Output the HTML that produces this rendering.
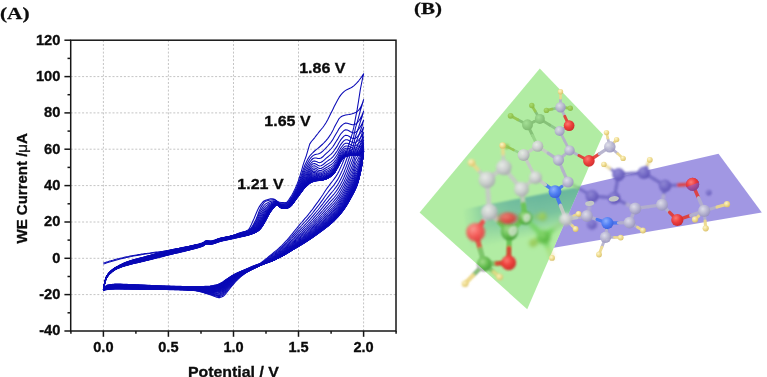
<!DOCTYPE html>
<html><head><meta charset="utf-8"><title>Figure</title>
<style>
html,body{margin:0;padding:0;background:#fff;}
body{width:767px;height:377px;overflow:hidden;}
svg{display:block;}
text{white-space:pre;}
</style></head>
<body>
<svg width="767" height="377" viewBox="0 0 767 377">
<rect width="767" height="377" fill="#ffffff"/>
<defs><clipPath id="pclip"><polygon points="603,134.4 767,100 767,377 498,377 527.2,309.2"/></clipPath></defs>
<g id="mol">
<defs>
<radialGradient id="gC" cx="0.38" cy="0.34" r="0.75"><stop offset="0" stop-color="#eceeec"/><stop offset="0.5" stop-color="#cdcfd0"/><stop offset="1" stop-color="#9c9ea4"/></radialGradient>
<radialGradient id="gCd" cx="0.38" cy="0.34" r="0.75"><stop offset="0" stop-color="#928ad6"/><stop offset="0.5" stop-color="#746ac6"/><stop offset="1" stop-color="#574cb0"/></radialGradient>
<radialGradient id="gCg" cx="0.38" cy="0.34" r="0.75"><stop offset="0" stop-color="#e2e2e2"/><stop offset="0.5" stop-color="#b2b2b2"/><stop offset="1" stop-color="#888888"/></radialGradient>
<radialGradient id="gHg" cx="0.38" cy="0.34" r="0.75"><stop offset="0" stop-color="#e6d890"/><stop offset="0.5" stop-color="#c8b050"/><stop offset="1" stop-color="#a08a30"/></radialGradient>
<radialGradient id="gCp" cx="0.38" cy="0.34" r="0.75"><stop offset="0" stop-color="#e2e2ec"/><stop offset="0.5" stop-color="#bab8d2"/><stop offset="1" stop-color="#8f8ab8"/></radialGradient>
<radialGradient id="gH" cx="0.38" cy="0.34" r="0.75"><stop offset="0" stop-color="#fdf6cf"/><stop offset="0.5" stop-color="#f0dc8c"/><stop offset="1" stop-color="#d2b860"/></radialGradient>
<radialGradient id="gO" cx="0.38" cy="0.34" r="0.75"><stop offset="0" stop-color="#ff7c74"/><stop offset="0.5" stop-color="#ee3836"/><stop offset="1" stop-color="#c62022"/></radialGradient>
<radialGradient id="gOl" cx="0.38" cy="0.34" r="0.75"><stop offset="0" stop-color="#ff9a94"/><stop offset="0.5" stop-color="#f65a58"/><stop offset="1" stop-color="#d83a3c"/></radialGradient>
<radialGradient id="gGg" cx="0.38" cy="0.34" r="0.75"><stop offset="0" stop-color="#98dc80"/><stop offset="0.5" stop-color="#60c048"/><stop offset="1" stop-color="#44a030"/></radialGradient>
<radialGradient id="gGs" cx="0.38" cy="0.34" r="0.75"><stop offset="0" stop-color="#a8e090"/><stop offset="0.5" stop-color="#62bc4c"/><stop offset="1" stop-color="#3c9030"/></radialGradient>
<radialGradient id="gOp" cx="0.38" cy="0.34" r="0.75"><stop offset="0" stop-color="#c878b0"/><stop offset="0.5" stop-color="#a8509c"/><stop offset="1" stop-color="#7c3c8c"/></radialGradient>
<radialGradient id="gN" cx="0.38" cy="0.34" r="0.75"><stop offset="0" stop-color="#8fb2ff"/><stop offset="0.5" stop-color="#4f7ef4"/><stop offset="1" stop-color="#3458d6"/></radialGradient>
<filter id="b04" filterUnits="userSpaceOnUse" x="400" y="40" width="367" height="300"><feGaussianBlur stdDeviation="0.35"/></filter>
<filter id="b05" filterUnits="userSpaceOnUse" x="400" y="40" width="367" height="300"><feGaussianBlur stdDeviation="0.5"/></filter>
<filter id="b06" filterUnits="userSpaceOnUse" x="400" y="40" width="367" height="300"><feGaussianBlur stdDeviation="0.6"/></filter>
<filter id="b07" filterUnits="userSpaceOnUse" x="400" y="40" width="367" height="300"><feGaussianBlur stdDeviation="0.7"/></filter>
<filter id="b08" filterUnits="userSpaceOnUse" x="400" y="40" width="367" height="300"><feGaussianBlur stdDeviation="0.8"/></filter>
<filter id="b09" filterUnits="userSpaceOnUse" x="400" y="40" width="367" height="300"><feGaussianBlur stdDeviation="0.9"/></filter>
<filter id="b10" filterUnits="userSpaceOnUse" x="400" y="40" width="367" height="300"><feGaussianBlur stdDeviation="1.0"/></filter>
<filter id="b11" filterUnits="userSpaceOnUse" x="400" y="40" width="367" height="300"><feGaussianBlur stdDeviation="1.1"/></filter>
<filter id="b12" filterUnits="userSpaceOnUse" x="400" y="40" width="367" height="300"><feGaussianBlur stdDeviation="1.2"/></filter>
<filter id="b13" filterUnits="userSpaceOnUse" x="400" y="40" width="367" height="300"><feGaussianBlur stdDeviation="1.3"/></filter>
<filter id="b14" filterUnits="userSpaceOnUse" x="400" y="40" width="367" height="300"><feGaussianBlur stdDeviation="1.4"/></filter>
<filter id="b15" filterUnits="userSpaceOnUse" x="400" y="40" width="367" height="300"><feGaussianBlur stdDeviation="1.5"/></filter>
<filter id="b20" filterUnits="userSpaceOnUse" x="400" y="40" width="367" height="300"><feGaussianBlur stdDeviation="2.0"/></filter>
<filter id="b22" filterUnits="userSpaceOnUse" x="400" y="40" width="367" height="300"><feGaussianBlur stdDeviation="2.2"/></filter>
<filter id="b30" filterUnits="userSpaceOnUse" x="400" y="40" width="367" height="300"><feGaussianBlur stdDeviation="3.0"/></filter>
<clipPath id="gclip"><polygon points="539.8,68.5 603.0,134.4 527.2,309.2 419.6,212.6"/></clipPath>
<clipPath id="o5clip"><polygon points="680,189.5 704,180.5 704,170 680,170"/></clipPath>
<clipPath id="gout"><polygon points="419.6,212.6 527.2,309.2 527,345 400,345 400,212"/></clipPath>
</defs>
<circle cx="692.6" cy="184.3" r="6.6" fill="url(#gO)" filter="url(#b07)" opacity="1.0"/>
<linearGradient id="tealg" gradientUnits="userSpaceOnUse" x1="530" y1="196" x2="538.4" y2="236"><stop offset="0" stop-color="#5c84f2" stop-opacity="1"/><stop offset="0.5" stop-color="#6088f2" stop-opacity="0.78"/><stop offset="1" stop-color="#6a90f0" stop-opacity="0.0"/></linearGradient>
<linearGradient id="tealm" gradientUnits="userSpaceOnUse" x1="462" y1="0" x2="540" y2="0"><stop offset="0" stop-color="#fff" stop-opacity="0"/><stop offset="0.12" stop-color="#fff" stop-opacity="0.2"/><stop offset="0.3" stop-color="#fff" stop-opacity="0.62"/><stop offset="0.6" stop-color="#fff" stop-opacity="0.86"/><stop offset="1" stop-color="#fff" stop-opacity="1"/></linearGradient>
<mask id="tmask" maskUnits="userSpaceOnUse" x="400" y="100" width="250" height="250"><rect x="400" y="100" width="250" height="250" fill="url(#tealm)"/></mask>
<g clip-path="url(#gclip)"><g mask="url(#tmask)"><polygon points="462,209.6 590,184.8 600,260 470,250" fill="url(#tealg)" filter="url(#b08)"/></g></g>
<polygon points="540,195 718.5,153.8 761.8,212.4 540,250" fill="#8a7edc" opacity="0.8" filter="url(#b04)" clip-path="url(#pclip)"/>
<g filter="url(#b09)" stroke-width="2.70" stroke-linecap="round" opacity="0.9"><path d="M618.6,174.5 L609.7,168.4" stroke="#736ac4"/><path d="M609.7,168.4 L603.9,164.4" stroke="#ecd98c"/></g>
<g filter="url(#b10)" stroke-width="3.14" stroke-linecap="round" opacity="0.9"><path d="M568.0,182.0 L579.7,188.9" stroke="#b4b0cc"/><path d="M579.7,188.9 L592.0,196.2" stroke="#736ac4"/></g>
<g filter="url(#b09)" stroke-width="3.47" stroke-linecap="round" opacity="0.9"><path d="M618.6,174.5 L631.3,173.6" stroke="#736ac4"/><path d="M631.3,173.6 L643.8,172.8" stroke="#736ac4"/></g>
<g filter="url(#b09)" stroke-width="3.47" stroke-linecap="round" opacity="0.9"><path d="M618.6,174.5 L616.4,186.3" stroke="#736ac4"/><path d="M616.4,186.3 L614.2,198.0" stroke="#736ac4"/></g>
<g filter="url(#b09)" stroke-width="3.47" stroke-linecap="round" opacity="0.9"><path d="M643.8,172.8 L654.4,179.3" stroke="#736ac4"/><path d="M654.4,179.3 L665.0,185.8" stroke="#736ac4"/></g>
<g filter="url(#b09)" stroke-width="2.90" stroke-linecap="round" opacity="0.9"><path d="M643.8,172.8 L647.5,164.8" stroke="#736ac4"/><path d="M647.5,164.8 L649.8,159.8" stroke="#ecd98c"/></g>
<g filter="url(#b09)" stroke-width="3.36" stroke-linecap="round" opacity="0.9"><path d="M665.0,185.8 L663.5,195.4" stroke="#736ac4"/><path d="M663.5,195.4 L662.0,204.8" stroke="#b4b0cc"/></g>
<g filter="url(#b09)" stroke-width="3.47" stroke-linecap="round" opacity="0.9"><path d="M665.0,185.8 L678.6,185.1" stroke="#736ac4"/><path d="M678.6,185.1 L692.6,184.3" stroke="#e23a36"/></g>
<g filter="url(#b06)" stroke-width="3.42" stroke-linecap="round" opacity="0.9"><path d="M692.6,184.3 L698.5,197.8" stroke="#e23a36"/><path d="M698.5,197.8 L704.2,210.9" stroke="#b4b0cc"/></g>
<g filter="url(#b08)" stroke-width="3.36" stroke-linecap="round" opacity="0.9"><path d="M635.3,208.5 L624.8,203.3" stroke="#b4b0cc"/><path d="M624.8,203.3 L614.2,198.0" stroke="#736ac4"/></g>
<g filter="url(#b10)" stroke-width="3.47" stroke-linecap="round" opacity="0.9"><path d="M614.2,198.0 L603.2,197.1" stroke="#736ac4"/><path d="M603.2,197.1 L592.0,196.2" stroke="#736ac4"/></g>
<g filter="url(#b10)" stroke-width="3.30" stroke-linecap="round" opacity="0.9"><path d="M592.0,196.2 L589.4,206.3" stroke="#736ac4"/><path d="M589.4,206.3 L587.0,216.0" stroke="#b4b0cc"/></g>
<circle cx="618.6" cy="174.5" r="6.4" fill="url(#gCd)" filter="url(#b11)" opacity="0.95"/>
<circle cx="643.8" cy="172.8" r="6.2" fill="url(#gCd)" filter="url(#b11)" opacity="0.95"/>
<circle cx="665.0" cy="185.8" r="6.2" fill="url(#gCd)" filter="url(#b11)" opacity="0.95"/>
<circle cx="614.2" cy="198.0" r="6.2" fill="url(#gCd)" filter="url(#b10)" opacity="0.95"/>
<circle cx="592.0" cy="196.2" r="6.4" fill="url(#gCd)" filter="url(#b12)" opacity="0.95"/>
<circle cx="708.7" cy="192.6" r="2.8" fill="url(#gCd)" filter="url(#b12)" opacity="0.95"/>
<circle cx="592.0" cy="224.5" r="5.0" fill="url(#gCd)" filter="url(#b15)" opacity="0.95"/>
<g filter="url(#b05)" stroke-width="2.70" stroke-linecap="round" opacity="1.0"><path d="M560.5,107.2 L552.2,109.1" stroke="#b4b0cc"/><path d="M552.2,109.1 L546.4,110.4" stroke="#c4ae50"/></g>
<g filter="url(#b05)" stroke-width="2.70" stroke-linecap="round" opacity="1.0"><path d="M560.5,107.2 L566.6,107.9" stroke="#b4b0cc"/><path d="M566.6,107.9 L570.3,108.3" stroke="#c4ae50"/></g>
<g filter="url(#b05)" stroke-width="2.80" stroke-linecap="round" opacity="1.0"><path d="M559.6,131.0 L549.7,125.0" stroke="#b4b0cc"/><path d="M549.7,125.0 L539.8,118.9" stroke="#a0a0a0"/></g>
<g filter="url(#b05)" stroke-width="2.80" stroke-linecap="round" opacity="1.0"><path d="M539.8,118.9 L533.9,121.7" stroke="#a0a0a0"/><path d="M533.9,121.7 L527.5,124.8" stroke="#a0a0a0"/></g>
<g filter="url(#b05)" stroke-width="2.70" stroke-linecap="round" opacity="1.0"><path d="M539.8,118.9 L535.2,111.2" stroke="#a0a0a0"/><path d="M535.2,111.2 L531.8,105.5" stroke="#c4ae50"/></g>
<g filter="url(#b05)" stroke-width="2.90" stroke-linecap="round" opacity="1.0"><path d="M527.5,124.8 L517.9,119.7" stroke="#a0a0a0"/><path d="M517.9,119.7 L510.6,115.8" stroke="#c4ae50"/></g>
<g filter="url(#b05)" stroke-width="3.08" stroke-linecap="round" opacity="1.0"><path d="M527.5,124.8 L532.6,135.5" stroke="#a0a0a0"/><path d="M532.6,135.5 L537.7,146.2" stroke="#c6cac6"/></g>
<g filter="url(#b06)" stroke-width="2.60" stroke-linecap="round" opacity="1.0"><path d="M523.6,154.9 L513.5,149.9" stroke="#c6cac6"/><path d="M513.5,149.9 L506.5,146.4" stroke="#c4ae50"/></g>
<g filter="url(#b09)" stroke-width="3.92" stroke-linecap="round" opacity="1.0"><path d="M521.5,189.3 L523.3,203.8" stroke="#c6cac6"/><path d="M523.3,203.8 L525.0,217.8" stroke="#6cc058"/></g>
<g filter="url(#b10)" stroke-width="4.70" stroke-linecap="round" opacity="1.0"><path d="M489.4,212.1 L499.3,221.9" stroke="#c6cac6"/><path d="M499.3,221.9 L509.4,231.8" stroke="#6cc058"/></g>
<g filter="url(#b11)" stroke-width="4.03" stroke-linecap="round" opacity="1.0"><path d="M475.6,232.2 L480.2,249.1" stroke="#ee4a48"/><path d="M480.2,249.1 L484.3,264.0" stroke="#a0a0a0"/></g>
<g filter="url(#b10)" stroke-width="4.14" stroke-linecap="round" opacity="1.0"><path d="M509.4,231.8 L509.0,247.9" stroke="#6cc058"/><path d="M509.0,247.9 L508.7,262.8" stroke="#e23a36"/></g>
<g filter="url(#b08)" stroke-width="4.03" stroke-linecap="round" opacity="1.0"><path d="M484.3,264.0 L496.4,263.4" stroke="#a0a0a0"/><path d="M496.4,263.4 L508.7,262.8" stroke="#e23a36"/></g>
<g filter="url(#b08)" stroke-width="3.30" stroke-linecap="round" opacity="1.0"><path d="M484.3,264.0 L473.3,275.2" stroke="#a0a0a0"/><path d="M473.3,275.2 L465.0,283.7" stroke="#ecd98c"/></g>
<g filter="url(#b08)" stroke-width="3.30" stroke-linecap="round" opacity="1.0"><path d="M484.3,264.0 L493.4,271.8" stroke="#a0a0a0"/><path d="M493.4,271.8 L499.6,277.0" stroke="#ecd98c"/></g>
<g filter="url(#b10)" stroke-width="3.92" stroke-linecap="round" opacity="1.0"><path d="M525.0,217.8 L517.8,224.3" stroke="#6cc058"/><path d="M517.8,224.3 L509.4,231.8" stroke="#6cc058"/></g>
<g filter="url(#b20)" stroke-width="3.70" stroke-linecap="round" opacity="1.0"><path d="M525.0,217.8 L534.5,227.5" stroke="#6cc058"/><path d="M534.5,227.5 L543.8,237.0" stroke="#5cc044"/></g>
<g filter="url(#b20)" stroke-width="3.70" stroke-linecap="round" opacity="1.0"><path d="M543.8,237.0 L554.8,228.2" stroke="#5cc044"/><path d="M554.8,228.2 L565.9,219.4" stroke="#c6cac6"/></g>
<g filter="url(#b20)" stroke-width="2.90" stroke-linecap="round" opacity="1.0"><path d="M543.8,237.0 L548.6,249.2" stroke="#5cc044"/><path d="M548.6,249.2 L552.0,257.9" stroke="#ecd98c"/></g>
<g filter="url(#b20)" stroke-width="3.50" stroke-linecap="round" opacity="1.0"><path d="M543.8,237.0 L537.0,240.7" stroke="#5cc044"/><path d="M537.0,240.7 L532.9,243.0" stroke="#c4ae50"/></g>
<g filter="url(#b20)" stroke-width="2.24" stroke-linecap="round" opacity="1.0"><path d="M525.0,217.8 L535.2,217.0" stroke="#6cc058"/><path d="M535.2,217.0 L542.4,216.5" stroke="#c4ae50"/></g>
<circle cx="546.4" cy="110.4" r="2.7" fill="url(#gHg)" filter="url(#b06)" opacity="1.0"/>
<circle cx="570.3" cy="108.3" r="2.7" fill="url(#gHg)" filter="url(#b06)" opacity="1.0"/>
<circle cx="539.8" cy="118.9" r="5.0" fill="url(#gCg)" filter="url(#b06)" opacity="1.0"/>
<circle cx="527.5" cy="124.8" r="5.5" fill="url(#gCg)" filter="url(#b06)" opacity="1.0"/>
<circle cx="531.8" cy="105.5" r="2.7" fill="url(#gHg)" filter="url(#b06)" opacity="1.0"/>
<circle cx="510.6" cy="115.8" r="2.9" fill="url(#gHg)" filter="url(#b06)" opacity="1.0"/>
<circle cx="506.5" cy="146.4" r="2.6" fill="url(#gHg)" filter="url(#b08)" opacity="1.0"/>
<circle cx="484.3" cy="264.0" r="7.2" fill="url(#gCg)" filter="url(#b10)" opacity="1.0"/>
<circle cx="542.4" cy="216.5" r="4.0" fill="url(#gHg)" filter="url(#b22)" opacity="1.0"/>
<circle cx="532.9" cy="243.0" r="3.5" fill="url(#gHg)" filter="url(#b22)" opacity="1.0"/>
<polygon points="539.8,68.5 603.0,134.4 527.2,309.2 419.6,212.6" fill="#72de58" opacity="0.55" filter="url(#b04)"/>
<g filter="url(#b11)" stroke-width="4.03" stroke-linecap="round" opacity="0.85"><path d="M475.6,232.2 L480.2,249.1" stroke="#ee4a48"/><path d="M480.2,249.1 L484.3,264.0" stroke="#7cc868"/></g>
<g filter="url(#b08)" stroke-width="4.03" stroke-linecap="round" opacity="0.85"><path d="M484.3,264.0 L496.4,263.4" stroke="#7cc868"/><path d="M496.4,263.4 L508.7,262.8" stroke="#e23a36"/></g>
<g filter="url(#b10)" stroke-width="4.14" stroke-linecap="round" opacity="0.85"><path d="M509.4,231.8 L509.0,247.9" stroke="#6cc058"/><path d="M509.0,247.9 L508.7,262.8" stroke="#e23a36"/></g>
<g filter="url(#b08)" stroke-width="3.30" stroke-linecap="round" opacity="0.85"><path d="M484.3,264.0 L473.3,275.2" stroke="#7cc868"/><path d="M473.3,275.2 L465.0,283.7" stroke="#ecd98c"/></g>
<g filter="url(#b08)" stroke-width="3.30" stroke-linecap="round" opacity="0.85"><path d="M484.3,264.0 L493.4,271.8" stroke="#7cc868"/><path d="M493.4,271.8 L499.6,277.0" stroke="#ecd98c"/></g>
<g filter="url(#b10)" stroke-width="4.70" stroke-linecap="round" opacity="0.85"><path d="M489.4,212.1 L499.3,221.9" stroke="#c6cac6"/><path d="M499.3,221.9 L509.4,231.8" stroke="#6cc058"/></g>
<g filter="url(#b10)" stroke-width="3.92" stroke-linecap="round" opacity="0.85"><path d="M525.0,217.8 L517.8,224.3" stroke="#6cc058"/><path d="M517.8,224.3 L509.4,231.8" stroke="#6cc058"/></g>
<g filter="url(#b09)" stroke-width="3.92" stroke-linecap="round" opacity="0.85"><path d="M521.5,189.3 L523.3,203.8" stroke="#c6cac6"/><path d="M523.3,203.8 L525.0,217.8" stroke="#6cc058"/></g>
<g filter="url(#b05)" stroke-width="2.70" stroke-linecap="round" opacity="0.92"><path d="M560.5,107.2 L560.5,98.2" stroke="#b4b0cc"/><path d="M560.5,98.2 L560.5,91.8" stroke="#ecd98c"/></g>
<g filter="url(#b05)" stroke-width="2.91" stroke-linecap="round" opacity="0.92"><path d="M560.5,107.2 L564.8,116.3" stroke="#b4b0cc"/><path d="M564.8,116.3 L569.1,125.6" stroke="#e23a36"/></g>
<g filter="url(#b05)" stroke-width="2.80" stroke-linecap="round" opacity="0.92"><path d="M569.1,125.6 L564.2,128.4" stroke="#e23a36"/><path d="M564.2,128.4 L559.6,131.0" stroke="#b4b0cc"/></g>
<g filter="url(#b05)" stroke-width="2.80" stroke-linecap="round" opacity="0.92"><path d="M559.6,131.0 L564.5,140.6" stroke="#b4b0cc"/><path d="M564.5,140.6 L569.5,150.4" stroke="#b4b0cc"/></g>
<g filter="url(#b06)" stroke-width="3.14" stroke-linecap="round" opacity="0.92"><path d="M537.7,146.2 L530.8,150.4" stroke="#c6cac6"/><path d="M530.8,150.4 L523.6,154.9" stroke="#c6cac6"/></g>
<g filter="url(#b05)" stroke-width="3.14" stroke-linecap="round" opacity="0.92"><path d="M537.7,146.2 L548.1,153.1" stroke="#c6cac6"/><path d="M548.1,153.1 L558.5,160.1" stroke="#b4b0cc"/></g>
<g filter="url(#b05)" stroke-width="2.91" stroke-linecap="round" opacity="0.92"><path d="M569.5,150.4 L564.2,155.1" stroke="#b4b0cc"/><path d="M564.2,155.1 L558.5,160.1" stroke="#b4b0cc"/></g>
<g filter="url(#b05)" stroke-width="2.91" stroke-linecap="round" opacity="0.92"><path d="M569.5,150.4 L578.9,155.5" stroke="#b4b0cc"/><path d="M578.9,155.5 L588.9,160.9" stroke="#e23a36"/></g>
<g filter="url(#b06)" stroke-width="3.36" stroke-linecap="round" opacity="0.92"><path d="M523.6,154.9 L529.5,166.0" stroke="#c6cac6"/><path d="M529.5,166.0 L535.6,177.5" stroke="#c6cac6"/></g>
<g filter="url(#b05)" stroke-width="3.14" stroke-linecap="round" opacity="0.92"><path d="M558.5,160.1 L563.2,171.1" stroke="#b4b0cc"/><path d="M563.2,171.1 L568.0,182.0" stroke="#b4b0cc"/></g>
<g filter="url(#b06)" stroke-width="3.14" stroke-linecap="round" opacity="0.92"><path d="M568.0,182.0 L561.8,186.6" stroke="#b4b0cc"/><path d="M561.8,186.6 L555.0,191.6" stroke="#4474f0"/></g>
<g filter="url(#b06)" stroke-width="3.58" stroke-linecap="round" opacity="0.92"><path d="M555.0,191.6 L545.3,184.6" stroke="#4474f0"/><path d="M545.3,184.6 L535.6,177.5" stroke="#c6cac6"/></g>
<g filter="url(#b06)" stroke-width="3.58" stroke-linecap="round" opacity="0.92"><path d="M555.0,191.6 L560.4,205.4" stroke="#4474f0"/><path d="M560.4,205.4 L565.9,219.4" stroke="#c6cac6"/></g>
<g filter="url(#b08)" stroke-width="3.58" stroke-linecap="round" opacity="0.92"><path d="M535.6,177.5 L529.0,183.0" stroke="#c6cac6"/><path d="M529.0,183.0 L521.5,189.3" stroke="#c6cac6"/></g>
<g filter="url(#b08)" stroke-width="3.28" stroke-linecap="round" opacity="0.92"><path d="M503.8,167.5 L503.1,154.2" stroke="#c6cac6"/><path d="M503.1,154.2 L502.6,145.4" stroke="#ecd98c"/></g>
<g filter="url(#b08)" stroke-width="4.20" stroke-linecap="round" opacity="0.92"><path d="M503.8,167.5 L512.7,178.5" stroke="#c6cac6"/><path d="M512.7,178.5 L521.5,189.3" stroke="#c6cac6"/></g>
<g filter="url(#b10)" stroke-width="4.37" stroke-linecap="round" opacity="0.92"><path d="M503.8,167.5 L495.6,173.5" stroke="#c6cac6"/><path d="M495.6,173.5 L487.0,179.8" stroke="#c6cac6"/></g>
<g filter="url(#b10)" stroke-width="3.70" stroke-linecap="round" opacity="0.92"><path d="M487.0,179.8 L477.7,169.5" stroke="#c6cac6"/><path d="M477.7,169.5 L471.5,162.6" stroke="#ecd98c"/></g>
<g filter="url(#b10)" stroke-width="4.70" stroke-linecap="round" opacity="0.92"><path d="M487.0,179.8 L488.2,195.9" stroke="#c6cac6"/><path d="M488.2,195.9 L489.4,212.1" stroke="#c6cac6"/></g>
<g filter="url(#b11)" stroke-width="4.70" stroke-linecap="round" opacity="0.92"><path d="M489.4,212.1 L482.8,221.8" stroke="#c6cac6"/><path d="M482.8,221.8 L475.6,232.2" stroke="#ee4a48"/></g>
<g filter="url(#b06)" stroke-width="2.90" stroke-linecap="round" opacity="0.92"><path d="M565.9,219.4 L573.9,215.9" stroke="#c6cac6"/><path d="M573.9,215.9 L578.6,213.8" stroke="#ecd98c"/></g>
<g filter="url(#b06)" stroke-width="2.90" stroke-linecap="round" opacity="0.92"><path d="M565.9,219.4 L572.1,225.5" stroke="#c6cac6"/><path d="M572.1,225.5 L575.6,229.0" stroke="#ecd98c"/></g>
<g filter="url(#b05)" stroke-width="3.25" stroke-linecap="round" opacity="0.92"><path d="M588.9,160.9 L599.3,153.9" stroke="#e23a36"/><path d="M599.3,153.9 L609.8,146.8" stroke="#b4b0cc"/></g>
<g filter="url(#b05)" stroke-width="2.70" stroke-linecap="round" opacity="0.92"><path d="M609.8,146.8 L607.8,138.2" stroke="#b4b0cc"/><path d="M607.8,138.2 L606.5,132.6" stroke="#ecd98c"/></g>
<g filter="url(#b05)" stroke-width="2.70" stroke-linecap="round" opacity="0.92"><path d="M609.8,146.8 L614.3,142.1" stroke="#b4b0cc"/><path d="M614.3,142.1 L616.6,139.6" stroke="#ecd98c"/></g>
<g filter="url(#b05)" stroke-width="2.70" stroke-linecap="round" opacity="0.92"><path d="M609.8,146.8 L617.6,153.6" stroke="#b4b0cc"/><path d="M617.6,153.6 L623.1,158.4" stroke="#ecd98c"/></g>
<g filter="url(#b06)" stroke-width="3.36" stroke-linecap="round" opacity="0.92"><path d="M662.0,204.8 L648.6,206.7" stroke="#b4b0cc"/><path d="M648.6,206.7 L635.3,208.5" stroke="#b4b0cc"/></g>
<g filter="url(#b06)" stroke-width="3.36" stroke-linecap="round" opacity="0.92"><path d="M662.0,204.8 L669.6,212.4" stroke="#b4b0cc"/><path d="M669.6,212.4 L677.3,220.0" stroke="#e23a36"/></g>
<g filter="url(#b06)" stroke-width="3.42" stroke-linecap="round" opacity="0.92"><path d="M677.3,220.0 L690.8,215.4" stroke="#e23a36"/><path d="M690.8,215.4 L704.2,210.9" stroke="#b4b0cc"/></g>
<g filter="url(#b06)" stroke-width="3.10" stroke-linecap="round" opacity="0.92"><path d="M704.2,210.9 L717.0,207.1" stroke="#b4b0cc"/><path d="M717.0,207.1 L727.0,204.2" stroke="#ecd98c"/></g>
<g filter="url(#b06)" stroke-width="3.10" stroke-linecap="round" opacity="0.92"><path d="M704.2,210.9 L698.5,216.2" stroke="#b4b0cc"/><path d="M698.5,216.2 L695.0,219.4" stroke="#ecd98c"/></g>
<g filter="url(#b06)" stroke-width="3.10" stroke-linecap="round" opacity="0.92"><path d="M704.2,210.9 L705.1,221.1" stroke="#b4b0cc"/><path d="M705.1,221.1 L705.7,228.3" stroke="#ecd98c"/></g>
<g filter="url(#b06)" stroke-width="3.30" stroke-linecap="round" opacity="0.92"><path d="M635.3,208.5 L632.4,215.6" stroke="#b4b0cc"/><path d="M632.4,215.6 L629.5,222.6" stroke="#b4b0cc"/></g>
<g filter="url(#b06)" stroke-width="3.30" stroke-linecap="round" opacity="0.92"><path d="M587.0,216.0 L597.1,219.5" stroke="#b4b0cc"/><path d="M597.1,219.5 L607.4,223.0" stroke="#4474f0"/></g>
<g filter="url(#b06)" stroke-width="3.30" stroke-linecap="round" opacity="0.92"><path d="M587.0,216.0 L576.8,217.6" stroke="#b4b0cc"/><path d="M576.8,217.6 L565.9,219.4" stroke="#c6cac6"/></g>
<g filter="url(#b06)" stroke-width="3.30" stroke-linecap="round" opacity="0.92"><path d="M607.4,223.0 L618.5,222.8" stroke="#4474f0"/><path d="M618.5,222.8 L629.5,222.6" stroke="#b4b0cc"/></g>
<g filter="url(#b06)" stroke-width="3.19" stroke-linecap="round" opacity="0.92"><path d="M607.4,223.0 L606.5,230.3" stroke="#4474f0"/><path d="M606.5,230.3 L605.6,237.2" stroke="#b4b0cc"/></g>
<g filter="url(#b06)" stroke-width="2.90" stroke-linecap="round" opacity="0.92"><path d="M605.6,237.2 L614.5,237.4" stroke="#b4b0cc"/><path d="M614.5,237.4 L620.7,237.6" stroke="#ecd98c"/></g>
<g filter="url(#b06)" stroke-width="2.90" stroke-linecap="round" opacity="0.92"><path d="M605.6,237.2 L601.8,247.2" stroke="#b4b0cc"/><path d="M601.8,247.2 L599.0,254.5" stroke="#ecd98c"/></g>
<g filter="url(#b06)" stroke-width="2.90" stroke-linecap="round" opacity="0.92"><path d="M629.5,222.6 L637.5,227.3" stroke="#b4b0cc"/><path d="M637.5,227.3 L642.9,230.5" stroke="#ecd98c"/></g>
<circle cx="560.5" cy="91.8" r="2.7" fill="url(#gH)" filter="url(#b05)" opacity="0.95"/>
<circle cx="560.5" cy="107.2" r="5.2" fill="url(#gCp)" filter="url(#b06)" opacity="0.9"/>
<circle cx="569.1" cy="125.6" r="5.4" fill="url(#gO)" filter="url(#b06)" opacity="0.95"/>
<circle cx="559.6" cy="131.0" r="5.0" fill="url(#gCp)" filter="url(#b06)" opacity="0.9"/>
<circle cx="537.7" cy="146.2" r="5.6" fill="url(#gC)" filter="url(#b06)" opacity="0.9"/>
<circle cx="569.5" cy="150.4" r="5.2" fill="url(#gCp)" filter="url(#b06)" opacity="0.9"/>
<circle cx="588.9" cy="160.9" r="5.8" fill="url(#gO)" filter="url(#b06)" opacity="0.95"/>
<circle cx="609.8" cy="146.8" r="5.8" fill="url(#gCp)" filter="url(#b06)" opacity="0.9"/>
<circle cx="606.5" cy="132.6" r="2.7" fill="url(#gH)" filter="url(#b05)" opacity="0.95"/>
<circle cx="616.6" cy="139.6" r="2.7" fill="url(#gH)" filter="url(#b05)" opacity="0.95"/>
<circle cx="623.1" cy="158.4" r="2.7" fill="url(#gH)" filter="url(#b05)" opacity="0.95"/>
<circle cx="603.9" cy="164.4" r="2.7" fill="url(#gH)" filter="url(#b05)" opacity="0.95"/>
<circle cx="523.6" cy="154.9" r="6.0" fill="url(#gC)" filter="url(#b07)" opacity="0.9"/>
<circle cx="558.5" cy="160.1" r="5.6" fill="url(#gCp)" filter="url(#b06)" opacity="0.9"/>
<circle cx="502.6" cy="145.4" r="3.2" fill="url(#gH)" filter="url(#b07)" opacity="0.95"/>
<circle cx="503.8" cy="167.5" r="7.8" fill="url(#gC)" filter="url(#b10)" opacity="0.9"/>
<circle cx="535.6" cy="177.5" r="6.4" fill="url(#gC)" filter="url(#b08)" opacity="0.9"/>
<circle cx="568.0" cy="182.0" r="5.6" fill="url(#gCp)" filter="url(#b06)" opacity="0.9"/>
<circle cx="555.0" cy="191.6" r="6.4" fill="url(#gN)" filter="url(#b07)" opacity="0.95"/>
<circle cx="521.5" cy="189.3" r="7.5" fill="url(#gC)" filter="url(#b10)" opacity="0.9"/>
<circle cx="487.0" cy="179.8" r="8.4" fill="url(#gC)" filter="url(#b13)" opacity="0.9"/>
<circle cx="471.5" cy="162.6" r="3.7" fill="url(#gH)" filter="url(#b10)" opacity="0.95"/>
<circle cx="489.4" cy="212.1" r="8.4" fill="url(#gC)" filter="url(#b13)" opacity="0.9"/>
<circle cx="525.0" cy="217.8" r="7.0" fill="url(#gGs)" filter="url(#b11)" opacity="0.9"/>
<circle cx="565.9" cy="219.4" r="6.6" fill="url(#gC)" filter="url(#b08)" opacity="0.9"/>
<circle cx="578.6" cy="213.8" r="2.9" fill="url(#gH)" filter="url(#b06)" opacity="0.95"/>
<circle cx="575.6" cy="229.0" r="2.9" fill="url(#gH)" filter="url(#b06)" opacity="0.95"/>
<circle cx="475.6" cy="232.2" r="9.3" fill="url(#gOl)" filter="url(#b14)" opacity="0.95"/>
<circle cx="509.4" cy="231.8" r="8.6" fill="url(#gGs)" filter="url(#b12)" opacity="0.9"/>
<g transform="translate(507.9,218.3) scale(1.3,0.85) translate(-507.9,-218.3)"><circle cx="507.9" cy="218.3" r="7.0" fill="url(#gO)" filter="url(#b20)" opacity="0.85"/></g>
<circle cx="508.7" cy="262.8" r="7.4" fill="url(#gO)" filter="url(#b10)" opacity="0.95"/>
<circle cx="465.0" cy="283.7" r="3.3" fill="url(#gH)" filter="url(#b09)" opacity="0.95"/>
<circle cx="499.6" cy="277.0" r="3.3" fill="url(#gH)" filter="url(#b09)" opacity="0.95"/>
<circle cx="543.8" cy="237.0" r="6.6" fill="url(#gGg)" filter="url(#b22)" opacity="0.9"/>
<circle cx="552.0" cy="257.9" r="2.9" fill="url(#gH)" filter="url(#b07)" opacity="0.95"/>
<circle cx="649.8" cy="159.8" r="2.9" fill="url(#gH)" filter="url(#b05)" opacity="0.95"/>
<circle cx="692.6" cy="184.3" r="6.6" fill="url(#gOp)" filter="url(#b07)" opacity="0.95"/>
<g clip-path="url(#o5clip)"><circle cx="692.6" cy="184.3" r="6.6" fill="url(#gO)" filter="url(#b07)" opacity="0.95"/></g>
<circle cx="662.0" cy="204.8" r="6.0" fill="url(#gCp)" filter="url(#b07)" opacity="0.9"/>
<circle cx="635.3" cy="208.5" r="6.0" fill="url(#gCp)" filter="url(#b07)" opacity="0.9"/>
<circle cx="587.0" cy="216.0" r="5.9" fill="url(#gCp)" filter="url(#b07)" opacity="0.9"/>
<circle cx="607.4" cy="223.0" r="6.1" fill="url(#gN)" filter="url(#b07)" opacity="0.95"/>
<circle cx="629.5" cy="222.6" r="5.9" fill="url(#gCp)" filter="url(#b07)" opacity="0.9"/>
<circle cx="605.6" cy="237.2" r="5.7" fill="url(#gCp)" filter="url(#b07)" opacity="0.9"/>
<circle cx="620.7" cy="237.6" r="2.9" fill="url(#gH)" filter="url(#b05)" opacity="0.95"/>
<circle cx="599.0" cy="254.5" r="2.9" fill="url(#gH)" filter="url(#b05)" opacity="0.95"/>
<circle cx="642.9" cy="230.5" r="2.9" fill="url(#gH)" filter="url(#b05)" opacity="0.95"/>
<circle cx="677.3" cy="220.0" r="6.1" fill="url(#gO)" filter="url(#b07)" opacity="0.95"/>
<circle cx="704.2" cy="210.9" r="6.1" fill="url(#gCp)" filter="url(#b07)" opacity="0.9"/>
<circle cx="727.0" cy="204.2" r="3.1" fill="url(#gH)" filter="url(#b06)" opacity="0.95"/>
<circle cx="695.0" cy="219.4" r="3.1" fill="url(#gH)" filter="url(#b06)" opacity="0.95"/>
<circle cx="705.7" cy="228.3" r="3.1" fill="url(#gH)" filter="url(#b06)" opacity="0.95"/>
<g clip-path="url(#gclip)"><circle cx="484.3" cy="264.0" r="7.2" fill="url(#gGs)" filter="url(#b10)" opacity="0.9"/></g>
<g clip-path="url(#gout)"><circle cx="484.3" cy="264.0" r="7.2" fill="url(#gC)" filter="url(#b10)" opacity="0.95"/></g>
<g filter="url(#b13)" fill="#e8ece6" opacity="0.66"><ellipse cx="513.0" cy="230.8" rx="4.4" ry="5.6" transform="rotate(25 513.0 230.8)"/><ellipse cx="527.0" cy="217.8" rx="3.8" ry="4.8" transform="rotate(25 527.0 217.8)"/></g>
<g filter="url(#b06)" fill="#c9cec4" opacity="0.92"><ellipse cx="589.7" cy="203.4" rx="4.6" ry="2.5" transform="rotate(-8 589.7 203.4)"/><ellipse cx="613.8" cy="198.8" rx="5.2" ry="2.7" transform="rotate(-8 613.8 198.8)"/></g>
</g>
<g id="chart">
<g stroke="#c4c4c4" stroke-width="1" stroke-dasharray="2,1.8" fill="none">
<path d="M103.4,40.2 V331.0"/>
<path d="M168.4,40.2 V331.0"/>
<path d="M233.5,40.2 V331.0"/>
<path d="M298.5,40.2 V331.0"/>
<path d="M363.6,40.2 V331.0"/>
<path d="M70.7,294.6 H396.0"/>
<path d="M70.7,258.3 H396.0"/>
<path d="M70.7,222.0 H396.0"/>
<path d="M70.7,185.6 H396.0"/>
<path d="M70.7,149.2 H396.0"/>
<path d="M70.7,112.9 H396.0"/>
<path d="M70.7,76.6 H396.0"/>
</g>
<g stroke="#0a0ab6" stroke-width="1.05" fill="none" stroke-linejoin="round">
<path d="M103.4,263.0 104.4,262.7 105.5,262.4 106.5,262.0 107.6,261.7 108.6,261.4 109.6,261.1 110.7,260.8 111.7,260.5 112.8,260.2 113.8,259.9 114.8,259.6 115.9,259.3 116.9,259.1 118.0,258.8 119.0,258.6 120.3,258.3 121.9,257.9 123.6,257.5 125.2,257.1 126.8,256.8 128.5,256.5 130.1,256.1 131.7,255.8 133.4,255.5 135.0,255.2 136.6,254.9 138.3,254.6 139.9,254.4 141.5,254.1 143.2,253.9 144.8,253.6 146.4,253.4 148.1,253.2 149.7,253.0 151.3,252.7 153.0,252.5 154.6,252.3 156.2,252.1 157.9,251.9 159.5,251.7 161.1,251.4 162.8,251.2 164.4,250.9 166.0,250.7 167.7,250.4 169.3,250.2 170.9,249.9 172.6,249.6 174.2,249.3 175.8,249.0 177.5,248.7 179.1,248.4 180.7,248.1 182.4,247.7 184.0,247.4 185.6,247.1 187.3,246.8 188.9,246.4 190.5,246.1 192.2,245.7 193.8,245.4 195.4,245.0 197.1,244.7 198.7,244.4 200.3,244.0 202.0,243.6 203.6,243.0 205.2,241.8 206.9,241.4 208.5,241.6 210.1,241.8 211.7,241.6 213.4,241.1 215.0,240.5 216.6,239.8 218.3,239.1 219.9,238.5 221.5,238.0 223.2,237.7 224.8,237.3 226.4,237.0 228.1,236.6 229.7,236.3 231.3,235.9 233.0,235.5 234.6,235.1 236.2,234.6 237.9,234.0 239.5,233.4 241.1,232.8 242.8,232.3 244.4,231.7 246.0,231.0 247.7,230.1 249.3,228.7 250.9,225.6 252.6,221.8 254.2,218.2 255.8,214.2 257.5,210.3 259.1,207.1 260.7,204.6 262.4,202.5 264.0,201.0 265.6,200.3 267.3,199.7 268.9,199.2 270.5,198.8 272.2,198.7 273.8,199.0 275.4,200.0 277.1,201.1 278.7,201.9 280.3,202.2 282.0,202.4 283.6,202.6 285.2,202.7 286.9,202.2 288.5,200.4 290.1,197.9 291.8,195.2 293.4,192.3 295.0,188.9 296.7,185.1 298.3,180.9 299.9,176.0 301.6,170.3 303.2,164.7 304.8,159.9 306.5,155.2 308.1,149.6 309.7,144.1 311.4,141.5 313.0,139.7 314.6,137.8 316.2,135.6 317.9,133.5 319.5,131.4 321.1,129.5 322.8,127.5 324.4,125.3 326.0,122.7 327.7,119.7 329.3,116.5 330.9,113.3 332.6,109.9 334.2,106.6 335.8,103.4 337.5,100.3 339.1,97.4 340.7,95.1 342.4,93.2 344.0,91.6 345.6,90.4 347.3,89.5 348.9,88.8 350.5,88.1 352.2,87.0 353.8,85.8 355.4,84.3 357.1,82.7 358.7,80.8 360.3,78.7 362.0,76.4 363.6,73.8 363.6,73.8 362.0,81.1 360.3,89.7 358.7,100.2 357.1,109.9 355.4,118.6 353.8,127.2 352.2,133.9 350.5,139.2 348.9,144.5 347.3,149.8 345.6,154.9 344.0,159.5 342.4,163.6 340.7,167.4 339.1,170.9 337.5,174.0 335.8,176.6 334.2,178.9 332.6,181.0 330.9,183.1 329.3,185.2 327.7,187.4 326.0,189.8 324.4,192.3 322.8,194.8 321.1,197.2 319.5,199.6 317.9,201.9 316.2,204.1 314.6,206.4 313.0,208.6 311.4,210.7 309.7,212.8 308.1,214.9 306.5,216.8 304.8,218.7 303.2,220.6 301.6,222.5 299.9,224.4 298.3,226.3 296.7,228.3 295.0,230.3 293.4,232.4 291.8,234.4 290.1,236.4 288.5,238.3 286.9,240.1 285.2,241.9 283.6,243.7 282.0,245.4 280.3,247.0 278.7,248.5 277.1,249.8 275.4,251.2 273.8,252.5 272.2,253.8 270.5,255.2 268.9,256.5 267.3,257.8 265.6,259.1 264.0,260.4 262.4,261.6 260.7,262.9 259.1,264.1 257.5,265.2 255.8,266.4 254.2,267.4 252.6,268.4 250.9,269.5 249.3,270.5 247.7,271.6 246.0,272.7 244.4,273.8 242.8,275.0 241.1,276.4 239.5,277.8 237.9,279.4 236.2,281.0 234.6,282.8 233.0,284.7 231.3,286.7 229.7,288.7 228.1,290.8 226.4,293.0 224.8,294.9 223.2,296.3 221.5,297.1 219.9,297.6 218.3,297.6 216.6,297.2 215.0,296.6 213.4,295.9 211.7,295.3 210.1,294.7 208.5,294.2 206.9,293.7 205.2,293.2 203.6,292.6 202.0,292.1 200.3,291.7 198.7,291.3 197.1,291.0 195.4,290.7 193.8,290.6 192.2,290.5 190.5,290.4 188.9,290.3 187.3,290.2 185.6,290.1 184.0,290.0 182.4,289.9 180.7,289.9 179.1,289.8 177.5,289.8 175.8,289.7 174.2,289.7 172.6,289.6 170.9,289.6 169.3,289.6 167.7,289.6 166.0,289.5 164.4,289.5 162.8,289.5 161.1,289.5 159.5,289.5 157.9,289.5 156.2,289.5 154.6,289.5 153.0,289.4 151.3,289.4 149.7,289.4 148.1,289.4 146.4,289.4 144.8,289.4 143.2,289.4 141.5,289.4 139.9,289.4 138.3,289.3 136.6,289.3 135.0,289.3 133.4,289.2 131.7,289.2 130.1,289.2 128.5,289.1 126.8,289.1 125.2,289.1 123.6,289.1 121.9,289.0 120.3,289.0 119.0,289.0 118.0,289.0 116.9,289.0 115.9,289.0 114.8,289.0 113.8,289.1 112.8,289.1 111.7,289.2 110.7,289.3 109.6,289.3 108.6,289.4 107.6,289.5 106.5,289.7 105.5,289.8 104.4,290.1 103.4,290.3"/>
<path d="M103.4,289.6 104.4,284.1 105.5,279.3 106.5,276.4 107.6,274.7 108.6,273.3 109.6,272.2 110.7,271.2 111.7,270.2 112.8,269.4 113.8,268.7 114.8,268.0 115.9,267.3 116.9,266.7 118.0,266.1 119.0,265.6 120.3,264.9 121.9,264.1 123.6,263.3 125.2,262.6 126.8,262.0 128.5,261.4 130.1,260.8 131.7,260.3 133.4,259.8 135.0,259.3 136.6,258.9 138.3,258.5 139.9,258.1 141.5,257.6 143.2,257.2 144.8,256.7 146.4,256.3 148.1,255.8 149.7,255.4 151.3,254.9 153.0,254.5 154.6,254.0 156.2,253.6 157.9,253.2 159.5,252.7 161.1,252.3 162.8,251.9 164.4,251.5 166.0,251.1 167.7,250.7 169.3,250.3 170.9,249.9 172.6,249.6 174.2,249.2 175.8,248.9 177.5,248.6 179.1,248.3 180.7,247.9 182.4,247.6 184.0,247.3 185.6,247.0 187.3,246.6 188.9,246.3 190.5,245.9 192.2,245.6 193.8,245.2 195.4,244.8 197.1,244.4 198.7,244.1 200.3,243.6 202.0,243.1 203.6,242.5 205.2,241.1 206.9,240.7 208.5,240.9 210.1,241.0 211.7,240.9 213.4,240.5 215.0,240.0 216.6,239.4 218.3,238.8 219.9,238.3 221.5,237.9 223.2,237.5 224.8,237.2 226.4,236.8 228.1,236.5 229.7,236.2 231.3,235.8 233.0,235.4 234.6,234.9 236.2,234.3 237.9,233.6 239.5,233.0 241.1,232.4 242.8,231.9 244.4,231.5 246.0,231.2 247.7,230.7 249.3,230.0 250.9,228.5 252.6,225.9 254.2,222.9 255.8,219.7 257.5,215.7 259.1,211.2 260.7,207.6 262.4,204.9 264.0,202.7 265.6,201.2 267.3,200.7 268.9,200.2 270.5,199.9 272.2,199.7 273.8,199.6 275.4,200.1 277.1,201.3 278.7,202.5 280.3,203.0 282.0,203.0 283.6,203.0 285.2,202.9 286.9,202.9 288.5,201.9 290.1,199.6 291.8,197.0 293.4,194.2 295.0,191.0 296.7,187.3 298.3,183.5 299.9,179.3 301.6,174.5 303.2,169.6 304.8,165.3 306.5,161.7 308.1,158.6 309.7,156.0 311.4,154.1 313.0,152.5 314.6,151.0 316.2,149.6 317.9,148.3 319.5,147.0 321.1,145.5 322.8,144.0 324.4,142.4 326.0,140.6 327.7,138.6 329.3,136.4 330.9,134.0 332.6,131.1 334.2,127.6 335.8,124.4 337.5,121.4 339.1,118.6 340.7,117.0 342.4,116.0 344.0,115.4 345.6,115.0 347.3,114.8 348.9,114.6 350.5,114.2 352.2,113.8 353.8,113.3 355.4,112.6 357.1,111.7 358.7,110.1 360.3,107.9 362.0,104.3 363.6,99.6 363.6,99.6 362.0,105.3 360.3,110.5 358.7,116.8 357.1,122.6 355.4,128.2 353.8,136.1 352.2,142.3 350.5,147.3 348.9,152.3 347.3,157.3 345.6,162.0 344.0,166.3 342.4,170.1 340.7,173.7 339.1,177.0 337.5,179.9 335.8,182.4 334.2,184.6 332.6,186.7 330.9,188.6 329.3,190.6 327.7,192.8 326.0,195.0 324.4,197.3 322.8,199.6 321.1,201.9 319.5,204.1 317.9,206.2 316.2,208.3 314.6,210.4 313.0,212.5 311.4,214.5 309.7,216.4 308.1,218.3 306.5,220.2 304.8,222.0 303.2,223.7 301.6,225.5 299.9,227.3 298.3,229.0 296.7,230.9 295.0,232.8 293.4,234.7 291.8,236.6 290.1,238.4 288.5,240.2 286.9,242.0 285.2,243.7 283.6,245.3 282.0,246.9 280.3,248.4 278.7,249.8 277.1,251.2 275.4,252.4 273.8,253.7 272.2,255.0 270.5,256.2 268.9,257.5 267.3,258.7 265.6,259.9 264.0,261.1 262.4,262.2 260.7,263.4 259.1,264.5 257.5,265.6 255.8,266.7 254.2,267.7 252.6,268.6 250.9,269.6 249.3,270.6 247.7,271.6 246.0,272.6 244.4,273.7 242.8,274.8 241.1,276.0 239.5,277.3 237.9,278.7 236.2,280.3 234.6,281.9 233.0,283.8 231.3,285.6 229.7,287.5 228.1,289.5 226.4,291.7 224.8,293.6 223.2,295.0 221.5,295.8 219.9,296.5 218.3,296.6 216.6,296.3 215.0,295.8 213.4,295.3 211.7,294.7 210.1,294.2 208.5,293.8 206.9,293.3 205.2,292.9 203.6,292.4 202.0,291.9 200.3,291.5 198.7,291.1 197.1,290.8 195.4,290.6 193.8,290.5 192.2,290.4 190.5,290.2 188.9,290.1 187.3,290.1 185.6,290.0 184.0,289.9 182.4,289.8 180.7,289.8 179.1,289.7 177.5,289.6 175.8,289.6 174.2,289.6 172.6,289.5 170.9,289.5 169.3,289.5 167.7,289.4 166.0,289.4 164.4,289.4 162.8,289.4 161.1,289.4 159.5,289.4 157.9,289.4 156.2,289.3 154.6,289.3 153.0,289.3 151.3,289.3 149.7,289.3 148.1,289.3 146.4,289.3 144.8,289.3 143.2,289.2 141.5,289.2 139.9,289.2 138.3,289.2 136.6,289.2 135.0,289.1 133.4,289.1 131.7,289.1 130.1,289.0 128.5,289.0 126.8,289.0 125.2,288.9 123.6,288.9 121.9,288.9 120.3,288.9 119.0,288.9 118.0,288.9 116.9,288.9 115.9,288.9 114.8,288.9 113.8,288.9 112.8,289.0 111.7,289.0 110.7,289.1 109.6,289.2 108.6,289.3 107.6,289.4 106.5,289.5 105.5,289.7 104.4,290.0 103.4,290.3"/>
<path d="M103.4,289.6 104.4,284.1 105.5,279.3 106.5,276.5 107.6,274.7 108.6,273.4 109.6,272.3 110.7,271.2 111.7,270.3 112.8,269.5 113.8,268.7 114.8,268.0 115.9,267.4 116.9,266.8 118.0,266.2 119.0,265.6 120.3,265.0 121.9,264.2 123.6,263.4 125.2,262.7 126.8,262.1 128.5,261.5 130.1,260.9 131.7,260.4 133.4,259.9 135.0,259.5 136.6,259.0 138.3,258.6 139.9,258.2 141.5,257.8 143.2,257.3 144.8,256.9 146.4,256.4 148.1,256.0 149.7,255.5 151.3,255.1 153.0,254.6 154.6,254.2 156.2,253.7 157.9,253.3 159.5,252.9 161.1,252.4 162.8,252.0 164.4,251.6 166.0,251.2 167.7,250.8 169.3,250.4 170.9,250.1 172.6,249.7 174.2,249.4 175.8,249.0 177.5,248.7 179.1,248.4 180.7,248.1 182.4,247.8 184.0,247.4 185.6,247.1 187.3,246.8 188.9,246.4 190.5,246.1 192.2,245.7 193.8,245.3 195.4,244.9 197.1,244.6 198.7,244.2 200.3,243.7 202.0,243.2 203.6,242.6 205.2,241.2 206.9,240.8 208.5,241.0 210.1,241.1 211.7,241.0 213.4,240.6 215.0,240.1 216.6,239.5 218.3,238.9 219.9,238.4 221.5,238.0 223.2,237.6 224.8,237.3 226.4,236.9 228.1,236.6 229.7,236.3 231.3,235.9 233.0,235.5 234.6,235.0 236.2,234.4 237.9,233.8 239.5,233.2 241.1,232.7 242.8,232.3 244.4,232.0 246.0,231.6 247.7,231.2 249.3,230.6 250.9,229.2 252.6,227.0 254.2,224.3 255.8,221.4 257.5,217.8 259.1,213.8 260.7,210.4 262.4,207.9 264.0,205.5 265.6,203.9 267.3,203.0 268.9,202.1 270.5,201.5 272.2,201.0 273.8,200.7 275.4,200.9 277.1,201.8 278.7,203.0 280.3,203.6 282.0,203.8 283.6,203.7 285.2,203.7 286.9,203.6 288.5,202.7 290.1,200.6 291.8,198.1 293.4,195.4 295.0,192.3 296.7,188.9 298.3,185.2 299.9,181.3 301.6,176.9 303.2,172.4 304.8,168.4 306.5,165.1 308.1,162.0 309.7,159.3 311.4,157.1 313.0,155.6 314.6,154.7 316.2,154.2 317.9,154.0 319.5,153.5 321.1,152.5 322.8,151.2 324.4,149.5 326.0,147.8 327.7,146.0 329.3,144.2 330.9,142.3 332.6,139.9 334.2,137.1 335.8,134.2 337.5,131.5 339.1,128.6 340.7,126.5 342.4,124.9 344.0,123.7 345.6,123.1 347.3,123.2 348.9,123.7 350.5,124.2 352.2,124.7 353.8,124.8 355.4,124.2 357.1,122.9 358.7,121.0 360.3,118.6 362.0,115.3 363.6,111.2 363.6,111.1 362.0,117.0 360.3,121.8 358.7,127.1 357.1,131.8 355.4,136.6 353.8,143.8 352.2,149.6 350.5,154.3 348.9,159.0 347.3,163.7 345.6,168.1 344.0,172.2 342.4,175.8 340.7,179.2 339.1,182.3 337.5,185.0 335.8,187.4 334.2,189.5 332.6,191.5 330.9,193.4 329.3,195.3 327.7,197.3 326.0,199.5 324.4,201.6 322.8,203.8 321.1,205.9 319.5,208.0 317.9,210.0 316.2,212.0 314.6,213.9 313.0,215.8 311.4,217.7 309.7,219.6 308.1,221.4 306.5,223.1 304.8,224.8 303.2,226.5 301.6,228.1 299.9,229.8 298.3,231.4 296.7,233.2 295.0,234.9 293.4,236.7 291.8,238.5 290.1,240.2 288.5,241.9 286.9,243.5 285.2,245.1 283.6,246.7 282.0,248.2 280.3,249.7 278.7,251.0 277.1,252.3 275.4,253.5 273.8,254.7 272.2,255.9 270.5,257.1 268.9,258.3 267.3,259.4 265.6,260.5 264.0,261.6 262.4,262.7 260.7,263.8 259.1,264.9 257.5,265.9 255.8,266.9 254.2,267.9 252.6,268.8 250.9,269.7 249.3,270.6 247.7,271.6 246.0,272.5 244.4,273.5 242.8,274.5 241.1,275.6 239.5,276.9 237.9,278.2 236.2,279.6 234.6,281.2 233.0,282.9 231.3,284.7 229.7,286.5 228.1,288.4 226.4,290.5 224.8,292.4 223.2,293.8 221.5,294.7 219.9,295.4 218.3,295.6 216.6,295.5 215.0,295.1 213.4,294.6 211.7,294.2 210.1,293.7 208.5,293.4 206.9,293.0 205.2,292.6 203.6,292.2 202.0,291.8 200.3,291.4 198.7,291.0 197.1,290.7 195.4,290.5 193.8,290.3 192.2,290.2 190.5,290.1 188.9,290.0 187.3,289.9 185.6,289.9 184.0,289.8 182.4,289.7 180.7,289.6 179.1,289.6 177.5,289.5 175.8,289.5 174.2,289.4 172.6,289.4 170.9,289.4 169.3,289.3 167.7,289.3 166.0,289.3 164.4,289.3 162.8,289.3 161.1,289.3 159.5,289.2 157.9,289.2 156.2,289.2 154.6,289.2 153.0,289.2 151.3,289.2 149.7,289.2 148.1,289.2 146.4,289.1 144.8,289.1 143.2,289.1 141.5,289.1 139.9,289.1 138.3,289.0 136.6,289.0 135.0,289.0 133.4,288.9 131.7,288.9 130.1,288.9 128.5,288.8 126.8,288.8 125.2,288.8 123.6,288.8 121.9,288.7 120.3,288.7 119.0,288.7 118.0,288.7 116.9,288.7 115.9,288.7 114.8,288.7 113.8,288.8 112.8,288.8 111.7,288.9 110.7,289.0 109.6,289.0 108.6,289.1 107.6,289.3 106.5,289.4 105.5,289.6 104.4,289.9 103.4,290.2"/>
<path d="M103.4,289.6 104.4,284.1 105.5,279.4 106.5,276.6 107.6,274.8 108.6,273.4 109.6,272.3 110.7,271.3 111.7,270.4 112.8,269.5 113.8,268.8 114.8,268.1 115.9,267.5 116.9,266.9 118.0,266.3 119.0,265.7 120.3,265.1 121.9,264.3 123.6,263.5 125.2,262.8 126.8,262.2 128.5,261.6 130.1,261.0 131.7,260.5 133.4,260.0 135.0,259.6 136.6,259.2 138.3,258.7 139.9,258.3 141.5,257.9 143.2,257.5 144.8,257.0 146.4,256.6 148.1,256.1 149.7,255.7 151.3,255.2 153.0,254.8 154.6,254.3 156.2,253.9 157.9,253.5 159.5,253.0 161.1,252.6 162.8,252.2 164.4,251.8 166.0,251.4 167.7,251.0 169.3,250.6 170.9,250.2 172.6,249.9 174.2,249.5 175.8,249.2 177.5,248.9 179.1,248.5 180.7,248.2 182.4,247.9 184.0,247.6 185.6,247.2 187.3,246.9 188.9,246.6 190.5,246.2 192.2,245.8 193.8,245.4 195.4,245.0 197.1,244.7 198.7,244.3 200.3,243.9 202.0,243.3 203.6,242.7 205.2,241.4 206.9,240.9 208.5,241.1 210.1,241.3 211.7,241.1 213.4,240.7 215.0,240.2 216.6,239.6 218.3,239.0 219.9,238.5 221.5,238.1 223.2,237.7 224.8,237.4 226.4,237.1 228.1,236.7 229.7,236.4 231.3,236.0 233.0,235.6 234.6,235.1 236.2,234.6 237.9,234.0 239.5,233.5 241.1,233.0 242.8,232.6 244.4,232.3 246.0,232.0 247.7,231.6 249.3,231.1 250.9,229.8 252.6,227.9 254.2,225.5 255.8,222.9 257.5,219.7 259.1,216.1 260.7,212.9 262.4,210.4 264.0,208.0 265.6,206.2 267.3,204.9 268.9,203.8 270.5,202.9 272.2,202.2 273.8,201.6 275.4,201.5 277.1,202.2 278.7,203.3 280.3,204.2 282.0,204.4 283.6,204.4 285.2,204.3 286.9,204.2 288.5,203.4 290.1,201.4 291.8,199.0 293.4,196.5 295.0,193.4 296.7,190.2 298.3,186.7 299.9,183.1 301.6,178.9 303.2,174.8 304.8,171.0 306.5,167.9 308.1,165.0 309.7,162.3 311.4,160.0 313.0,158.5 314.6,158.0 316.2,158.1 317.9,158.5 319.5,158.6 321.1,158.0 322.8,156.8 324.4,155.2 326.0,153.6 327.7,152.1 329.3,150.6 330.9,149.0 332.6,147.0 334.2,144.6 335.8,142.0 337.5,139.4 339.1,136.5 340.7,134.0 342.4,132.1 344.0,130.5 345.6,129.8 347.3,130.0 348.9,130.7 350.5,131.7 352.2,132.5 353.8,132.9 355.4,132.4 357.1,131.1 358.7,129.1 360.3,126.9 362.0,123.8 363.6,120.1 363.6,120.1 362.0,126.4 360.3,131.0 358.7,135.6 357.1,139.7 355.4,143.8 353.8,150.5 352.2,155.9 350.5,160.4 348.9,164.8 347.3,169.3 345.6,173.5 344.0,177.3 342.4,180.7 340.7,183.9 339.1,186.8 337.5,189.4 335.8,191.7 334.2,193.8 332.6,195.7 330.9,197.6 329.3,199.4 327.7,201.3 326.0,203.3 324.4,205.3 322.8,207.4 321.1,209.4 319.5,211.3 317.9,213.2 316.2,215.1 314.6,216.9 313.0,218.8 311.4,220.5 309.7,222.3 308.1,224.0 306.5,225.6 304.8,227.2 303.2,228.8 301.6,230.4 299.9,231.9 298.3,233.5 296.7,235.1 295.0,236.8 293.4,238.5 291.8,240.1 290.1,241.8 288.5,243.4 286.9,244.9 285.2,246.4 283.6,247.9 282.0,249.4 280.3,250.8 278.7,252.0 277.1,253.3 275.4,254.5 273.8,255.6 272.2,256.8 270.5,257.9 268.9,259.0 267.3,260.0 265.6,261.1 264.0,262.1 262.4,263.1 260.7,264.2 259.1,265.2 257.5,266.1 255.8,267.1 254.2,268.0 252.6,268.9 250.9,269.8 249.3,270.7 247.7,271.6 246.0,272.5 244.4,273.4 242.8,274.3 241.1,275.3 239.5,276.5 237.9,277.7 236.2,279.0 234.6,280.5 233.0,282.1 231.3,283.8 229.7,285.6 228.1,287.5 226.4,289.5 224.8,291.3 223.2,292.8 221.5,293.8 219.9,294.5 218.3,294.8 216.6,294.7 215.0,294.5 213.4,294.1 211.7,293.7 210.1,293.3 208.5,293.0 206.9,292.7 205.2,292.3 203.6,291.9 202.0,291.6 200.3,291.2 198.7,290.8 197.1,290.5 195.4,290.3 193.8,290.2 192.2,290.1 190.5,290.0 188.9,289.9 187.3,289.8 185.6,289.7 184.0,289.7 182.4,289.6 180.7,289.5 179.1,289.5 177.5,289.4 175.8,289.4 174.2,289.3 172.6,289.3 170.9,289.3 169.3,289.2 167.7,289.2 166.0,289.2 164.4,289.2 162.8,289.2 161.1,289.1 159.5,289.1 157.9,289.1 156.2,289.1 154.6,289.1 153.0,289.1 151.3,289.1 149.7,289.0 148.1,289.0 146.4,289.0 144.8,289.0 143.2,289.0 141.5,288.9 139.9,288.9 138.3,288.9 136.6,288.9 135.0,288.8 133.4,288.8 131.7,288.8 130.1,288.7 128.5,288.7 126.8,288.7 125.2,288.6 123.6,288.6 121.9,288.6 120.3,288.6 119.0,288.5 118.0,288.5 116.9,288.5 115.9,288.5 114.8,288.6 113.8,288.6 112.8,288.7 111.7,288.7 110.7,288.8 109.6,288.9 108.6,289.0 107.6,289.1 106.5,289.3 105.5,289.5 104.4,289.9 103.4,290.2"/>
<path d="M103.4,289.6 104.4,284.1 105.5,279.4 106.5,276.6 107.6,274.8 108.6,273.5 109.6,272.4 110.7,271.4 111.7,270.4 112.8,269.6 113.8,268.9 114.8,268.2 115.9,267.5 116.9,266.9 118.0,266.4 119.0,265.8 120.3,265.1 121.9,264.4 123.6,263.6 125.2,263.0 126.8,262.3 128.5,261.7 130.1,261.2 131.7,260.6 133.4,260.2 135.0,259.7 136.6,259.3 138.3,258.9 139.9,258.5 141.5,258.0 143.2,257.6 144.8,257.2 146.4,256.7 148.1,256.3 149.7,255.8 151.3,255.4 153.0,254.9 154.6,254.5 156.2,254.0 157.9,253.6 159.5,253.2 161.1,252.8 162.8,252.3 164.4,251.9 166.0,251.5 167.7,251.1 169.3,250.7 170.9,250.4 172.6,250.0 174.2,249.7 175.8,249.3 177.5,249.0 179.1,248.7 180.7,248.4 182.4,248.0 184.0,247.7 185.6,247.4 187.3,247.0 188.9,246.7 190.5,246.3 192.2,246.0 193.8,245.6 195.4,245.2 197.1,244.8 198.7,244.4 200.3,244.0 202.0,243.5 203.6,242.8 205.2,241.5 206.9,241.0 208.5,241.2 210.1,241.4 211.7,241.2 213.4,240.8 215.0,240.3 216.6,239.7 218.3,239.1 219.9,238.6 221.5,238.2 223.2,237.8 224.8,237.5 226.4,237.2 228.1,236.8 229.7,236.5 231.3,236.1 233.0,235.7 234.6,235.3 236.2,234.8 237.9,234.2 239.5,233.7 241.1,233.3 242.8,232.9 244.4,232.7 246.0,232.4 247.7,232.0 249.3,231.5 250.9,230.4 252.6,228.7 254.2,226.5 255.8,224.2 257.5,221.3 259.1,218.0 260.7,215.1 262.4,212.5 264.0,210.1 265.6,208.2 267.3,206.7 268.9,205.2 270.5,204.1 272.2,203.2 273.8,202.4 275.4,202.0 277.1,202.5 278.7,203.7 280.3,204.6 282.0,204.9 283.6,204.9 285.2,204.8 286.9,204.7 288.5,204.0 290.1,202.1 291.8,199.8 293.4,197.3 295.0,194.4 296.7,191.3 298.3,188.0 299.9,184.6 301.6,180.7 303.2,176.8 304.8,173.3 306.5,170.4 308.1,167.6 309.7,164.9 311.4,162.7 313.0,161.3 314.6,160.9 316.2,161.4 317.9,162.3 319.5,162.7 321.1,162.3 322.8,161.2 324.4,159.8 326.0,158.3 327.7,157.0 329.3,155.7 330.9,154.3 332.6,152.6 334.2,150.5 335.8,148.1 337.5,145.6 339.1,142.6 340.7,139.9 342.4,137.8 344.0,136.1 345.6,135.3 347.3,135.4 348.9,136.2 350.5,137.2 352.2,138.2 353.8,138.6 355.4,138.3 357.1,137.0 358.7,135.2 360.3,133.2 362.0,130.5 363.6,127.1 363.6,127.1 362.0,133.8 360.3,138.4 358.7,142.7 357.1,146.4 355.4,150.0 353.8,156.3 352.2,161.3 350.5,165.6 348.9,169.9 347.3,174.1 345.6,178.1 344.0,181.7 342.4,184.9 340.7,188.0 339.1,190.8 337.5,193.3 335.8,195.5 334.2,197.5 332.6,199.4 330.9,201.2 329.3,202.9 327.7,204.8 326.0,206.7 324.4,208.6 322.8,210.5 321.1,212.4 319.5,214.2 317.9,216.0 316.2,217.8 314.6,219.6 313.0,221.3 311.4,223.0 309.7,224.6 308.1,226.2 306.5,227.8 304.8,229.3 303.2,230.8 301.6,232.3 299.9,233.8 298.3,235.3 296.7,236.8 295.0,238.4 293.4,240.0 291.8,241.6 290.1,243.1 288.5,244.6 286.9,246.1 285.2,247.6 283.6,249.0 282.0,250.4 280.3,251.7 278.7,252.9 277.1,254.1 275.4,255.3 273.8,256.4 272.2,257.5 270.5,258.5 268.9,259.6 267.3,260.6 265.6,261.6 264.0,262.5 262.4,263.5 260.7,264.4 259.1,265.4 257.5,266.3 255.8,267.2 254.2,268.1 252.6,269.0 250.9,269.8 249.3,270.7 247.7,271.5 246.0,272.4 244.4,273.2 242.8,274.1 241.1,275.1 239.5,276.1 237.9,277.3 236.2,278.5 234.6,279.9 233.0,281.4 231.3,283.1 229.7,284.8 228.1,286.6 226.4,288.6 224.8,290.4 223.2,291.8 221.5,292.9 219.9,293.7 218.3,294.0 216.6,294.1 215.0,293.9 213.4,293.6 211.7,293.2 210.1,292.9 208.5,292.7 206.9,292.4 205.2,292.0 203.6,291.7 202.0,291.4 200.3,291.0 198.7,290.7 197.1,290.4 195.4,290.2 193.8,290.1 192.2,290.0 190.5,289.9 188.9,289.8 187.3,289.7 185.6,289.6 184.0,289.5 182.4,289.5 180.7,289.4 179.1,289.4 177.5,289.3 175.8,289.3 174.2,289.2 172.6,289.2 170.9,289.2 169.3,289.1 167.7,289.1 166.0,289.1 164.4,289.1 162.8,289.0 161.1,289.0 159.5,289.0 157.9,289.0 156.2,289.0 154.6,289.0 153.0,288.9 151.3,288.9 149.7,288.9 148.1,288.9 146.4,288.9 144.8,288.8 143.2,288.8 141.5,288.8 139.9,288.8 138.3,288.7 136.6,288.7 135.0,288.7 133.4,288.6 131.7,288.6 130.1,288.6 128.5,288.5 126.8,288.5 125.2,288.5 123.6,288.4 121.9,288.4 120.3,288.4 119.0,288.4 118.0,288.4 116.9,288.4 115.9,288.4 114.8,288.4 113.8,288.4 112.8,288.5 111.7,288.6 110.7,288.7 109.6,288.7 108.6,288.9 107.6,289.0 106.5,289.1 105.5,289.4 104.4,289.8 103.4,290.2"/>
<path d="M103.4,289.6 104.4,284.2 105.5,279.5 106.5,276.7 107.6,274.9 108.6,273.5 109.6,272.4 110.7,271.4 111.7,270.5 112.8,269.7 113.8,268.9 114.8,268.2 115.9,267.6 116.9,267.0 118.0,266.4 119.0,265.9 120.3,265.2 121.9,264.5 123.6,263.7 125.2,263.1 126.8,262.4 128.5,261.8 130.1,261.3 131.7,260.8 133.4,260.3 135.0,259.9 136.6,259.4 138.3,259.0 139.9,258.6 141.5,258.2 143.2,257.7 144.8,257.3 146.4,256.9 148.1,256.4 149.7,256.0 151.3,255.5 153.0,255.1 154.6,254.6 156.2,254.2 157.9,253.8 159.5,253.3 161.1,252.9 162.8,252.5 164.4,252.1 166.0,251.7 167.7,251.3 169.3,250.9 170.9,250.5 172.6,250.2 174.2,249.8 175.8,249.5 177.5,249.1 179.1,248.8 180.7,248.5 182.4,248.2 184.0,247.8 185.6,247.5 187.3,247.2 188.9,246.8 190.5,246.5 192.2,246.1 193.8,245.7 195.4,245.3 197.1,244.9 198.7,244.5 200.3,244.1 202.0,243.6 203.6,242.9 205.2,241.6 206.9,241.1 208.5,241.3 210.1,241.5 211.7,241.3 213.4,241.0 215.0,240.4 216.6,239.8 218.3,239.2 219.9,238.7 221.5,238.3 223.2,237.9 224.8,237.6 226.4,237.3 228.1,236.9 229.7,236.6 231.3,236.2 233.0,235.8 234.6,235.4 236.2,234.9 237.9,234.4 239.5,233.9 241.1,233.5 242.8,233.2 244.4,233.0 246.0,232.7 247.7,232.4 249.3,231.9 250.9,230.9 252.6,229.3 254.2,227.4 255.8,225.3 257.5,222.7 259.1,219.7 260.7,216.9 262.4,214.4 264.0,212.0 265.6,209.9 267.3,208.1 268.9,206.5 270.5,205.1 272.2,204.0 273.8,203.1 275.4,202.5 277.1,202.8 278.7,204.0 280.3,205.0 282.0,205.4 283.6,205.4 285.2,205.3 286.9,205.2 288.5,204.5 290.1,202.8 291.8,200.5 293.4,198.1 295.0,195.3 296.7,192.2 298.3,189.2 299.9,185.9 301.6,182.3 303.2,178.6 304.8,175.3 306.5,172.6 308.1,169.9 309.7,167.3 311.4,165.0 313.0,163.7 314.6,163.5 316.2,164.2 317.9,165.3 319.5,165.9 321.1,165.7 322.8,164.8 324.4,163.5 326.0,162.1 327.7,160.9 329.3,159.8 330.9,158.6 332.6,157.1 334.2,155.2 335.8,152.9 337.5,150.5 339.1,147.4 340.7,144.6 342.4,142.4 344.0,140.6 345.6,139.7 347.3,139.8 348.9,140.5 350.5,141.4 352.2,142.4 353.8,142.8 355.4,142.5 357.1,141.4 358.7,139.8 360.3,138.0 362.0,135.6 363.6,132.6 363.6,132.5 362.0,139.7 360.3,144.5 358.7,148.6 357.1,152.1 355.4,155.5 353.8,161.3 352.2,166.0 350.5,170.2 348.9,174.2 347.3,178.2 345.6,182.0 344.0,185.5 342.4,188.6 340.7,191.5 339.1,194.2 337.5,196.6 335.8,198.7 334.2,200.7 332.6,202.5 330.9,204.3 329.3,206.0 327.7,207.7 326.0,209.5 324.4,211.4 322.8,213.2 321.1,215.0 319.5,216.7 317.9,218.5 316.2,220.2 314.6,221.8 313.0,223.5 311.4,225.1 309.7,226.7 308.1,228.2 306.5,229.7 304.8,231.2 303.2,232.6 301.6,234.0 299.9,235.4 298.3,236.9 296.7,238.3 295.0,239.8 293.4,241.3 291.8,242.8 290.1,244.3 288.5,245.7 286.9,247.1 285.2,248.5 283.6,249.9 282.0,251.2 280.3,252.5 278.7,253.7 277.1,254.8 275.4,256.0 273.8,257.0 272.2,258.1 270.5,259.1 268.9,260.1 267.3,261.0 265.6,261.9 264.0,262.9 262.4,263.8 260.7,264.7 259.1,265.6 257.5,266.5 255.8,267.3 254.2,268.2 252.6,269.0 250.9,269.9 249.3,270.7 247.7,271.5 246.0,272.3 244.4,273.1 242.8,273.9 241.1,274.8 239.5,275.8 237.9,276.9 236.2,278.1 234.6,279.4 233.0,280.9 231.3,282.4 229.7,284.1 228.1,285.9 226.4,287.7 224.8,289.6 223.2,291.0 221.5,292.1 219.9,292.9 218.3,293.3 216.6,293.4 215.0,293.3 213.4,293.1 211.7,292.8 210.1,292.6 208.5,292.4 206.9,292.1 205.2,291.8 203.6,291.5 202.0,291.2 200.3,290.8 198.7,290.5 197.1,290.3 195.4,290.1 193.8,289.9 192.2,289.8 190.5,289.7 188.9,289.7 187.3,289.6 185.6,289.5 184.0,289.4 182.4,289.4 180.7,289.3 179.1,289.2 177.5,289.2 175.8,289.1 174.2,289.1 172.6,289.1 170.9,289.0 169.3,289.0 167.7,289.0 166.0,289.0 164.4,289.0 162.8,288.9 161.1,288.9 159.5,288.9 157.9,288.9 156.2,288.9 154.6,288.8 153.0,288.8 151.3,288.8 149.7,288.8 148.1,288.8 146.4,288.7 144.8,288.7 143.2,288.7 141.5,288.7 139.9,288.6 138.3,288.6 136.6,288.6 135.0,288.5 133.4,288.5 131.7,288.5 130.1,288.4 128.5,288.4 126.8,288.3 125.2,288.3 123.6,288.3 121.9,288.3 120.3,288.2 119.0,288.2 118.0,288.2 116.9,288.2 115.9,288.2 114.8,288.2 113.8,288.3 112.8,288.3 111.7,288.4 110.7,288.5 109.6,288.6 108.6,288.7 107.6,288.8 106.5,289.0 105.5,289.3 104.4,289.7 103.4,290.2"/>
<path d="M103.4,289.6 104.4,284.2 105.5,279.5 106.5,276.7 107.6,274.9 108.6,273.6 109.6,272.5 110.7,271.5 111.7,270.6 112.8,269.7 113.8,269.0 114.8,268.3 115.9,267.7 116.9,267.1 118.0,266.5 119.0,266.0 120.3,265.3 121.9,264.5 123.6,263.8 125.2,263.2 126.8,262.5 128.5,262.0 130.1,261.4 131.7,260.9 133.4,260.4 135.0,260.0 136.6,259.6 138.3,259.2 139.9,258.7 141.5,258.3 143.2,257.9 144.8,257.4 146.4,257.0 148.1,256.6 149.7,256.1 151.3,255.7 153.0,255.2 154.6,254.8 156.2,254.3 157.9,253.9 159.5,253.5 161.1,253.1 162.8,252.6 164.4,252.2 166.0,251.8 167.7,251.4 169.3,251.0 170.9,250.7 172.6,250.3 174.2,250.0 175.8,249.6 177.5,249.3 179.1,249.0 180.7,248.6 182.4,248.3 184.0,248.0 185.6,247.6 187.3,247.3 188.9,246.9 190.5,246.6 192.2,246.2 193.8,245.8 195.4,245.4 197.1,245.0 198.7,244.6 200.3,244.2 202.0,243.7 203.6,243.0 205.2,241.7 206.9,241.2 208.5,241.4 210.1,241.6 211.7,241.4 213.4,241.1 215.0,240.5 216.6,239.9 218.3,239.4 219.9,238.8 221.5,238.4 223.2,238.0 224.8,237.7 226.4,237.4 228.1,237.0 229.7,236.7 231.3,236.3 233.0,235.9 234.6,235.5 236.2,235.0 237.9,234.6 239.5,234.1 241.1,233.7 242.8,233.4 244.4,233.2 246.0,233.0 247.7,232.6 249.3,232.2 250.9,231.3 252.6,229.9 254.2,228.2 255.8,226.3 257.5,223.9 259.1,221.2 260.7,218.5 262.4,216.0 264.0,213.6 265.6,211.4 267.3,209.4 268.9,207.5 270.5,206.0 272.2,204.8 273.8,203.7 275.4,202.9 277.1,203.1 278.7,204.2 280.3,205.3 282.0,205.8 283.6,205.8 285.2,205.7 286.9,205.6 288.5,204.9 290.1,203.3 291.8,201.1 293.4,198.8 295.0,196.0 296.7,193.1 298.3,190.1 299.9,187.0 301.6,183.6 303.2,180.1 304.8,177.0 306.5,174.4 308.1,171.9 309.7,169.3 311.4,167.2 313.0,165.9 314.6,165.8 316.2,166.6 317.9,167.8 319.5,168.5 321.1,168.4 322.8,167.6 324.4,166.4 326.0,165.2 327.7,164.1 329.3,163.1 330.9,162.1 332.6,160.7 334.2,159.0 335.8,156.7 337.5,154.2 339.1,151.1 340.7,148.2 342.4,146.0 344.0,144.1 345.6,143.2 347.3,143.3 348.9,143.8 350.5,144.6 352.2,145.5 353.8,145.9 355.4,145.7 357.1,144.7 358.7,143.3 360.3,141.7 362.0,139.6 363.6,136.8 363.6,136.8 362.0,144.5 360.3,149.4 358.7,153.6 357.1,156.9 355.4,160.1 353.8,165.6 352.2,170.1 350.5,174.1 348.9,178.0 347.3,181.8 345.6,185.5 344.0,188.8 342.4,191.8 340.7,194.5 339.1,197.1 337.5,199.4 335.8,201.5 334.2,203.4 332.6,205.2 330.9,206.9 329.3,208.6 327.7,210.3 326.0,212.0 324.4,213.8 322.8,215.5 321.1,217.2 319.5,218.9 317.9,220.6 316.2,222.2 314.6,223.8 313.0,225.4 311.4,226.9 309.7,228.4 308.1,229.9 306.5,231.3 304.8,232.7 303.2,234.1 301.6,235.5 299.9,236.8 298.3,238.2 296.7,239.6 295.0,241.0 293.4,242.4 291.8,243.8 290.1,245.3 288.5,246.7 286.9,248.0 285.2,249.4 283.6,250.7 282.0,251.9 280.3,253.2 278.7,254.3 277.1,255.5 275.4,256.5 273.8,257.6 272.2,258.6 270.5,259.5 268.9,260.5 267.3,261.4 265.6,262.3 264.0,263.1 262.4,264.0 260.7,264.8 259.1,265.7 257.5,266.6 255.8,267.4 254.2,268.2 252.6,269.1 250.9,269.9 249.3,270.6 247.7,271.4 246.0,272.2 244.4,273.0 242.8,273.8 241.1,274.6 239.5,275.5 237.9,276.5 236.2,277.7 234.6,278.9 233.0,280.3 231.3,281.9 229.7,283.5 228.1,285.2 226.4,287.0 224.8,288.8 223.2,290.3 221.5,291.4 219.9,292.2 218.3,292.7 216.6,292.9 215.0,292.8 213.4,292.6 211.7,292.4 210.1,292.2 208.5,292.0 206.9,291.8 205.2,291.5 203.6,291.3 202.0,291.0 200.3,290.7 198.7,290.4 197.1,290.1 195.4,289.9 193.8,289.8 192.2,289.7 190.5,289.6 188.9,289.5 187.3,289.5 185.6,289.4 184.0,289.3 182.4,289.2 180.7,289.2 179.1,289.1 177.5,289.1 175.8,289.0 174.2,289.0 172.6,289.0 170.9,288.9 169.3,288.9 167.7,288.9 166.0,288.9 164.4,288.8 162.8,288.8 161.1,288.8 159.5,288.8 157.9,288.8 156.2,288.7 154.6,288.7 153.0,288.7 151.3,288.7 149.7,288.6 148.1,288.6 146.4,288.6 144.8,288.6 143.2,288.5 141.5,288.5 139.9,288.5 138.3,288.5 136.6,288.4 135.0,288.4 133.4,288.3 131.7,288.3 130.1,288.3 128.5,288.2 126.8,288.2 125.2,288.2 123.6,288.1 121.9,288.1 120.3,288.1 119.0,288.1 118.0,288.1 116.9,288.1 115.9,288.1 114.8,288.1 113.8,288.1 112.8,288.2 111.7,288.3 110.7,288.3 109.6,288.4 108.6,288.6 107.6,288.7 106.5,288.9 105.5,289.2 104.4,289.7 103.4,290.1"/>
<path d="M103.4,289.6 104.4,284.2 105.5,279.5 106.5,276.8 107.6,275.0 108.6,273.7 109.6,272.6 110.7,271.5 111.7,270.6 112.8,269.8 113.8,269.0 114.8,268.4 115.9,267.7 116.9,267.1 118.0,266.6 119.0,266.0 120.3,265.4 121.9,264.6 123.6,263.9 125.2,263.3 126.8,262.7 128.5,262.1 130.1,261.5 131.7,261.0 133.4,260.6 135.0,260.1 136.6,259.7 138.3,259.3 139.9,258.9 141.5,258.5 143.2,258.0 144.8,257.6 146.4,257.1 148.1,256.7 149.7,256.3 151.3,255.8 153.0,255.4 154.6,254.9 156.2,254.5 157.9,254.1 159.5,253.6 161.1,253.2 162.8,252.8 164.4,252.4 166.0,252.0 167.7,251.6 169.3,251.2 170.9,250.8 172.6,250.5 174.2,250.1 175.8,249.8 177.5,249.4 179.1,249.1 180.7,248.8 182.4,248.4 184.0,248.1 185.6,247.8 187.3,247.4 188.9,247.1 190.5,246.7 192.2,246.3 193.8,245.9 195.4,245.5 197.1,245.1 198.7,244.8 200.3,244.3 202.0,243.8 203.6,243.1 205.2,241.8 206.9,241.4 208.5,241.6 210.1,241.7 211.7,241.5 213.4,241.2 215.0,240.7 216.6,240.1 218.3,239.5 219.9,238.9 221.5,238.5 223.2,238.2 224.8,237.8 226.4,237.5 228.1,237.1 229.7,236.8 231.3,236.4 233.0,236.0 234.6,235.6 236.2,235.2 237.9,234.7 239.5,234.3 241.1,233.9 242.8,233.7 244.4,233.4 246.0,233.2 247.7,232.9 249.3,232.5 250.9,231.6 252.6,230.4 254.2,228.9 255.8,227.1 257.5,224.9 259.1,222.4 260.7,219.9 262.4,217.4 264.0,214.9 265.6,212.7 267.3,210.5 268.9,208.5 270.5,206.8 272.2,205.4 273.8,204.2 275.4,203.2 277.1,203.3 278.7,204.4 280.3,205.6 282.0,206.1 283.6,206.1 285.2,206.0 286.9,205.9 288.5,205.3 290.1,203.7 291.8,201.7 293.4,199.3 295.0,196.6 296.7,193.8 298.3,191.0 299.9,188.0 301.6,184.7 303.2,181.4 304.8,178.5 306.5,176.0 308.1,173.6 309.7,171.2 311.4,169.1 313.0,167.9 314.6,167.9 316.2,168.6 317.9,169.9 319.5,170.6 321.1,170.6 322.8,169.8 324.4,168.8 326.0,167.8 327.7,166.8 329.3,165.8 330.9,164.8 332.6,163.6 334.2,161.9 335.8,159.7 337.5,157.2 339.1,154.1 340.7,151.1 342.4,148.8 344.0,147.0 345.6,146.1 347.3,146.0 348.9,146.4 350.5,147.1 352.2,147.8 353.8,148.2 355.4,148.0 357.1,147.2 358.7,146.0 360.3,144.6 362.0,142.7 363.6,140.1 363.6,140.1 362.0,148.3 360.3,153.5 358.7,157.7 357.1,161.0 355.4,164.2 353.8,169.3 352.2,173.6 350.5,177.5 348.9,181.2 347.3,184.9 345.6,188.5 344.0,191.6 342.4,194.5 340.7,197.2 339.1,199.7 337.5,201.9 335.8,203.9 334.2,205.8 332.6,207.6 330.9,209.3 329.3,210.9 327.7,212.5 326.0,214.2 324.4,215.9 322.8,217.5 321.1,219.2 319.5,220.8 317.9,222.4 316.2,223.9 314.6,225.5 313.0,227.0 311.4,228.5 309.7,229.9 308.1,231.4 306.5,232.7 304.8,234.1 303.2,235.4 301.6,236.7 299.9,238.0 298.3,239.4 296.7,240.7 295.0,242.0 293.4,243.4 291.8,244.8 290.1,246.1 288.5,247.5 286.9,248.8 285.2,250.1 283.6,251.3 282.0,252.6 280.3,253.8 278.7,254.9 277.1,256.0 275.4,257.0 273.8,258.0 272.2,259.0 270.5,259.9 268.9,260.8 267.3,261.7 265.6,262.5 264.0,263.3 262.4,264.2 260.7,265.0 259.1,265.8 257.5,266.6 255.8,267.5 254.2,268.3 252.6,269.0 250.9,269.8 249.3,270.6 247.7,271.3 246.0,272.1 244.4,272.8 242.8,273.6 241.1,274.4 239.5,275.2 237.9,276.2 236.2,277.3 234.6,278.5 233.0,279.9 231.3,281.3 229.7,282.9 228.1,284.6 226.4,286.4 224.8,288.1 223.2,289.6 221.5,290.7 219.9,291.6 218.3,292.1 216.6,292.3 215.0,292.3 213.4,292.2 211.7,292.0 210.1,291.9 208.5,291.8 206.9,291.5 205.2,291.3 203.6,291.0 202.0,290.8 200.3,290.5 198.7,290.2 197.1,290.0 195.4,289.8 193.8,289.7 192.2,289.6 190.5,289.5 188.9,289.4 187.3,289.3 185.6,289.3 184.0,289.2 182.4,289.1 180.7,289.1 179.1,289.0 177.5,289.0 175.8,288.9 174.2,288.9 172.6,288.9 170.9,288.8 169.3,288.8 167.7,288.8 166.0,288.7 164.4,288.7 162.8,288.7 161.1,288.7 159.5,288.7 157.9,288.6 156.2,288.6 154.6,288.6 153.0,288.6 151.3,288.5 149.7,288.5 148.1,288.5 146.4,288.5 144.8,288.4 143.2,288.4 141.5,288.4 139.9,288.3 138.3,288.3 136.6,288.3 135.0,288.2 133.4,288.2 131.7,288.2 130.1,288.1 128.5,288.1 126.8,288.0 125.2,288.0 123.6,288.0 121.9,287.9 120.3,287.9 119.0,287.9 118.0,287.9 116.9,287.9 115.9,287.9 114.8,287.9 113.8,288.0 112.8,288.0 111.7,288.1 110.7,288.2 109.6,288.3 108.6,288.4 107.6,288.5 106.5,288.7 105.5,289.1 104.4,289.6 103.4,290.1"/>
<path d="M103.4,289.6 104.4,284.2 105.5,279.6 106.5,276.8 107.6,275.1 108.6,273.7 109.6,272.6 110.7,271.6 111.7,270.7 112.8,269.9 113.8,269.1 114.8,268.4 115.9,267.8 116.9,267.2 118.0,266.6 119.0,266.1 120.3,265.5 121.9,264.7 123.6,264.0 125.2,263.4 126.8,262.8 128.5,262.2 130.1,261.6 131.7,261.1 133.4,260.7 135.0,260.3 136.6,259.8 138.3,259.4 139.9,259.0 141.5,258.6 143.2,258.2 144.8,257.7 146.4,257.3 148.1,256.9 149.7,256.4 151.3,256.0 153.0,255.5 154.6,255.1 156.2,254.7 157.9,254.2 159.5,253.8 161.1,253.4 162.8,252.9 164.4,252.5 166.0,252.1 167.7,251.7 169.3,251.3 170.9,251.0 172.6,250.6 174.2,250.3 175.8,249.9 177.5,249.6 179.1,249.2 180.7,248.9 182.4,248.6 184.0,248.2 185.6,247.9 187.3,247.6 188.9,247.2 190.5,246.8 192.2,246.5 193.8,246.1 195.4,245.6 197.1,245.3 198.7,244.9 200.3,244.4 202.0,243.9 203.6,243.2 205.2,241.9 206.9,241.5 208.5,241.7 210.1,241.8 211.7,241.7 213.4,241.3 215.0,240.8 216.6,240.2 218.3,239.6 219.9,239.0 221.5,238.6 223.2,238.3 224.8,237.9 226.4,237.6 228.1,237.3 229.7,236.9 231.3,236.5 233.0,236.1 234.6,235.7 236.2,235.3 237.9,234.9 239.5,234.5 241.1,234.1 242.8,233.9 244.4,233.7 246.0,233.4 247.7,233.1 249.3,232.7 250.9,231.9 252.6,230.9 254.2,229.4 255.8,227.8 257.5,225.8 259.1,223.5 260.7,221.1 262.4,218.6 264.0,216.1 265.6,213.8 267.3,211.4 268.9,209.2 270.5,207.5 272.2,205.9 273.8,204.6 275.4,203.5 277.1,203.5 278.7,204.6 280.3,205.8 282.0,206.4 283.6,206.4 285.2,206.3 286.9,206.2 288.5,205.6 290.1,204.1 291.8,202.1 293.4,199.8 295.0,197.2 296.7,194.4 298.3,191.7 299.9,188.8 301.6,185.7 303.2,182.5 304.8,179.8 306.5,177.4 308.1,175.1 309.7,172.8 311.4,170.8 313.0,169.7 314.6,169.6 316.2,170.4 317.9,171.6 319.5,172.3 321.1,172.3 322.8,171.7 324.4,170.7 326.0,169.8 327.7,168.9 329.3,168.0 330.9,167.1 332.6,165.9 334.2,164.3 335.8,162.0 337.5,159.5 339.1,156.3 340.7,153.3 342.4,151.1 344.0,149.2 345.6,148.3 347.3,148.2 348.9,148.4 350.5,149.0 352.2,149.6 353.8,149.9 355.4,149.7 357.1,149.1 358.7,148.0 360.3,146.9 362.0,145.1 363.6,142.7 363.6,142.7 362.0,151.3 360.3,156.8 358.7,161.1 357.1,164.6 355.4,167.7 353.8,172.6 352.2,176.7 350.5,180.4 348.9,184.1 347.3,187.6 345.6,191.0 344.0,194.1 342.4,196.9 340.7,199.5 339.1,201.9 337.5,204.1 335.8,206.0 334.2,207.9 332.6,209.6 330.9,211.3 329.3,212.9 327.7,214.5 326.0,216.1 324.4,217.7 322.8,219.3 321.1,220.9 319.5,222.4 317.9,224.0 316.2,225.5 314.6,227.0 313.0,228.4 311.4,229.8 309.7,231.3 308.1,232.6 306.5,234.0 304.8,235.3 303.2,236.6 301.6,237.8 299.9,239.1 298.3,240.4 296.7,241.6 295.0,242.9 293.4,244.2 291.8,245.6 290.1,246.9 288.5,248.2 286.9,249.4 285.2,250.7 283.6,251.9 282.0,253.1 280.3,254.3 278.7,255.4 277.1,256.4 275.4,257.5 273.8,258.4 272.2,259.4 270.5,260.3 268.9,261.1 267.3,261.9 265.6,262.7 264.0,263.5 262.4,264.3 260.7,265.1 259.1,265.9 257.5,266.7 255.8,267.5 254.2,268.3 252.6,269.0 250.9,269.8 249.3,270.5 247.7,271.3 246.0,272.0 244.4,272.7 242.8,273.4 241.1,274.2 239.5,275.0 237.9,275.9 236.2,277.0 234.6,278.1 233.0,279.4 231.3,280.9 229.7,282.4 228.1,284.0 226.4,285.8 224.8,287.5 223.2,289.0 221.5,290.1 219.9,291.0 218.3,291.6 216.6,291.8 215.0,291.9 213.4,291.8 211.7,291.7 210.1,291.6 208.5,291.5 206.9,291.3 205.2,291.1 203.6,290.8 202.0,290.6 200.3,290.3 198.7,290.1 197.1,289.8 195.4,289.6 193.8,289.5 192.2,289.4 190.5,289.4 188.9,289.3 187.3,289.2 185.6,289.1 184.0,289.1 182.4,289.0 180.7,289.0 179.1,288.9 177.5,288.9 175.8,288.8 174.2,288.8 172.6,288.7 170.9,288.7 169.3,288.7 167.7,288.7 166.0,288.6 164.4,288.6 162.8,288.6 161.1,288.6 159.5,288.5 157.9,288.5 156.2,288.5 154.6,288.5 153.0,288.4 151.3,288.4 149.7,288.4 148.1,288.3 146.4,288.3 144.8,288.3 143.2,288.3 141.5,288.2 139.9,288.2 138.3,288.2 136.6,288.1 135.0,288.1 133.4,288.0 131.7,288.0 130.1,288.0 128.5,287.9 126.8,287.9 125.2,287.9 123.6,287.8 121.9,287.8 120.3,287.8 119.0,287.8 118.0,287.8 116.9,287.7 115.9,287.8 114.8,287.8 113.8,287.8 112.8,287.9 111.7,287.9 110.7,288.0 109.6,288.1 108.6,288.3 107.6,288.4 106.5,288.6 105.5,289.0 104.4,289.5 103.4,290.1"/>
<path d="M103.4,289.6 104.4,284.3 105.5,279.6 106.5,276.9 107.6,275.1 108.6,273.8 109.6,272.7 110.7,271.7 111.7,270.7 112.8,269.9 113.8,269.2 114.8,268.5 115.9,267.9 116.9,267.3 118.0,266.7 119.0,266.2 120.3,265.6 121.9,264.8 123.6,264.1 125.2,263.5 126.8,262.9 128.5,262.3 130.1,261.8 131.7,261.3 133.4,260.8 135.0,260.4 136.6,260.0 138.3,259.6 139.9,259.2 141.5,258.7 143.2,258.3 144.8,257.9 146.4,257.4 148.1,257.0 149.7,256.6 151.3,256.1 153.0,255.7 154.6,255.2 156.2,254.8 157.9,254.4 159.5,253.9 161.1,253.5 162.8,253.1 164.4,252.7 166.0,252.3 167.7,251.9 169.3,251.5 170.9,251.1 172.6,250.8 174.2,250.4 175.8,250.1 177.5,249.7 179.1,249.4 180.7,249.1 182.4,248.7 184.0,248.4 185.6,248.0 187.3,247.7 188.9,247.3 190.5,247.0 192.2,246.6 193.8,246.2 195.4,245.8 197.1,245.4 198.7,245.0 200.3,244.5 202.0,244.0 203.6,243.4 205.2,242.0 206.9,241.6 208.5,241.8 210.1,241.9 211.7,241.8 213.4,241.4 215.0,240.9 216.6,240.3 218.3,239.7 219.9,239.2 221.5,238.7 223.2,238.4 224.8,238.0 226.4,237.7 228.1,237.4 229.7,237.0 231.3,236.6 233.0,236.2 234.6,235.8 236.2,235.4 237.9,235.0 239.5,234.6 241.1,234.3 242.8,234.1 244.4,233.8 246.0,233.6 247.7,233.3 249.3,232.9 250.9,232.2 252.6,231.2 254.2,229.9 255.8,228.4 257.5,226.6 259.1,224.4 260.7,222.1 262.4,219.7 264.0,217.1 265.6,214.7 267.3,212.2 268.9,209.9 270.5,208.0 272.2,206.4 273.8,205.0 275.4,203.8 277.1,203.6 278.7,204.8 280.3,206.0 282.0,206.7 283.6,206.7 285.2,206.6 286.9,206.5 288.5,205.9 290.1,204.5 291.8,202.5 293.4,200.2 295.0,197.7 296.7,194.9 298.3,192.3 299.9,189.6 301.6,186.5 303.2,183.5 304.8,180.9 306.5,178.6 308.1,176.4 309.7,174.2 311.4,172.3 313.0,171.3 314.6,171.2 316.2,171.9 317.9,173.1 319.5,173.7 321.1,173.7 322.8,173.1 324.4,172.3 326.0,171.5 327.7,170.6 329.3,169.8 330.9,168.9 332.6,167.7 334.2,166.1 335.8,163.8 337.5,161.3 339.1,158.1 340.7,155.0 342.4,152.8 344.0,151.0 345.6,150.1 347.3,149.8 348.9,150.0 350.5,150.4 352.2,150.9 353.8,151.2 355.4,151.1 357.1,150.5 358.7,149.6 360.3,148.6 362.0,147.0 363.6,144.7 363.6,144.7 362.0,153.8 360.3,159.6 358.7,164.1 357.1,167.6 355.4,170.7 353.8,175.4 352.2,179.3 350.5,182.9 348.9,186.5 347.3,190.0 345.6,193.3 344.0,196.2 342.4,198.9 340.7,201.4 339.1,203.8 337.5,205.9 335.8,207.9 334.2,209.7 332.6,211.4 330.9,213.0 329.3,214.6 327.7,216.1 326.0,217.7 324.4,219.3 322.8,220.8 321.1,222.3 319.5,223.8 317.9,225.3 316.2,226.8 314.6,228.2 313.0,229.6 311.4,231.0 309.7,232.4 308.1,233.7 306.5,235.0 304.8,236.3 303.2,237.5 301.6,238.8 299.9,240.0 298.3,241.2 296.7,242.5 295.0,243.7 293.4,245.0 291.8,246.2 290.1,247.5 288.5,248.8 286.9,250.0 285.2,251.2 283.6,252.4 282.0,253.6 280.3,254.7 278.7,255.8 277.1,256.8 275.4,257.8 273.8,258.8 272.2,259.7 270.5,260.5 268.9,261.4 267.3,262.1 265.6,262.9 264.0,263.6 262.4,264.4 260.7,265.1 259.1,265.9 257.5,266.7 255.8,267.5 254.2,268.2 252.6,269.0 250.9,269.7 249.3,270.5 247.7,271.2 246.0,271.9 244.4,272.6 242.8,273.3 241.1,274.0 239.5,274.8 237.9,275.7 236.2,276.7 234.6,277.8 233.0,279.1 231.3,280.5 229.7,282.0 228.1,283.6 226.4,285.3 224.8,287.0 223.2,288.4 221.5,289.6 219.9,290.5 218.3,291.1 216.6,291.4 215.0,291.5 213.4,291.4 211.7,291.4 210.1,291.3 208.5,291.2 206.9,291.0 205.2,290.8 203.6,290.6 202.0,290.4 200.3,290.2 198.7,289.9 197.1,289.7 195.4,289.5 193.8,289.4 192.2,289.3 190.5,289.2 188.9,289.2 187.3,289.1 185.6,289.0 184.0,289.0 182.4,288.9 180.7,288.8 179.1,288.8 177.5,288.7 175.8,288.7 174.2,288.7 172.6,288.6 170.9,288.6 169.3,288.6 167.7,288.5 166.0,288.5 164.4,288.5 162.8,288.5 161.1,288.4 159.5,288.4 157.9,288.4 156.2,288.4 154.6,288.3 153.0,288.3 151.3,288.3 149.7,288.2 148.1,288.2 146.4,288.2 144.8,288.2 143.2,288.1 141.5,288.1 139.9,288.1 138.3,288.0 136.6,288.0 135.0,287.9 133.4,287.9 131.7,287.9 130.1,287.8 128.5,287.8 126.8,287.7 125.2,287.7 123.6,287.7 121.9,287.6 120.3,287.6 119.0,287.6 118.0,287.6 116.9,287.6 115.9,287.6 114.8,287.6 113.8,287.7 112.8,287.7 111.7,287.8 110.7,287.9 109.6,288.0 108.6,288.1 107.6,288.3 106.5,288.5 105.5,288.9 104.4,289.5 103.4,290.1"/>
<path d="M103.4,289.6 104.4,284.3 105.5,279.7 106.5,276.9 107.6,275.2 108.6,273.8 109.6,272.7 110.7,271.7 111.7,270.8 112.8,270.0 113.8,269.2 114.8,268.5 115.9,267.9 116.9,267.3 118.0,266.8 119.0,266.3 120.3,265.6 121.9,264.9 123.6,264.2 125.2,263.6 126.8,263.0 128.5,262.4 130.1,261.9 131.7,261.4 133.4,260.9 135.0,260.5 136.6,260.1 138.3,259.7 139.9,259.3 141.5,258.9 143.2,258.4 144.8,258.0 146.4,257.6 148.1,257.1 149.7,256.7 151.3,256.3 153.0,255.8 154.6,255.4 156.2,255.0 157.9,254.5 159.5,254.1 161.1,253.7 162.8,253.3 164.4,252.8 166.0,252.4 167.7,252.0 169.3,251.6 170.9,251.3 172.6,250.9 174.2,250.6 175.8,250.2 177.5,249.9 179.1,249.5 180.7,249.2 182.4,248.9 184.0,248.5 185.6,248.2 187.3,247.8 188.9,247.5 190.5,247.1 192.2,246.7 193.8,246.3 195.4,245.9 197.1,245.5 198.7,245.1 200.3,244.7 202.0,244.1 203.6,243.5 205.2,242.1 206.9,241.7 208.5,241.9 210.1,242.0 211.7,241.9 213.4,241.5 215.0,241.0 216.6,240.4 218.3,239.8 219.9,239.3 221.5,238.9 223.2,238.5 224.8,238.1 226.4,237.8 228.1,237.5 229.7,237.1 231.3,236.7 233.0,236.3 234.6,236.0 236.2,235.6 237.9,235.2 239.5,234.8 241.1,234.5 242.8,234.2 244.4,234.0 246.0,233.8 247.7,233.5 249.3,233.1 250.9,232.4 252.6,231.5 254.2,230.3 255.8,228.9 257.5,227.2 259.1,225.2 260.7,223.0 262.4,220.5 264.0,218.0 265.6,215.5 267.3,212.9 268.9,210.5 270.5,208.5 272.2,206.8 273.8,205.3 275.4,204.0 277.1,203.8 278.7,204.9 280.3,206.2 282.0,206.9 283.6,206.9 285.2,206.8 286.9,206.7 288.5,206.2 290.1,204.8 291.8,202.9 293.4,200.6 295.0,198.1 296.7,195.4 298.3,192.8 299.9,190.2 301.6,187.3 303.2,184.4 304.8,181.8 306.5,179.6 308.1,177.5 309.7,175.4 311.4,173.7 313.0,172.6 314.6,172.6 316.2,173.2 317.9,174.2 319.5,174.8 321.1,174.8 322.8,174.3 324.4,173.6 326.0,172.9 327.7,172.0 329.3,171.2 330.9,170.3 332.6,169.2 334.2,167.6 335.8,165.3 337.5,162.7 339.1,159.5 340.7,156.4 342.4,154.2 344.0,152.4 345.6,151.4 347.3,151.2 348.9,151.2 350.5,151.6 352.2,151.9 353.8,152.2 355.4,152.1 357.1,151.6 358.7,150.9 360.3,150.0 362.0,148.5 363.6,146.3 363.6,146.2 362.0,155.7 360.3,161.8 358.7,166.5 357.1,170.2 355.4,173.3 353.8,177.8 352.2,181.6 350.5,185.1 348.9,188.6 347.3,192.0 345.6,195.2 344.0,198.1 342.4,200.7 340.7,203.1 339.1,205.4 337.5,207.5 335.8,209.4 334.2,211.2 332.6,212.9 330.9,214.5 329.3,216.0 327.7,217.6 326.0,219.1 324.4,220.6 322.8,222.1 321.1,223.6 319.5,225.1 317.9,226.5 316.2,227.9 314.6,229.3 313.0,230.7 311.4,232.0 309.7,233.4 308.1,234.7 306.5,235.9 304.8,237.2 303.2,238.4 301.6,239.6 299.9,240.8 298.3,242.0 296.7,243.2 295.0,244.4 293.4,245.6 291.8,246.8 290.1,248.1 288.5,249.3 286.9,250.5 285.2,251.7 283.6,252.8 282.0,254.0 280.3,255.1 278.7,256.1 277.1,257.1 275.4,258.1 273.8,259.1 272.2,259.9 270.5,260.8 268.9,261.5 267.3,262.3 265.6,263.0 264.0,263.7 262.4,264.5 260.7,265.2 259.1,265.9 257.5,266.7 255.8,267.4 254.2,268.2 252.6,268.9 250.9,269.7 249.3,270.4 247.7,271.1 246.0,271.8 244.4,272.4 242.8,273.1 241.1,273.8 239.5,274.6 237.9,275.5 236.2,276.4 234.6,277.5 233.0,278.7 231.3,280.1 229.7,281.5 228.1,283.1 226.4,284.8 224.8,286.5 223.2,287.9 221.5,289.1 219.9,290.0 218.3,290.6 216.6,291.0 215.0,291.1 213.4,291.1 211.7,291.0 210.1,291.0 208.5,290.9 206.9,290.8 205.2,290.6 203.6,290.4 202.0,290.2 200.3,290.0 198.7,289.7 197.1,289.5 195.4,289.4 193.8,289.3 192.2,289.2 190.5,289.1 188.9,289.0 187.3,289.0 185.6,288.9 184.0,288.8 182.4,288.8 180.7,288.7 179.1,288.7 177.5,288.6 175.8,288.6 174.2,288.6 172.6,288.5 170.9,288.5 169.3,288.5 167.7,288.4 166.0,288.4 164.4,288.4 162.8,288.4 161.1,288.3 159.5,288.3 157.9,288.3 156.2,288.2 154.6,288.2 153.0,288.2 151.3,288.1 149.7,288.1 148.1,288.1 146.4,288.0 144.8,288.0 143.2,288.0 141.5,288.0 139.9,287.9 138.3,287.9 136.6,287.8 135.0,287.8 133.4,287.8 131.7,287.7 130.1,287.7 128.5,287.6 126.8,287.6 125.2,287.5 123.6,287.5 121.9,287.5 120.3,287.5 119.0,287.4 118.0,287.4 116.9,287.4 115.9,287.4 114.8,287.5 113.8,287.5 112.8,287.6 111.7,287.6 110.7,287.7 109.6,287.8 108.6,288.0 107.6,288.1 106.5,288.3 105.5,288.8 104.4,289.4 103.4,290.1"/>
<path d="M103.4,289.6 104.4,284.3 105.5,279.7 106.5,277.0 107.6,275.2 108.6,273.9 109.6,272.8 110.7,271.8 111.7,270.9 112.8,270.0 113.8,269.3 114.8,268.6 115.9,268.0 116.9,267.4 118.0,266.9 119.0,266.3 120.3,265.7 121.9,265.0 123.6,264.3 125.2,263.7 126.8,263.1 128.5,262.5 130.1,262.0 131.7,261.5 133.4,261.1 135.0,260.6 136.6,260.2 138.3,259.8 139.9,259.4 141.5,259.0 143.2,258.6 144.8,258.2 146.4,257.7 148.1,257.3 149.7,256.8 151.3,256.4 153.0,256.0 154.6,255.5 156.2,255.1 157.9,254.7 159.5,254.2 161.1,253.8 162.8,253.4 164.4,253.0 166.0,252.6 167.7,252.2 169.3,251.8 170.9,251.4 172.6,251.1 174.2,250.7 175.8,250.4 177.5,250.0 179.1,249.7 180.7,249.3 182.4,249.0 184.0,248.7 185.6,248.3 187.3,248.0 188.9,247.6 190.5,247.2 192.2,246.8 193.8,246.4 195.4,246.0 197.1,245.6 198.7,245.2 200.3,244.8 202.0,244.2 203.6,243.6 205.2,242.2 206.9,241.8 208.5,242.0 210.1,242.1 211.7,242.0 213.4,241.6 215.0,241.1 216.6,240.5 218.3,239.9 219.9,239.4 221.5,239.0 223.2,238.6 224.8,238.2 226.4,237.9 228.1,237.6 229.7,237.2 231.3,236.8 233.0,236.4 234.6,236.1 236.2,235.7 237.9,235.3 239.5,234.9 241.1,234.6 242.8,234.4 244.4,234.2 246.0,234.0 247.7,233.7 249.3,233.3 250.9,232.7 252.6,231.8 254.2,230.7 255.8,229.4 257.5,227.8 259.1,225.9 260.7,223.8 262.4,221.3 264.0,218.7 265.6,216.2 267.3,213.5 268.9,211.0 270.5,209.0 272.2,207.2 273.8,205.6 275.4,204.2 277.1,203.9 278.7,205.0 280.3,206.4 282.0,207.1 283.6,207.1 285.2,207.0 286.9,206.9 288.5,206.4 290.1,205.0 291.8,203.1 293.4,200.9 295.0,198.4 296.7,195.8 298.3,193.3 299.9,190.7 301.6,187.9 303.2,185.1 304.8,182.6 306.5,180.5 308.1,178.5 309.7,176.5 311.4,174.8 313.0,173.9 314.6,173.7 316.2,174.3 317.9,175.2 319.5,175.8 321.1,175.8 322.8,175.3 324.4,174.7 326.0,174.0 327.7,173.2 329.3,172.4 330.9,171.5 332.6,170.3 334.2,168.7 335.8,166.4 337.5,163.8 339.1,160.6 340.7,157.5 342.4,155.3 344.0,153.5 345.6,152.5 347.3,152.2 348.9,152.2 350.5,152.4 352.2,152.7 353.8,152.9 355.4,152.8 357.1,152.5 358.7,151.8 360.3,151.0 362.0,149.6 363.6,147.5 363.6,147.5 362.0,157.3 360.3,163.7 358.7,168.6 357.1,172.4 355.4,175.6 353.8,179.9 352.2,183.6 350.5,187.0 348.9,190.4 347.3,193.7 345.6,196.8 344.0,199.7 342.4,202.2 340.7,204.6 339.1,206.8 337.5,208.9 335.8,210.8 334.2,212.6 332.6,214.2 330.9,215.8 329.3,217.3 327.7,218.8 326.0,220.3 324.4,221.8 322.8,223.2 321.1,224.7 319.5,226.1 317.9,227.5 316.2,228.9 314.6,230.3 313.0,231.6 311.4,232.9 309.7,234.2 308.1,235.5 306.5,236.7 304.8,237.9 303.2,239.1 301.6,240.3 299.9,241.5 298.3,242.6 296.7,243.8 295.0,245.0 293.4,246.2 291.8,247.4 290.1,248.6 288.5,249.7 286.9,250.9 285.2,252.1 283.6,253.2 282.0,254.3 280.3,255.4 278.7,256.4 277.1,257.4 275.4,258.4 273.8,259.3 272.2,260.2 270.5,260.9 268.9,261.7 267.3,262.4 265.6,263.1 264.0,263.8 262.4,264.5 260.7,265.2 259.1,265.9 257.5,266.7 255.8,267.4 254.2,268.1 252.6,268.9 250.9,269.6 249.3,270.3 247.7,271.0 246.0,271.7 244.4,272.3 242.8,273.0 241.1,273.6 239.5,274.4 237.9,275.2 236.2,276.2 234.6,277.2 233.0,278.4 231.3,279.7 229.7,281.2 228.1,282.7 226.4,284.3 224.8,286.0 223.2,287.4 221.5,288.6 219.9,289.6 218.3,290.2 216.6,290.6 215.0,290.7 213.4,290.8 211.7,290.7 210.1,290.7 208.5,290.7 206.9,290.6 205.2,290.4 203.6,290.2 202.0,290.0 200.3,289.8 198.7,289.6 197.1,289.4 195.4,289.2 193.8,289.1 192.2,289.1 190.5,289.0 188.9,288.9 187.3,288.8 185.6,288.8 184.0,288.7 182.4,288.7 180.7,288.6 179.1,288.6 177.5,288.5 175.8,288.5 174.2,288.4 172.6,288.4 170.9,288.4 169.3,288.3 167.7,288.3 166.0,288.3 164.4,288.3 162.8,288.2 161.1,288.2 159.5,288.2 157.9,288.1 156.2,288.1 154.6,288.1 153.0,288.0 151.3,288.0 149.7,288.0 148.1,287.9 146.4,287.9 144.8,287.9 143.2,287.8 141.5,287.8 139.9,287.8 138.3,287.7 136.6,287.7 135.0,287.6 133.4,287.6 131.7,287.6 130.1,287.5 128.5,287.5 126.8,287.4 125.2,287.4 123.6,287.4 121.9,287.3 120.3,287.3 119.0,287.3 118.0,287.3 116.9,287.3 115.9,287.3 114.8,287.3 113.8,287.3 112.8,287.4 111.7,287.5 110.7,287.6 109.6,287.7 108.6,287.8 107.6,288.0 106.5,288.2 105.5,288.7 104.4,289.3 103.4,290.0"/>
<path d="M103.4,289.6 104.4,284.3 105.5,279.8 106.5,277.0 107.6,275.3 108.6,274.0 109.6,272.9 110.7,271.8 111.7,270.9 112.8,270.1 113.8,269.3 114.8,268.7 115.9,268.0 116.9,267.5 118.0,266.9 119.0,266.4 120.3,265.8 121.9,265.1 123.6,264.4 125.2,263.8 126.8,263.2 128.5,262.7 130.1,262.1 131.7,261.7 133.4,261.2 135.0,260.8 136.6,260.4 138.3,260.0 139.9,259.6 141.5,259.2 143.2,258.7 144.8,258.3 146.4,257.9 148.1,257.4 149.7,257.0 151.3,256.6 153.0,256.1 154.6,255.7 156.2,255.3 157.9,254.8 159.5,254.4 161.1,254.0 162.8,253.6 164.4,253.1 166.0,252.7 167.7,252.3 169.3,252.0 170.9,251.6 172.6,251.2 174.2,250.9 175.8,250.5 177.5,250.2 179.1,249.8 180.7,249.5 182.4,249.1 184.0,248.8 185.6,248.4 187.3,248.1 188.9,247.7 190.5,247.3 192.2,246.9 193.8,246.5 195.4,246.1 197.1,245.7 198.7,245.3 200.3,244.9 202.0,244.3 203.6,243.7 205.2,242.3 206.9,241.9 208.5,242.1 210.1,242.2 211.7,242.1 213.4,241.7 215.0,241.2 216.6,240.6 218.3,240.0 219.9,239.5 221.5,239.1 223.2,238.7 224.8,238.4 226.4,238.0 228.1,237.7 229.7,237.3 231.3,237.0 233.0,236.6 234.6,236.2 236.2,235.8 237.9,235.4 239.5,235.1 241.1,234.8 242.8,234.5 244.4,234.3 246.0,234.1 247.7,233.8 249.3,233.4 250.9,232.8 252.6,232.1 254.2,231.0 255.8,229.8 257.5,228.3 259.1,226.5 260.7,224.4 262.4,222.0 264.0,219.4 265.6,216.8 267.3,214.1 268.9,211.5 270.5,209.3 272.2,207.5 273.8,205.8 275.4,204.4 277.1,204.0 278.7,205.1 280.3,206.5 282.0,207.3 283.6,207.3 285.2,207.2 286.9,207.0 288.5,206.6 290.1,205.3 291.8,203.4 293.4,201.2 295.0,198.7 296.7,196.1 298.3,193.7 299.9,191.2 301.6,188.4 303.2,185.7 304.8,183.3 306.5,181.3 308.1,179.3 309.7,177.4 311.4,175.8 313.0,174.9 314.6,174.8 316.2,175.3 317.9,176.1 319.5,176.6 321.1,176.5 322.8,176.1 324.4,175.6 326.0,174.9 327.7,174.1 329.3,173.3 330.9,172.4 332.6,171.2 334.2,169.7 335.8,167.3 337.5,164.6 339.1,161.4 340.7,158.3 342.4,156.1 344.0,154.3 345.6,153.4 347.3,153.0 348.9,152.9 350.5,153.1 352.2,153.3 353.8,153.5 355.4,153.4 357.1,153.1 358.7,152.5 360.3,151.8 362.0,150.5 363.6,148.4 363.6,148.4 362.0,158.6 360.3,165.3 358.7,170.3 357.1,174.3 355.4,177.5 353.8,181.7 352.2,185.3 350.5,188.7 348.9,192.0 347.3,195.2 345.6,198.3 344.0,201.1 342.4,203.6 340.7,205.9 339.1,208.1 337.5,210.1 335.8,212.0 334.2,213.7 332.6,215.4 330.9,216.9 329.3,218.4 327.7,219.9 326.0,221.4 324.4,222.8 322.8,224.2 321.1,225.6 319.5,227.0 317.9,228.4 316.2,229.8 314.6,231.1 313.0,232.4 311.4,233.7 309.7,235.0 308.1,236.2 306.5,237.4 304.8,238.6 303.2,239.8 301.6,240.9 299.9,242.0 298.3,243.2 296.7,244.3 295.0,245.5 293.4,246.6 291.8,247.8 290.1,249.0 288.5,250.1 286.9,251.3 285.2,252.4 283.6,253.5 282.0,254.6 280.3,255.7 278.7,256.7 277.1,257.7 275.4,258.6 273.8,259.5 272.2,260.3 270.5,261.1 268.9,261.8 267.3,262.5 265.6,263.2 264.0,263.8 262.4,264.5 260.7,265.2 259.1,265.9 257.5,266.6 255.8,267.3 254.2,268.1 252.6,268.8 250.9,269.5 249.3,270.2 247.7,270.9 246.0,271.6 244.4,272.2 242.8,272.8 241.1,273.5 239.5,274.2 237.9,275.0 236.2,276.0 234.6,277.0 233.0,278.1 231.3,279.4 229.7,280.8 228.1,282.3 226.4,283.9 224.8,285.6 223.2,287.0 221.5,288.2 219.9,289.2 218.3,289.8 216.6,290.2 215.0,290.4 213.4,290.4 211.7,290.4 210.1,290.4 208.5,290.4 206.9,290.3 205.2,290.2 203.6,290.0 202.0,289.9 200.3,289.7 198.7,289.4 197.1,289.2 195.4,289.1 193.8,289.0 192.2,288.9 190.5,288.9 188.9,288.8 187.3,288.7 185.6,288.7 184.0,288.6 182.4,288.6 180.7,288.5 179.1,288.5 177.5,288.4 175.8,288.4 174.2,288.3 172.6,288.3 170.9,288.3 169.3,288.2 167.7,288.2 166.0,288.2 164.4,288.2 162.8,288.1 161.1,288.1 159.5,288.1 157.9,288.0 156.2,288.0 154.6,288.0 153.0,287.9 151.3,287.9 149.7,287.8 148.1,287.8 146.4,287.8 144.8,287.7 143.2,287.7 141.5,287.7 139.9,287.6 138.3,287.6 136.6,287.5 135.0,287.5 133.4,287.5 131.7,287.4 130.1,287.4 128.5,287.3 126.8,287.3 125.2,287.2 123.6,287.2 121.9,287.2 120.3,287.1 119.0,287.1 118.0,287.1 116.9,287.1 115.9,287.1 114.8,287.1 113.8,287.2 112.8,287.2 111.7,287.3 110.7,287.4 109.6,287.5 108.6,287.7 107.6,287.8 106.5,288.1 105.5,288.6 104.4,289.3 103.4,290.0"/>
<path d="M103.4,289.6 104.4,284.4 105.5,279.8 106.5,277.1 107.6,275.3 108.6,274.0 109.6,272.9 110.7,271.9 111.7,271.0 112.8,270.2 113.8,269.4 114.8,268.7 115.9,268.1 116.9,267.5 118.0,267.0 119.0,266.5 120.3,265.9 121.9,265.2 123.6,264.5 125.2,263.9 126.8,263.3 128.5,262.8 130.1,262.3 131.7,261.8 133.4,261.3 135.0,260.9 136.6,260.5 138.3,260.1 139.9,259.7 141.5,259.3 143.2,258.9 144.8,258.4 146.4,258.0 148.1,257.6 149.7,257.1 151.3,256.7 153.0,256.3 154.6,255.8 156.2,255.4 157.9,255.0 159.5,254.5 161.1,254.1 162.8,253.7 164.4,253.3 166.0,252.9 167.7,252.5 169.3,252.1 170.9,251.7 172.6,251.4 174.2,251.0 175.8,250.6 177.5,250.3 179.1,250.0 180.7,249.6 182.4,249.3 184.0,248.9 185.6,248.6 187.3,248.2 188.9,247.8 190.5,247.5 192.2,247.1 193.8,246.7 195.4,246.2 197.1,245.8 198.7,245.4 200.3,245.0 202.0,244.5 203.6,243.8 205.2,242.4 206.9,242.0 208.5,242.2 210.1,242.3 211.7,242.2 213.4,241.8 215.0,241.3 216.6,240.7 218.3,240.1 219.9,239.6 221.5,239.2 223.2,238.8 224.8,238.5 226.4,238.1 228.1,237.8 229.7,237.4 231.3,237.1 233.0,236.7 234.6,236.3 236.2,235.9 237.9,235.6 239.5,235.2 241.1,234.9 242.8,234.7 244.4,234.5 246.0,234.2 247.7,233.9 249.3,233.6 250.9,233.0 252.6,232.3 254.2,231.3 255.8,230.1 257.5,228.7 259.1,227.0 260.7,225.0 262.4,222.5 264.0,220.0 265.6,217.3 267.3,214.5 268.9,211.8 270.5,209.6 272.2,207.7 273.8,206.1 275.4,204.5 277.1,204.1 278.7,205.2 280.3,206.6 282.0,207.4 283.6,207.4 285.2,207.3 286.9,207.2 288.5,206.7 290.1,205.4 291.8,203.6 293.4,201.4 295.0,199.0 296.7,196.4 298.3,194.0 299.9,191.6 301.6,188.9 303.2,186.2 304.8,183.9 306.5,182.0 308.1,180.1 309.7,178.2 311.4,176.7 313.0,175.8 314.6,175.7 316.2,176.1 317.9,176.8 319.5,177.2 321.1,177.2 322.8,176.8 324.4,176.3 326.0,175.7 327.7,174.9 329.3,174.1 330.9,173.2 332.6,172.0 334.2,170.4 335.8,168.0 337.5,165.3 339.1,162.1 340.7,159.0 342.4,156.8 344.0,155.0 345.6,154.1 347.3,153.7 348.9,153.5 350.5,153.6 352.2,153.8 353.8,153.9 355.4,153.9 357.1,153.6 358.7,153.1 360.3,152.5 362.0,151.2 363.6,149.2 363.6,149.2 362.0,159.7 360.3,166.6 358.7,171.8 357.1,175.9 355.4,179.2 353.8,183.2 352.2,186.8 350.5,190.1 348.9,193.4 347.3,196.5 345.6,199.5 344.0,202.2 342.4,204.7 340.7,207.0 339.1,209.2 337.5,211.1 335.8,213.0 334.2,214.7 332.6,216.3 330.9,217.9 329.3,219.4 327.7,220.8 326.0,222.3 324.4,223.7 322.8,225.1 321.1,226.4 319.5,227.8 317.9,229.2 316.2,230.5 314.6,231.8 313.0,233.1 311.4,234.3 309.7,235.6 308.1,236.8 306.5,238.0 304.8,239.2 303.2,240.3 301.6,241.4 299.9,242.5 298.3,243.7 296.7,244.8 295.0,245.9 293.4,247.0 291.8,248.2 290.1,249.3 288.5,250.5 286.9,251.6 285.2,252.7 283.6,253.8 282.0,254.9 280.3,255.9 278.7,256.9 277.1,257.8 275.4,258.8 273.8,259.7 272.2,260.5 270.5,261.2 268.9,261.9 267.3,262.6 265.6,263.2 264.0,263.9 262.4,264.5 260.7,265.2 259.1,265.8 257.5,266.5 255.8,267.3 254.2,268.0 252.6,268.7 250.9,269.4 249.3,270.1 247.7,270.8 246.0,271.4 244.4,272.1 242.8,272.7 241.1,273.3 239.5,274.1 237.9,274.9 236.2,275.8 234.6,276.7 233.0,277.9 231.3,279.2 229.7,280.5 228.1,282.0 226.4,283.6 224.8,285.2 223.2,286.6 221.5,287.8 219.9,288.8 218.3,289.4 216.6,289.8 215.0,290.0 213.4,290.1 211.7,290.2 210.1,290.2 208.5,290.2 206.9,290.1 205.2,290.0 203.6,289.8 202.0,289.7 200.3,289.5 198.7,289.3 197.1,289.1 195.4,289.0 193.8,288.9 192.2,288.8 190.5,288.7 188.9,288.7 187.3,288.6 185.6,288.5 184.0,288.5 182.4,288.4 180.7,288.4 179.1,288.3 177.5,288.3 175.8,288.3 174.2,288.2 172.6,288.2 170.9,288.2 169.3,288.1 167.7,288.1 166.0,288.1 164.4,288.0 162.8,288.0 161.1,288.0 159.5,287.9 157.9,287.9 156.2,287.9 154.6,287.8 153.0,287.8 151.3,287.8 149.7,287.7 148.1,287.7 146.4,287.6 144.8,287.6 143.2,287.6 141.5,287.5 139.9,287.5 138.3,287.4 136.6,287.4 135.0,287.4 133.4,287.3 131.7,287.3 130.1,287.2 128.5,287.2 126.8,287.1 125.2,287.1 123.6,287.0 121.9,287.0 120.3,287.0 119.0,287.0 118.0,287.0 116.9,287.0 115.9,287.0 114.8,287.0 113.8,287.0 112.8,287.1 111.7,287.2 110.7,287.3 109.6,287.4 108.6,287.5 107.6,287.7 106.5,288.0 105.5,288.5 104.4,289.2 103.4,290.0"/>
<path d="M103.4,289.6 104.4,284.4 105.5,279.8 106.5,277.1 107.6,275.4 108.6,274.1 109.6,273.0 110.7,272.0 111.7,271.1 112.8,270.2 113.8,269.5 114.8,268.8 115.9,268.2 116.9,267.6 118.0,267.1 119.0,266.6 120.3,266.0 121.9,265.3 123.6,264.6 125.2,264.0 126.8,263.4 128.5,262.9 130.1,262.4 131.7,261.9 133.4,261.5 135.0,261.0 136.6,260.6 138.3,260.2 139.9,259.8 141.5,259.4 143.2,259.0 144.8,258.6 146.4,258.2 148.1,257.7 149.7,257.3 151.3,256.9 153.0,256.4 154.6,256.0 156.2,255.6 157.9,255.1 159.5,254.7 161.1,254.3 162.8,253.9 164.4,253.4 166.0,253.0 167.7,252.6 169.3,252.3 170.9,251.9 172.6,251.5 174.2,251.1 175.8,250.8 177.5,250.4 179.1,250.1 180.7,249.8 182.4,249.4 184.0,249.1 185.6,248.7 187.3,248.3 188.9,248.0 190.5,247.6 192.2,247.2 193.8,246.8 195.4,246.4 197.1,246.0 198.7,245.6 200.3,245.1 202.0,244.6 203.6,243.9 205.2,242.5 206.9,242.1 208.5,242.3 210.1,242.5 211.7,242.3 213.4,241.9 215.0,241.4 216.6,240.8 218.3,240.2 219.9,239.7 221.5,239.3 223.2,238.9 224.8,238.6 226.4,238.2 228.1,237.9 229.7,237.5 231.3,237.2 233.0,236.8 234.6,236.4 236.2,236.0 237.9,235.7 239.5,235.3 241.1,235.0 242.8,234.8 244.4,234.6 246.0,234.4 247.7,234.1 249.3,233.7 250.9,233.1 252.6,232.5 254.2,231.5 255.8,230.4 257.5,229.1 259.1,227.4 260.7,225.5 262.4,223.0 264.0,220.4 265.6,217.8 267.3,214.9 268.9,212.2 270.5,209.9 272.2,208.0 273.8,206.2 275.4,204.7 277.1,204.2 278.7,205.3 280.3,206.7 282.0,207.5 283.6,207.5 285.2,207.4 286.9,207.3 288.5,206.8 290.1,205.6 291.8,203.8 293.4,201.6 295.0,199.2 296.7,196.7 298.3,194.3 299.9,191.9 301.6,189.3 303.2,186.7 304.8,184.5 306.5,182.5 308.1,180.7 309.7,178.9 311.4,177.5 313.0,176.7 314.6,176.5 316.2,176.8 317.9,177.4 319.5,177.7 321.1,177.7 322.8,177.4 324.4,176.9 326.0,176.3 327.7,175.5 329.3,174.7 330.9,173.8 332.6,172.6 334.2,171.0 335.8,168.6 337.5,165.8 339.1,162.6 340.7,159.5 342.4,157.3 344.0,155.5 345.6,154.6 347.3,154.2 348.9,154.0 350.5,154.0 352.2,154.2 353.8,154.3 355.4,154.2 357.1,154.0 358.7,153.6 360.3,153.0 362.0,151.7 363.6,149.8 363.6,149.8 362.0,160.5 360.3,167.7 358.7,173.1 357.1,177.3 355.4,180.7 353.8,184.6 352.2,188.0 350.5,191.3 348.9,194.5 347.3,197.7 345.6,200.6 344.0,203.3 342.4,205.7 340.7,208.0 339.1,210.1 337.5,212.0 335.8,213.9 334.2,215.6 332.6,217.2 330.9,218.7 329.3,220.2 327.7,221.6 326.0,223.0 324.4,224.4 322.8,225.8 321.1,227.1 319.5,228.5 317.9,229.8 316.2,231.1 314.6,232.4 313.0,233.7 311.4,234.9 309.7,236.1 308.1,237.3 306.5,238.5 304.8,239.7 303.2,240.8 301.6,241.9 299.9,243.0 298.3,244.1 296.7,245.2 295.0,246.3 293.4,247.4 291.8,248.5 290.1,249.6 288.5,250.8 286.9,251.9 285.2,253.0 283.6,254.0 282.0,255.1 280.3,256.1 278.7,257.1 277.1,258.0 275.4,258.9 273.8,259.8 272.2,260.6 270.5,261.3 268.9,262.0 267.3,262.6 265.6,263.3 264.0,263.9 262.4,264.5 260.7,265.1 259.1,265.8 257.5,266.5 255.8,267.2 254.2,267.9 252.6,268.6 250.9,269.3 249.3,270.0 247.7,270.7 246.0,271.3 244.4,271.9 242.8,272.6 241.1,273.2 239.5,273.9 237.9,274.7 236.2,275.6 234.6,276.5 233.0,277.7 231.3,278.9 229.7,280.3 228.1,281.7 226.4,283.2 224.8,284.8 223.2,286.2 221.5,287.4 219.9,288.4 218.3,289.1 216.6,289.5 215.0,289.7 213.4,289.8 211.7,289.9 210.1,289.9 208.5,289.9 206.9,289.9 205.2,289.8 203.6,289.6 202.0,289.5 200.3,289.3 198.7,289.1 197.1,288.9 195.4,288.8 193.8,288.7 192.2,288.7 190.5,288.6 188.9,288.5 187.3,288.5 185.6,288.4 184.0,288.4 182.4,288.3 180.7,288.3 179.1,288.2 177.5,288.2 175.8,288.1 174.2,288.1 172.6,288.1 170.9,288.0 169.3,288.0 167.7,288.0 166.0,288.0 164.4,287.9 162.8,287.9 161.1,287.9 159.5,287.8 157.9,287.8 156.2,287.7 154.6,287.7 153.0,287.7 151.3,287.6 149.7,287.6 148.1,287.5 146.4,287.5 144.8,287.5 143.2,287.4 141.5,287.4 139.9,287.3 138.3,287.3 136.6,287.3 135.0,287.2 133.4,287.2 131.7,287.1 130.1,287.1 128.5,287.0 126.8,287.0 125.2,286.9 123.6,286.9 121.9,286.8 120.3,286.8 119.0,286.8 118.0,286.8 116.9,286.8 115.9,286.8 114.8,286.8 113.8,286.9 112.8,286.9 111.7,287.0 110.7,287.1 109.6,287.3 108.6,287.4 107.6,287.5 106.5,287.8 105.5,288.4 104.4,289.2 103.4,290.0"/>
<path d="M103.4,289.6 104.4,284.4 105.5,279.9 106.5,277.2 107.6,275.4 108.6,274.1 109.6,273.0 110.7,272.0 111.7,271.1 112.8,270.3 113.8,269.5 114.8,268.9 115.9,268.2 116.9,267.7 118.0,267.2 119.0,266.6 120.3,266.1 121.9,265.4 123.6,264.7 125.2,264.1 126.8,263.6 128.5,263.0 130.1,262.5 131.7,262.0 133.4,261.6 135.0,261.2 136.6,260.8 138.3,260.4 139.9,260.0 141.5,259.6 143.2,259.1 144.8,258.7 146.4,258.3 148.1,257.9 149.7,257.4 151.3,257.0 153.0,256.6 154.6,256.1 156.2,255.7 157.9,255.3 159.5,254.9 161.1,254.4 162.8,254.0 164.4,253.6 166.0,253.2 167.7,252.8 169.3,252.4 170.9,252.0 172.6,251.7 174.2,251.3 175.8,250.9 177.5,250.6 179.1,250.2 180.7,249.9 182.4,249.5 184.0,249.2 185.6,248.8 187.3,248.5 188.9,248.1 190.5,247.7 192.2,247.3 193.8,246.9 195.4,246.5 197.1,246.1 198.7,245.7 200.3,245.2 202.0,244.7 203.6,244.0 205.2,242.7 206.9,242.2 208.5,242.4 210.1,242.6 211.7,242.4 213.4,242.0 215.0,241.5 216.6,240.9 218.3,240.3 219.9,239.8 221.5,239.4 223.2,239.0 224.8,238.7 226.4,238.3 228.1,238.0 229.7,237.6 231.3,237.3 233.0,236.9 234.6,236.5 236.2,236.2 237.9,235.8 239.5,235.5 241.1,235.2 242.8,234.9 244.4,234.7 246.0,234.5 247.7,234.2 249.3,233.8 250.9,233.3 252.6,232.6 254.2,231.7 255.8,230.7 257.5,229.4 259.1,227.8 260.7,225.9 262.4,223.5 264.0,220.9 265.6,218.2 267.3,215.2 268.9,212.4 270.5,210.1 272.2,208.2 273.8,206.4 275.4,204.8 277.1,204.2 278.7,205.4 280.3,206.8 282.0,207.6 283.6,207.6 285.2,207.5 286.9,207.4 288.5,207.0 290.1,205.7 291.8,204.0 293.4,201.8 295.0,199.4 296.7,196.9 298.3,194.5 299.9,192.2 301.6,189.6 303.2,187.1 304.8,184.9 306.5,183.0 308.1,181.2 309.7,179.5 311.4,178.2 313.0,177.4 314.6,177.1 316.2,177.4 317.9,177.9 319.5,178.2 321.1,178.1 322.8,177.8 324.4,177.4 326.0,176.8 327.7,176.0 329.3,175.2 330.9,174.3 332.6,173.1 334.2,171.4 335.8,169.0 337.5,166.2 339.1,163.0 340.7,159.9 342.4,157.7 344.0,155.9 345.6,155.0 347.3,154.6 348.9,154.3 350.5,154.3 352.2,154.5 353.8,154.5 355.4,154.5 357.1,154.3 358.7,153.9 360.3,153.4 362.0,152.2 363.6,150.2 363.6,150.2 362.0,161.2 360.3,168.6 358.7,174.1 357.1,178.5 355.4,181.9 353.8,185.8 352.2,189.1 350.5,192.4 348.9,195.6 347.3,198.6 345.6,201.5 344.0,204.2 342.4,206.6 340.7,208.8 339.1,210.9 337.5,212.8 335.8,214.6 334.2,216.3 332.6,217.9 330.9,219.5 329.3,220.9 327.7,222.3 326.0,223.7 324.4,225.1 322.8,226.4 321.1,227.8 319.5,229.1 317.9,230.4 316.2,231.7 314.6,232.9 313.0,234.2 311.4,235.4 309.7,236.6 308.1,237.8 306.5,239.0 304.8,240.1 303.2,241.2 301.6,242.3 299.9,243.4 298.3,244.4 296.7,245.5 295.0,246.6 293.4,247.7 291.8,248.8 290.1,249.9 288.5,251.0 286.9,252.1 285.2,253.2 283.6,254.2 282.0,255.3 280.3,256.3 278.7,257.2 277.1,258.1 275.4,259.0 273.8,259.9 272.2,260.7 270.5,261.4 268.9,262.0 267.3,262.7 265.6,263.3 264.0,263.9 262.4,264.5 260.7,265.1 259.1,265.7 257.5,266.4 255.8,267.1 254.2,267.8 252.6,268.5 250.9,269.2 249.3,269.9 247.7,270.5 246.0,271.2 244.4,271.8 242.8,272.4 241.1,273.1 239.5,273.8 237.9,274.5 236.2,275.4 234.6,276.4 233.0,277.4 231.3,278.7 229.7,280.0 228.1,281.4 226.4,282.9 224.8,284.5 223.2,285.9 221.5,287.1 219.9,288.0 218.3,288.7 216.6,289.1 215.0,289.4 213.4,289.5 211.7,289.6 210.1,289.7 208.5,289.7 206.9,289.6 205.2,289.6 203.6,289.4 202.0,289.3 200.3,289.2 198.7,289.0 197.1,288.8 195.4,288.7 193.8,288.6 192.2,288.5 190.5,288.5 188.9,288.4 187.3,288.4 185.6,288.3 184.0,288.3 182.4,288.2 180.7,288.2 179.1,288.1 177.5,288.1 175.8,288.0 174.2,288.0 172.6,288.0 170.9,287.9 169.3,287.9 167.7,287.9 166.0,287.8 164.4,287.8 162.8,287.8 161.1,287.7 159.5,287.7 157.9,287.7 156.2,287.6 154.6,287.6 153.0,287.5 151.3,287.5 149.7,287.5 148.1,287.4 146.4,287.4 144.8,287.3 143.2,287.3 141.5,287.2 139.9,287.2 138.3,287.2 136.6,287.1 135.0,287.1 133.4,287.0 131.7,287.0 130.1,286.9 128.5,286.9 126.8,286.8 125.2,286.8 123.6,286.7 121.9,286.7 120.3,286.7 119.0,286.7 118.0,286.6 116.9,286.6 115.9,286.6 114.8,286.7 113.8,286.7 112.8,286.8 111.7,286.9 110.7,287.0 109.6,287.1 108.6,287.2 107.6,287.4 106.5,287.7 105.5,288.3 104.4,289.1 103.4,289.9"/>
<path d="M103.4,289.6 104.4,284.4 105.5,279.9 106.5,277.2 107.6,275.5 108.6,274.2 109.6,273.1 110.7,272.1 111.7,271.2 112.8,270.3 113.8,269.6 114.8,268.9 115.9,268.3 116.9,267.7 118.0,267.2 119.0,266.7 120.3,266.1 121.9,265.5 123.6,264.8 125.2,264.2 126.8,263.7 128.5,263.1 130.1,262.6 131.7,262.2 133.4,261.7 135.0,261.3 136.6,260.9 138.3,260.5 139.9,260.1 141.5,259.7 143.2,259.3 144.8,258.9 146.4,258.4 148.1,258.0 149.7,257.6 151.3,257.1 153.0,256.7 154.6,256.3 156.2,255.9 157.9,255.4 159.5,255.0 161.1,254.6 162.8,254.2 164.4,253.8 166.0,253.3 167.7,252.9 169.3,252.6 170.9,252.2 172.6,251.8 174.2,251.4 175.8,251.1 177.5,250.7 179.1,250.4 180.7,250.0 182.4,249.7 184.0,249.3 185.6,249.0 187.3,248.6 188.9,248.2 190.5,247.8 192.2,247.4 193.8,247.0 195.4,246.6 197.1,246.2 198.7,245.8 200.3,245.3 202.0,244.8 203.6,244.1 205.2,242.8 206.9,242.3 208.5,242.5 210.1,242.7 211.7,242.5 213.4,242.2 215.0,241.6 216.6,241.0 218.3,240.4 219.9,239.9 221.5,239.5 223.2,239.1 224.8,238.8 226.4,238.4 228.1,238.1 229.7,237.7 231.3,237.4 233.0,237.0 234.6,236.6 236.2,236.3 237.9,235.9 239.5,235.6 241.1,235.3 242.8,235.0 244.4,234.8 246.0,234.6 247.7,234.3 249.3,233.9 250.9,233.4 252.6,232.8 254.2,231.9 255.8,230.9 257.5,229.6 259.1,228.2 260.7,226.2 262.4,223.8 264.0,221.2 265.6,218.5 267.3,215.5 268.9,212.7 270.5,210.3 272.2,208.3 273.8,206.5 275.4,204.9 277.1,204.3 278.7,205.4 280.3,206.9 282.0,207.7 283.6,207.7 285.2,207.6 286.9,207.5 288.5,207.1 290.1,205.9 291.8,204.1 293.4,201.9 295.0,199.6 296.7,197.1 298.3,194.8 299.9,192.5 301.6,189.9 303.2,187.5 304.8,185.3 306.5,183.5 308.1,181.7 309.7,180.1 311.4,178.8 313.0,178.0 314.6,177.7 316.2,177.9 317.9,178.3 319.5,178.5 321.1,178.5 322.8,178.2 324.4,177.8 326.0,177.2 327.7,176.5 329.3,175.6 330.9,174.7 332.6,173.4 334.2,171.8 335.8,169.3 337.5,166.5 339.1,163.3 340.7,160.2 342.4,158.0 344.0,156.3 345.6,155.3 347.3,154.9 348.9,154.6 350.5,154.6 352.2,154.7 353.8,154.7 355.4,154.7 357.1,154.6 358.7,154.2 360.3,153.7 362.0,152.5 363.6,150.6 363.6,150.6 362.0,161.8 360.3,169.3 358.7,175.1 357.1,179.6 355.4,183.0 353.8,186.8 352.2,190.1 350.5,193.3 348.9,196.5 347.3,199.5 345.6,202.4 344.0,205.0 342.4,207.3 340.7,209.5 339.1,211.6 337.5,213.5 335.8,215.3 334.2,217.0 332.6,218.6 330.9,220.1 329.3,221.5 327.7,222.9 326.0,224.3 324.4,225.6 322.8,227.0 321.1,228.3 319.5,229.6 317.9,230.9 316.2,232.2 314.6,233.4 313.0,234.6 311.4,235.8 309.7,237.0 308.1,238.2 306.5,239.3 304.8,240.5 303.2,241.6 301.6,242.6 299.9,243.7 298.3,244.8 296.7,245.8 295.0,246.9 293.4,248.0 291.8,249.0 290.1,250.1 288.5,251.2 286.9,252.3 285.2,253.4 283.6,254.4 282.0,255.4 280.3,256.4 278.7,257.3 277.1,258.3 275.4,259.1 273.8,260.0 272.2,260.7 270.5,261.4 268.9,262.1 267.3,262.7 265.6,263.2 264.0,263.8 262.4,264.4 260.7,265.0 259.1,265.6 257.5,266.3 255.8,267.0 254.2,267.7 252.6,268.4 250.9,269.1 249.3,269.8 247.7,270.4 246.0,271.1 244.4,271.7 242.8,272.3 241.1,272.9 239.5,273.6 237.9,274.4 236.2,275.2 234.6,276.2 233.0,277.2 231.3,278.4 229.7,279.8 228.1,281.1 226.4,282.6 224.8,284.1 223.2,285.5 221.5,286.7 219.9,287.7 218.3,288.4 216.6,288.8 215.0,289.1 213.4,289.3 211.7,289.4 210.1,289.4 208.5,289.5 206.9,289.4 205.2,289.3 203.6,289.2 202.0,289.1 200.3,289.0 198.7,288.8 197.1,288.6 195.4,288.5 193.8,288.5 192.2,288.4 190.5,288.4 188.9,288.3 187.3,288.2 185.6,288.2 184.0,288.1 182.4,288.1 180.7,288.0 179.1,288.0 177.5,288.0 175.8,287.9 174.2,287.9 172.6,287.9 170.9,287.8 169.3,287.8 167.7,287.8 166.0,287.7 164.4,287.7 162.8,287.7 161.1,287.6 159.5,287.6 157.9,287.5 156.2,287.5 154.6,287.5 153.0,287.4 151.3,287.4 149.7,287.3 148.1,287.3 146.4,287.2 144.8,287.2 143.2,287.1 141.5,287.1 139.9,287.1 138.3,287.0 136.6,287.0 135.0,286.9 133.4,286.9 131.7,286.8 130.1,286.7 128.5,286.7 126.8,286.7 125.2,286.6 123.6,286.6 121.9,286.5 120.3,286.5 119.0,286.5 118.0,286.5 116.9,286.5 115.9,286.5 114.8,286.5 113.8,286.6 112.8,286.6 111.7,286.7 110.7,286.8 109.6,287.0 108.6,287.1 107.6,287.3 106.5,287.6 105.5,288.2 104.4,289.0 103.4,289.9"/>
<path d="M103.4,289.6 104.4,284.5 105.5,280.0 106.5,277.3 107.6,275.6 108.6,274.2 109.6,273.2 110.7,272.2 111.7,271.2 112.8,270.4 113.8,269.7 114.8,269.0 115.9,268.4 116.9,267.8 118.0,267.3 119.0,266.8 120.3,266.2 121.9,265.5 123.6,264.9 125.2,264.3 126.8,263.8 128.5,263.3 130.1,262.8 131.7,262.3 133.4,261.8 135.0,261.4 136.6,261.0 138.3,260.6 139.9,260.2 141.5,259.8 143.2,259.4 144.8,259.0 146.4,258.6 148.1,258.2 149.7,257.7 151.3,257.3 153.0,256.9 154.6,256.4 156.2,256.0 157.9,255.6 159.5,255.2 161.1,254.7 162.8,254.3 164.4,253.9 166.0,253.5 167.7,253.1 169.3,252.7 170.9,252.3 172.6,252.0 174.2,251.6 175.8,251.2 177.5,250.9 179.1,250.5 180.7,250.2 182.4,249.8 184.0,249.5 185.6,249.1 187.3,248.7 188.9,248.4 190.5,248.0 192.2,247.6 193.8,247.2 195.4,246.7 197.1,246.3 198.7,245.9 200.3,245.4 202.0,244.9 203.6,244.2 205.2,242.9 206.9,242.4 208.5,242.6 210.1,242.8 211.7,242.6 213.4,242.3 215.0,241.7 216.6,241.1 218.3,240.5 219.9,240.0 221.5,239.6 223.2,239.2 224.8,238.9 226.4,238.5 228.1,238.2 229.7,237.9 231.3,237.5 233.0,237.1 234.6,236.7 236.2,236.4 237.9,236.0 239.5,235.7 241.1,235.4 242.8,235.1 244.4,234.9 246.0,234.7 247.7,234.4 249.3,234.0 250.9,233.5 252.6,232.9 254.2,232.1 255.8,231.1 257.5,229.9 259.1,228.4 260.7,226.6 262.4,224.1 264.0,221.5 265.6,218.8 267.3,215.8 268.9,212.9 270.5,210.5 272.2,208.5 273.8,206.6 275.4,204.9 277.1,204.3 278.7,205.5 280.3,206.9 282.0,207.8 283.6,207.8 285.2,207.7 286.9,207.6 288.5,207.1 290.1,206.0 291.8,204.2 293.4,202.1 295.0,199.7 296.7,197.3 298.3,195.0 299.9,192.7 301.6,190.2 303.2,187.8 304.8,185.6 306.5,183.8 308.1,182.1 309.7,180.5 311.4,179.3 313.0,178.5 314.6,178.2 316.2,178.3 317.9,178.7 319.5,178.9 321.1,178.8 322.8,178.5 324.4,178.1 326.0,177.5 327.7,176.8 329.3,175.9 330.9,175.0 332.6,173.7 334.2,172.1 335.8,169.6 337.5,166.8 339.1,163.6 340.7,160.4 342.4,158.2 344.0,156.5 345.6,155.6 347.3,155.1 348.9,154.8 350.5,154.8 352.2,154.8 353.8,154.9 355.4,154.9 357.1,154.7 358.7,154.4 360.3,153.9 362.0,152.7 363.6,150.8 363.6,150.8 362.0,162.3 360.3,170.0 358.7,175.8 357.1,180.5 355.4,184.0 353.8,187.7 352.2,190.9 350.5,194.1 348.9,197.2 347.3,200.2 345.6,203.1 344.0,205.6 342.4,207.9 340.7,210.1 339.1,212.2 337.5,214.1 335.8,215.8 334.2,217.5 332.6,219.1 330.9,220.6 329.3,222.1 327.7,223.5 326.0,224.8 324.4,226.1 322.8,227.4 321.1,228.7 319.5,230.0 317.9,231.3 316.2,232.6 314.6,233.8 313.0,235.0 311.4,236.2 309.7,237.4 308.1,238.5 306.5,239.7 304.8,240.8 303.2,241.9 301.6,242.9 299.9,244.0 298.3,245.0 296.7,246.1 295.0,247.1 293.4,248.2 291.8,249.3 290.1,250.3 288.5,251.4 286.9,252.5 285.2,253.5 283.6,254.5 282.0,255.5 280.3,256.5 278.7,257.4 277.1,258.3 275.4,259.2 273.8,260.0 272.2,260.8 270.5,261.5 268.9,262.1 267.3,262.7 265.6,263.2 264.0,263.8 262.4,264.3 260.7,264.9 259.1,265.6 257.5,266.2 255.8,266.9 254.2,267.6 252.6,268.3 250.9,268.9 249.3,269.6 247.7,270.3 246.0,271.0 244.4,271.6 242.8,272.2 241.1,272.8 239.5,273.5 237.9,274.3 236.2,275.1 234.6,276.0 233.0,277.1 231.3,278.2 229.7,279.5 228.1,280.9 226.4,282.3 224.8,283.8 223.2,285.2 221.5,286.4 219.9,287.3 218.3,288.1 216.6,288.5 215.0,288.8 213.4,289.0 211.7,289.1 210.1,289.2 208.5,289.2 206.9,289.2 205.2,289.1 203.6,289.0 202.0,288.9 200.3,288.8 198.7,288.6 197.1,288.5 195.4,288.4 193.8,288.3 192.2,288.3 190.5,288.2 188.9,288.2 187.3,288.1 185.6,288.1 184.0,288.0 182.4,288.0 180.7,287.9 179.1,287.9 177.5,287.9 175.8,287.8 174.2,287.8 172.6,287.7 170.9,287.7 169.3,287.7 167.7,287.7 166.0,287.6 164.4,287.6 162.8,287.5 161.1,287.5 159.5,287.5 157.9,287.4 156.2,287.4 154.6,287.3 153.0,287.3 151.3,287.2 149.7,287.2 148.1,287.1 146.4,287.1 144.8,287.0 143.2,287.0 141.5,287.0 139.9,286.9 138.3,286.9 136.6,286.8 135.0,286.8 133.4,286.7 131.7,286.7 130.1,286.6 128.5,286.5 126.8,286.5 125.2,286.5 123.6,286.4 121.9,286.4 120.3,286.4 119.0,286.3 118.0,286.3 116.9,286.3 115.9,286.3 114.8,286.4 113.8,286.4 112.8,286.5 111.7,286.6 110.7,286.7 109.6,286.8 108.6,287.0 107.6,287.1 106.5,287.4 105.5,288.1 104.4,289.0 103.4,289.9"/>
<path d="M103.4,289.6 104.4,284.5 105.5,280.0 106.5,277.3 107.6,275.6 108.6,274.3 109.6,273.2 110.7,272.2 111.7,271.3 112.8,270.5 113.8,269.7 114.8,269.0 115.9,268.4 116.9,267.9 118.0,267.4 119.0,266.9 120.3,266.3 121.9,265.6 123.6,265.0 125.2,264.4 126.8,263.9 128.5,263.4 130.1,262.9 131.7,262.4 133.4,262.0 135.0,261.6 136.6,261.2 138.3,260.8 139.9,260.4 141.5,260.0 143.2,259.6 144.8,259.1 146.4,258.7 148.1,258.3 149.7,257.9 151.3,257.4 153.0,257.0 154.6,256.6 156.2,256.2 157.9,255.7 159.5,255.3 161.1,254.9 162.8,254.5 164.4,254.1 166.0,253.7 167.7,253.3 169.3,252.9 170.9,252.5 172.6,252.1 174.2,251.7 175.8,251.4 177.5,251.0 179.1,250.7 180.7,250.3 182.4,250.0 184.0,249.6 185.6,249.2 187.3,248.9 188.9,248.5 190.5,248.1 192.2,247.7 193.8,247.3 195.4,246.8 197.1,246.4 198.7,246.0 200.3,245.6 202.0,245.0 203.6,244.3 205.2,243.0 206.9,242.6 208.5,242.8 210.1,242.9 211.7,242.7 213.4,242.4 215.0,241.9 216.6,241.3 218.3,240.7 219.9,240.1 221.5,239.7 223.2,239.3 224.8,239.0 226.4,238.7 228.1,238.3 229.7,238.0 231.3,237.6 233.0,237.2 234.6,236.8 236.2,236.5 237.9,236.1 239.5,235.8 241.1,235.5 242.8,235.3 244.4,235.0 246.0,234.8 247.7,234.4 249.3,234.1 250.9,233.6 252.6,233.0 254.2,232.2 255.8,231.2 257.5,230.1 259.1,228.7 260.7,226.8 262.4,224.4 264.0,221.8 265.6,219.1 267.3,216.0 268.9,213.1 270.5,210.7 272.2,208.6 273.8,206.7 275.4,205.0 277.1,204.4 278.7,205.5 280.3,207.0 282.0,207.9 283.6,207.9 285.2,207.8 286.9,207.6 288.5,207.2 290.1,206.1 291.8,204.3 293.4,202.2 295.0,199.8 296.7,197.4 298.3,195.1 299.9,192.9 301.6,190.4 303.2,188.0 304.8,185.9 306.5,184.2 308.1,182.5 309.7,180.9 311.4,179.7 313.0,179.0 314.6,178.7 316.2,178.7 317.9,179.0 319.5,179.1 321.1,179.0 322.8,178.8 324.4,178.4 326.0,177.8 327.7,177.1 329.3,176.2 330.9,175.2 332.6,174.0 334.2,172.3 335.8,169.8 337.5,167.0 339.1,163.8 340.7,160.6 342.4,158.4 344.0,156.7 345.6,155.8 347.3,155.3 348.9,155.0 350.5,154.9 352.2,155.0 353.8,155.0 355.4,155.0 357.1,154.9 358.7,154.6 360.3,154.1 362.0,152.9 363.6,151.1 363.6,151.1 362.0,162.6 360.3,170.5 358.7,176.5 357.1,181.2 355.4,184.8 353.8,188.4 352.2,191.6 350.5,194.8 348.9,197.9 347.3,200.9 345.6,203.7 344.0,206.2 342.4,208.5 340.7,210.7 339.1,212.7 337.5,214.6 335.8,216.3 334.2,218.0 332.6,219.6 330.9,221.1 329.3,222.5 327.7,223.9 326.0,225.2 324.4,226.6 322.8,227.9 321.1,229.1 319.5,230.4 317.9,231.7 316.2,232.9 314.6,234.1 313.0,235.3 311.4,236.5 309.7,237.7 308.1,238.8 306.5,240.0 304.8,241.1 303.2,242.1 301.6,243.2 299.9,244.2 298.3,245.3 296.7,246.3 295.0,247.3 293.4,248.4 291.8,249.4 290.1,250.5 288.5,251.6 286.9,252.6 285.2,253.6 283.6,254.7 282.0,255.7 280.3,256.6 278.7,257.5 277.1,258.4 275.4,259.3 273.8,260.1 272.2,260.8 270.5,261.5 268.9,262.1 267.3,262.6 265.6,263.2 264.0,263.7 262.4,264.3 260.7,264.9 259.1,265.5 257.5,266.1 255.8,266.8 254.2,267.4 252.6,268.1 250.9,268.8 249.3,269.5 247.7,270.2 246.0,270.8 244.4,271.5 242.8,272.1 241.1,272.7 239.5,273.4 237.9,274.1 236.2,274.9 234.6,275.9 233.0,276.9 231.3,278.1 229.7,279.3 228.1,280.7 226.4,282.1 224.8,283.5 223.2,284.9 221.5,286.1 219.9,287.0 218.3,287.7 216.6,288.2 215.0,288.5 213.4,288.7 211.7,288.9 210.1,289.0 208.5,289.0 206.9,289.0 205.2,288.9 203.6,288.9 202.0,288.8 200.3,288.6 198.7,288.5 197.1,288.4 195.4,288.3 193.8,288.2 192.2,288.2 190.5,288.1 188.9,288.1 187.3,288.0 185.6,288.0 184.0,287.9 182.4,287.9 180.7,287.8 179.1,287.8 177.5,287.7 175.8,287.7 174.2,287.7 172.6,287.6 170.9,287.6 169.3,287.6 167.7,287.5 166.0,287.5 164.4,287.5 162.8,287.4 161.1,287.4 159.5,287.3 157.9,287.3 156.2,287.3 154.6,287.2 153.0,287.2 151.3,287.1 149.7,287.1 148.1,287.0 146.4,287.0 144.8,286.9 143.2,286.9 141.5,286.8 139.9,286.8 138.3,286.7 136.6,286.7 135.0,286.6 133.4,286.6 131.7,286.5 130.1,286.4 128.5,286.4 126.8,286.3 125.2,286.3 123.6,286.3 121.9,286.2 120.3,286.2 119.0,286.2 118.0,286.2 116.9,286.2 115.9,286.2 114.8,286.2 113.8,286.2 112.8,286.3 111.7,286.4 110.7,286.5 109.6,286.7 108.6,286.8 107.6,287.0 106.5,287.3 105.5,288.0 104.4,288.9 103.4,289.9"/>
<path d="M103.4,289.6 104.4,284.5 105.5,280.1 106.5,277.4 107.6,275.7 108.6,274.4 109.6,273.3 110.7,272.3 111.7,271.4 112.8,270.5 113.8,269.8 114.8,269.1 115.9,268.5 116.9,268.0 118.0,267.4 119.0,267.0 120.3,266.4 121.9,265.7 123.6,265.1 125.2,264.6 126.8,264.0 128.5,263.5 130.1,263.0 131.7,262.5 133.4,262.1 135.0,261.7 136.6,261.3 138.3,260.9 139.9,260.5 141.5,260.1 143.2,259.7 144.8,259.3 146.4,258.9 148.1,258.4 149.7,258.0 151.3,257.6 153.0,257.2 154.6,256.7 156.2,256.3 157.9,255.9 159.5,255.5 161.1,255.0 162.8,254.6 164.4,254.2 166.0,253.8 167.7,253.4 169.3,253.0 170.9,252.6 172.6,252.2 174.2,251.9 175.8,251.5 177.5,251.2 179.1,250.8 180.7,250.5 182.4,250.1 184.0,249.7 185.6,249.4 187.3,249.0 188.9,248.6 190.5,248.2 192.2,247.8 193.8,247.4 195.4,247.0 197.1,246.6 198.7,246.1 200.3,245.7 202.0,245.1 203.6,244.4 205.2,243.1 206.9,242.7 208.5,242.9 210.1,243.0 211.7,242.9 213.4,242.5 215.0,242.0 216.6,241.4 218.3,240.8 219.9,240.2 221.5,239.8 223.2,239.5 224.8,239.1 226.4,238.8 228.1,238.4 229.7,238.1 231.3,237.7 233.0,237.3 234.6,237.0 236.2,236.6 237.9,236.2 239.5,235.9 241.1,235.6 242.8,235.4 244.4,235.1 246.0,234.8 247.7,234.5 249.3,234.1 250.9,233.6 252.6,233.1 254.2,232.3 255.8,231.4 257.5,230.2 259.1,228.9 260.7,227.1 262.4,224.7 264.0,222.0 265.6,219.3 267.3,216.2 268.9,213.2 270.5,210.8 272.2,208.7 273.8,206.8 275.4,205.1 277.1,204.4 278.7,205.6 280.3,207.0 282.0,207.9 283.6,207.9 285.2,207.8 286.9,207.7 288.5,207.3 290.1,206.1 291.8,204.4 293.4,202.3 295.0,199.9 296.7,197.5 298.3,195.3 299.9,193.0 301.6,190.6 303.2,188.2 304.8,186.2 306.5,184.4 308.1,182.8 309.7,181.3 311.4,180.1 313.0,179.4 314.6,179.1 316.2,179.0 317.9,179.3 319.5,179.3 321.1,179.2 322.8,179.0 324.4,178.6 326.0,178.1 327.7,177.3 329.3,176.4 330.9,175.4 332.6,174.2 334.2,172.5 335.8,170.0 337.5,167.1 339.1,163.9 340.7,160.8 342.4,158.6 344.0,156.9 345.6,155.9 347.3,155.4 348.9,155.1 350.5,155.0 352.2,155.1 353.8,155.1 355.4,155.1 357.1,155.0 358.7,154.7 360.3,154.2 362.0,153.1 363.6,151.2 363.6,151.2 362.0,163.0 360.3,171.0 358.7,177.1 357.1,181.9 355.4,185.5 353.8,189.1 352.2,192.2 350.5,195.4 348.9,198.4 347.3,201.4 345.6,204.2 344.0,206.7 342.4,209.0 340.7,211.1 339.1,213.1 337.5,215.0 335.8,216.8 334.2,218.4 332.6,220.0 330.9,221.5 329.3,222.9 327.7,224.3 326.0,225.6 324.4,226.9 322.8,228.2 321.1,229.5 319.5,230.7 317.9,232.0 316.2,233.2 314.6,234.4 313.0,235.6 311.4,236.8 309.7,238.0 308.1,239.1 306.5,240.2 304.8,241.3 303.2,242.4 301.6,243.4 299.9,244.4 298.3,245.5 296.7,246.5 295.0,247.5 293.4,248.5 291.8,249.6 290.1,250.6 288.5,251.7 286.9,252.7 285.2,253.8 283.6,254.8 282.0,255.7 280.3,256.7 278.7,257.6 277.1,258.5 275.4,259.3 273.8,260.1 272.2,260.8 270.5,261.5 268.9,262.1 267.3,262.6 265.6,263.1 264.0,263.7 262.4,264.2 260.7,264.8 259.1,265.4 257.5,266.0 255.8,266.6 254.2,267.3 252.6,268.0 250.9,268.7 249.3,269.4 247.7,270.1 246.0,270.7 244.4,271.3 242.8,271.9 241.1,272.6 239.5,273.2 237.9,274.0 236.2,274.8 234.6,275.7 233.0,276.7 231.3,277.9 229.7,279.1 228.1,280.4 226.4,281.8 224.8,283.3 223.2,284.6 221.5,285.8 219.9,286.7 218.3,287.4 216.6,287.9 215.0,288.2 213.4,288.4 211.7,288.6 210.1,288.7 208.5,288.8 206.9,288.8 205.2,288.7 203.6,288.7 202.0,288.6 200.3,288.5 198.7,288.3 197.1,288.2 195.4,288.1 193.8,288.1 192.2,288.0 190.5,288.0 188.9,287.9 187.3,287.9 185.6,287.8 184.0,287.8 182.4,287.8 180.7,287.7 179.1,287.7 177.5,287.6 175.8,287.6 174.2,287.6 172.6,287.5 170.9,287.5 169.3,287.5 167.7,287.4 166.0,287.4 164.4,287.4 162.8,287.3 161.1,287.3 159.5,287.2 157.9,287.2 156.2,287.1 154.6,287.1 153.0,287.0 151.3,287.0 149.7,286.9 148.1,286.9 146.4,286.8 144.8,286.8 143.2,286.7 141.5,286.7 139.9,286.6 138.3,286.6 136.6,286.5 135.0,286.5 133.4,286.4 131.7,286.3 130.1,286.3 128.5,286.2 126.8,286.2 125.2,286.1 123.6,286.1 121.9,286.1 120.3,286.0 119.0,286.0 118.0,286.0 116.9,286.0 115.9,286.0 114.8,286.0 113.8,286.1 112.8,286.2 111.7,286.2 110.7,286.4 109.6,286.5 108.6,286.7 107.6,286.8 106.5,287.2 105.5,287.9 104.4,288.8 103.4,289.8"/>
<path d="M103.4,289.6 104.4,284.5 105.5,280.1 106.5,277.4 107.6,275.7 108.6,274.4 109.6,273.3 110.7,272.3 111.7,271.4 112.8,270.6 113.8,269.8 114.8,269.2 115.9,268.6 116.9,268.0 118.0,267.5 119.0,267.0 120.3,266.5 121.9,265.8 123.6,265.2 125.2,264.7 126.8,264.1 128.5,263.6 130.1,263.1 131.7,262.7 133.4,262.2 135.0,261.8 136.6,261.4 138.3,261.0 139.9,260.7 141.5,260.3 143.2,259.8 144.8,259.4 146.4,259.0 148.1,258.6 149.7,258.2 151.3,257.7 153.0,257.3 154.6,256.9 156.2,256.5 157.9,256.0 159.5,255.6 161.1,255.2 162.8,254.8 164.4,254.4 166.0,254.0 167.7,253.6 169.3,253.2 170.9,252.8 172.6,252.4 174.2,252.0 175.8,251.7 177.5,251.3 179.1,251.0 180.7,250.6 182.4,250.2 184.0,249.9 185.6,249.5 187.3,249.1 188.9,248.7 190.5,248.3 192.2,247.9 193.8,247.5 195.4,247.1 197.1,246.7 198.7,246.3 200.3,245.8 202.0,245.2 203.6,244.6 205.2,243.2 206.9,242.8 208.5,243.0 210.1,243.1 211.7,243.0 213.4,242.6 215.0,242.1 216.6,241.5 218.3,240.9 219.9,240.4 221.5,239.9 223.2,239.6 224.8,239.2 226.4,238.9 228.1,238.5 229.7,238.2 231.3,237.8 233.0,237.4 234.6,237.1 236.2,236.7 237.9,236.4 239.5,236.0 241.1,235.7 242.8,235.5 244.4,235.2 246.0,234.9 247.7,234.6 249.3,234.2 250.9,233.7 252.6,233.1 254.2,232.4 255.8,231.5 257.5,230.4 259.1,229.1 260.7,227.3 262.4,224.9 264.0,222.2 265.6,219.5 267.3,216.3 268.9,213.4 270.5,210.9 272.2,208.8 273.8,206.9 275.4,205.1 277.1,204.4 278.7,205.6 280.3,207.1 282.0,208.0 283.6,208.0 285.2,207.9 286.9,207.7 288.5,207.3 290.1,206.2 291.8,204.5 293.4,202.4 295.0,200.0 296.7,197.6 298.3,195.4 299.9,193.2 301.6,190.8 303.2,188.4 304.8,186.4 306.5,184.7 308.1,183.0 309.7,181.6 311.4,180.4 313.0,179.7 314.6,179.4 316.2,179.3 317.9,179.5 319.5,179.5 321.1,179.4 322.8,179.2 324.4,178.8 326.0,178.3 327.7,177.5 329.3,176.6 330.9,175.6 332.6,174.3 334.2,172.6 335.8,170.1 337.5,167.2 339.1,164.0 340.7,160.9 342.4,158.7 344.0,157.0 345.6,156.0 347.3,155.5 348.9,155.2 350.5,155.1 352.2,155.2 353.8,155.2 355.4,155.2 357.1,155.1 358.7,154.8 360.3,154.3 362.0,153.2 363.6,151.4 363.6,151.4 362.0,163.2 360.3,171.4 358.7,177.5 357.1,182.5 355.4,186.1 353.8,189.6 352.2,192.8 350.5,195.9 348.9,198.9 347.3,201.9 345.6,204.6 344.0,207.1 342.4,209.4 340.7,211.5 339.1,213.5 337.5,215.4 335.8,217.1 334.2,218.8 332.6,220.4 330.9,221.9 329.3,223.3 327.7,224.6 326.0,226.0 324.4,227.2 322.8,228.5 321.1,229.8 319.5,231.0 317.9,232.3 316.2,233.5 314.6,234.7 313.0,235.9 311.4,237.0 309.7,238.2 308.1,239.3 306.5,240.4 304.8,241.5 303.2,242.6 301.6,243.6 299.9,244.6 298.3,245.6 296.7,246.7 295.0,247.7 293.4,248.7 291.8,249.7 290.1,250.8 288.5,251.8 286.9,252.8 285.2,253.9 283.6,254.9 282.0,255.8 280.3,256.7 278.7,257.6 277.1,258.5 275.4,259.4 273.8,260.1 272.2,260.8 270.5,261.5 268.9,262.0 267.3,262.6 265.6,263.1 264.0,263.6 262.4,264.1 260.7,264.7 259.1,265.3 257.5,265.9 255.8,266.5 254.2,267.2 252.6,267.9 250.9,268.6 249.3,269.3 247.7,269.9 246.0,270.6 244.4,271.2 242.8,271.8 241.1,272.4 239.5,273.1 237.9,273.9 236.2,274.7 234.6,275.6 233.0,276.6 231.3,277.7 229.7,278.9 228.1,280.2 226.4,281.6 224.8,283.0 223.2,284.3 221.5,285.5 219.9,286.4 218.3,287.1 216.6,287.6 215.0,288.0 213.4,288.2 211.7,288.4 210.1,288.5 208.5,288.6 206.9,288.6 205.2,288.5 203.6,288.5 202.0,288.4 200.3,288.3 198.7,288.2 197.1,288.1 195.4,288.0 193.8,287.9 192.2,287.9 190.5,287.8 188.9,287.8 187.3,287.8 185.6,287.7 184.0,287.7 182.4,287.6 180.7,287.6 179.1,287.6 177.5,287.5 175.8,287.5 174.2,287.4 172.6,287.4 170.9,287.4 169.3,287.3 167.7,287.3 166.0,287.3 164.4,287.2 162.8,287.2 161.1,287.2 159.5,287.1 157.9,287.1 156.2,287.0 154.6,287.0 153.0,286.9 151.3,286.8 149.7,286.8 148.1,286.7 146.4,286.7 144.8,286.6 143.2,286.6 141.5,286.5 139.9,286.5 138.3,286.4 136.6,286.4 135.0,286.3 133.4,286.3 131.7,286.2 130.1,286.1 128.5,286.1 126.8,286.0 125.2,286.0 123.6,285.9 121.9,285.9 120.3,285.9 119.0,285.9 118.0,285.9 116.9,285.9 115.9,285.9 114.8,285.9 113.8,285.9 112.8,286.0 111.7,286.1 110.7,286.2 109.6,286.4 108.6,286.5 107.6,286.7 106.5,287.0 105.5,287.8 104.4,288.8 103.4,289.8"/>
<path d="M103.4,289.6 104.4,284.6 105.5,280.1 106.5,277.5 107.6,275.8 108.6,274.5 109.6,273.4 110.7,272.4 111.7,271.5 112.8,270.7 113.8,269.9 114.8,269.2 115.9,268.6 116.9,268.1 118.0,267.6 119.0,267.1 120.3,266.6 121.9,265.9 123.6,265.3 125.2,264.8 126.8,264.2 128.5,263.7 130.1,263.2 131.7,262.8 133.4,262.4 135.0,262.0 136.6,261.6 138.3,261.2 139.9,260.8 141.5,260.4 143.2,260.0 144.8,259.6 146.4,259.2 148.1,258.7 149.7,258.3 151.3,257.9 153.0,257.5 154.6,257.0 156.2,256.6 157.9,256.2 159.5,255.8 161.1,255.3 162.8,254.9 164.4,254.5 166.0,254.1 167.7,253.7 169.3,253.3 170.9,252.9 172.6,252.5 174.2,252.2 175.8,251.8 177.5,251.5 179.1,251.1 180.7,250.7 182.4,250.4 184.0,250.0 185.6,249.6 187.3,249.3 188.9,248.9 190.5,248.5 192.2,248.1 193.8,247.6 195.4,247.2 197.1,246.8 198.7,246.4 200.3,245.9 202.0,245.3 203.6,244.7 205.2,243.3 206.9,242.9 208.5,243.1 210.1,243.2 211.7,243.1 213.4,242.7 215.0,242.2 216.6,241.6 218.3,241.0 219.9,240.5 221.5,240.0 223.2,239.7 224.8,239.3 226.4,239.0 228.1,238.6 229.7,238.3 231.3,237.9 233.0,237.5 234.6,237.2 236.2,236.8 237.9,236.5 239.5,236.1 241.1,235.8 242.8,235.6 244.4,235.3 246.0,235.0 247.7,234.7 249.3,234.3 250.9,233.8 252.6,233.2 254.2,232.5 255.8,231.6 257.5,230.5 259.1,229.2 260.7,227.4 262.4,225.0 264.0,222.4 265.6,219.6 267.3,216.5 268.9,213.5 270.5,211.0 272.2,208.9 273.8,207.0 275.4,205.2 277.1,204.5 278.7,205.6 280.3,207.1 282.0,208.0 283.6,208.0 285.2,207.9 286.9,207.8 288.5,207.4 290.1,206.3 291.8,204.5 293.4,202.4 295.0,200.1 296.7,197.7 298.3,195.5 299.9,193.3 301.6,190.9 303.2,188.6 304.8,186.6 306.5,184.9 308.1,183.3 309.7,181.8 311.4,180.7 313.0,180.0 314.6,179.7 316.2,179.6 317.9,179.7 319.5,179.7 321.1,179.5 322.8,179.3 324.4,178.9 326.0,178.4 327.7,177.6 329.3,176.7 330.9,175.7 332.6,174.4 334.2,172.7 335.8,170.2 337.5,167.3 339.1,164.1 340.7,161.0 342.4,158.8 344.0,157.1 345.6,156.1 347.3,155.6 348.9,155.3 350.5,155.2 352.2,155.2 353.8,155.2 355.4,155.2 357.1,155.1 358.7,154.9 360.3,154.4 362.0,153.3 363.6,151.5 363.6,151.5 362.0,163.4 360.3,171.7 358.7,178.0 357.1,182.9 355.4,186.7 353.8,190.1 352.2,193.2 350.5,196.3 348.9,199.4 347.3,202.3 345.6,205.0 344.0,207.5 342.4,209.8 340.7,211.9 339.1,213.8 337.5,215.7 335.8,217.5 334.2,219.1 332.6,220.7 330.9,222.2 329.3,223.6 327.7,224.9 326.0,226.2 324.4,227.5 322.8,228.8 321.1,230.0 319.5,231.3 317.9,232.5 316.2,233.7 314.6,234.9 313.0,236.1 311.4,237.3 309.7,238.4 308.1,239.5 306.5,240.6 304.8,241.7 303.2,242.7 301.6,243.8 299.9,244.8 298.3,245.8 296.7,246.8 295.0,247.8 293.4,248.8 291.8,249.8 290.1,250.9 288.5,251.9 286.9,252.9 285.2,253.9 283.6,254.9 282.0,255.9 280.3,256.8 278.7,257.7 277.1,258.6 275.4,259.4 273.8,260.2 272.2,260.8 270.5,261.4 268.9,262.0 267.3,262.5 265.6,263.0 264.0,263.5 262.4,264.0 260.7,264.6 259.1,265.1 257.5,265.8 255.8,266.4 254.2,267.1 252.6,267.7 250.9,268.4 249.3,269.1 247.7,269.8 246.0,270.5 244.4,271.1 242.8,271.7 241.1,272.3 239.5,273.0 237.9,273.8 236.2,274.6 234.6,275.4 233.0,276.4 231.3,277.5 229.7,278.7 228.1,280.0 226.4,281.3 224.8,282.7 223.2,284.1 221.5,285.2 219.9,286.1 218.3,286.9 216.6,287.4 215.0,287.7 213.4,287.9 211.7,288.1 210.1,288.3 208.5,288.4 206.9,288.4 205.2,288.3 203.6,288.3 202.0,288.2 200.3,288.1 198.7,288.0 197.1,287.9 195.4,287.8 193.8,287.8 192.2,287.8 190.5,287.7 188.9,287.7 187.3,287.6 185.6,287.6 184.0,287.6 182.4,287.5 180.7,287.5 179.1,287.4 177.5,287.4 175.8,287.4 174.2,287.3 172.6,287.3 170.9,287.3 169.3,287.2 167.7,287.2 166.0,287.2 164.4,287.1 162.8,287.1 161.1,287.0 159.5,287.0 157.9,286.9 156.2,286.9 154.6,286.8 153.0,286.8 151.3,286.7 149.7,286.7 148.1,286.6 146.4,286.5 144.8,286.5 143.2,286.4 141.5,286.4 139.9,286.3 138.3,286.3 136.6,286.2 135.0,286.2 133.4,286.1 131.7,286.0 130.1,286.0 128.5,285.9 126.8,285.9 125.2,285.8 123.6,285.8 121.9,285.8 120.3,285.7 119.0,285.7 118.0,285.7 116.9,285.7 115.9,285.7 114.8,285.7 113.8,285.8 112.8,285.8 111.7,285.9 110.7,286.1 109.6,286.2 108.6,286.4 107.6,286.6 106.5,286.9 105.5,287.7 104.4,288.7 103.4,289.8"/>
<path d="M103.4,289.6 104.4,284.6 105.5,280.2 106.5,277.5 107.6,275.8 108.6,274.5 109.6,273.5 110.7,272.5 111.7,271.5 112.8,270.7 113.8,270.0 114.8,269.3 115.9,268.7 116.9,268.2 118.0,267.7 119.0,267.2 120.3,266.6 121.9,266.0 123.6,265.4 125.2,264.9 126.8,264.4 128.5,263.9 130.1,263.4 131.7,262.9 133.4,262.5 135.0,262.1 136.6,261.7 138.3,261.3 139.9,260.9 141.5,260.5 143.2,260.1 144.8,259.7 146.4,259.3 148.1,258.9 149.7,258.5 151.3,258.0 153.0,257.6 154.6,257.2 156.2,256.8 157.9,256.3 159.5,255.9 161.1,255.5 162.8,255.1 164.4,254.7 166.0,254.3 167.7,253.9 169.3,253.5 170.9,253.1 172.6,252.7 174.2,252.3 175.8,252.0 177.5,251.6 179.1,251.2 180.7,250.9 182.4,250.5 184.0,250.1 185.6,249.8 187.3,249.4 188.9,249.0 190.5,248.6 192.2,248.2 193.8,247.8 195.4,247.3 197.1,246.9 198.7,246.5 200.3,246.0 202.0,245.5 203.6,244.8 205.2,243.4 206.9,243.0 208.5,243.2 210.1,243.3 211.7,243.2 213.4,242.8 215.0,242.3 216.6,241.7 218.3,241.1 219.9,240.6 221.5,240.2 223.2,239.8 224.8,239.4 226.4,239.1 228.1,238.7 229.7,238.4 231.3,238.0 233.0,237.6 234.6,237.3 236.2,236.9 237.9,236.6 239.5,236.2 241.1,235.9 242.8,235.7 244.4,235.4 246.0,235.1 247.7,234.7 249.3,234.3 250.9,233.8 252.6,233.3 254.2,232.6 255.8,231.7 257.5,230.6 259.1,229.4 260.7,227.6 262.4,225.2 264.0,222.6 265.6,219.8 267.3,216.6 268.9,213.6 270.5,211.1 272.2,209.0 273.8,207.0 275.4,205.2 277.1,204.5 278.7,205.6 280.3,207.1 282.0,208.1 283.6,208.1 285.2,208.0 286.9,207.8 288.5,207.4 290.1,206.3 291.8,204.6 293.4,202.5 295.0,200.2 296.7,197.8 298.3,195.6 299.9,193.4 301.6,191.1 303.2,188.7 304.8,186.7 306.5,185.1 308.1,183.5 309.7,182.1 311.4,181.0 313.0,180.3 314.6,179.9 316.2,179.8 317.9,179.8 319.5,179.8 321.1,179.7 322.8,179.4 324.4,179.1 326.0,178.5 327.7,177.8 329.3,176.9 330.9,175.8 332.6,174.5 334.2,172.8 335.8,170.3 337.5,167.4 339.1,164.2 340.7,161.0 342.4,158.8 344.0,157.1 345.6,156.2 347.3,155.7 348.9,155.4 350.5,155.3 352.2,155.3 353.8,155.3 355.4,155.3 357.1,155.2 358.7,154.9 360.3,154.5 362.0,153.4 363.6,151.5 363.6,151.5 362.0,163.6 360.3,172.0 358.7,178.3 357.1,183.4 355.4,187.1 353.8,190.6 352.2,193.6 350.5,196.7 348.9,199.7 347.3,202.6 345.6,205.4 344.0,207.8 342.4,210.1 340.7,212.2 339.1,214.1 337.5,216.0 335.8,217.7 334.2,219.4 332.6,220.9 330.9,222.4 329.3,223.8 327.7,225.2 326.0,226.5 324.4,227.8 322.8,229.0 321.1,230.3 319.5,231.5 317.9,232.7 316.2,233.9 314.6,235.1 313.0,236.3 311.4,237.4 309.7,238.6 308.1,239.7 306.5,240.8 304.8,241.8 303.2,242.9 301.6,243.9 299.9,244.9 298.3,245.9 296.7,246.9 295.0,247.9 293.4,248.9 291.8,249.9 290.1,251.0 288.5,252.0 286.9,253.0 285.2,254.0 283.6,255.0 282.0,255.9 280.3,256.8 278.7,257.7 277.1,258.6 275.4,259.4 273.8,260.2 272.2,260.8 270.5,261.4 268.9,262.0 267.3,262.5 265.6,263.0 264.0,263.4 262.4,263.9 260.7,264.5 259.1,265.0 257.5,265.6 255.8,266.3 254.2,266.9 252.6,267.6 250.9,268.3 249.3,269.0 247.7,269.7 246.0,270.3 244.4,271.0 242.8,271.6 241.1,272.2 239.5,272.9 237.9,273.6 236.2,274.4 234.6,275.3 233.0,276.3 231.3,277.4 229.7,278.6 228.1,279.8 226.4,281.1 224.8,282.5 223.2,283.8 221.5,284.9 219.9,285.9 218.3,286.6 216.6,287.1 215.0,287.4 213.4,287.7 211.7,287.9 210.1,288.0 208.5,288.1 206.9,288.2 205.2,288.1 203.6,288.1 202.0,288.0 200.3,288.0 198.7,287.9 197.1,287.8 195.4,287.7 193.8,287.7 192.2,287.6 190.5,287.6 188.9,287.6 187.3,287.5 185.6,287.5 184.0,287.4 182.4,287.4 180.7,287.4 179.1,287.3 177.5,287.3 175.8,287.3 174.2,287.2 172.6,287.2 170.9,287.2 169.3,287.1 167.7,287.1 166.0,287.1 164.4,287.0 162.8,287.0 161.1,286.9 159.5,286.9 157.9,286.8 156.2,286.8 154.6,286.7 153.0,286.6 151.3,286.6 149.7,286.5 148.1,286.5 146.4,286.4 144.8,286.4 143.2,286.3 141.5,286.3 139.9,286.2 138.3,286.1 136.6,286.1 135.0,286.0 133.4,286.0 131.7,285.9 130.1,285.8 128.5,285.8 126.8,285.7 125.2,285.7 123.6,285.6 121.9,285.6 120.3,285.6 119.0,285.5 118.0,285.5 116.9,285.5 115.9,285.5 114.8,285.6 113.8,285.6 112.8,285.7 111.7,285.8 110.7,285.9 109.6,286.1 108.6,286.2 107.6,286.4 106.5,286.8 105.5,287.6 104.4,288.6 103.4,289.8"/>
<path d="M103.4,289.6 104.4,284.6 105.5,280.2 106.5,277.6 107.6,275.9 108.6,274.6 109.6,273.5 110.7,272.5 111.7,271.6 112.8,270.8 113.8,270.0 114.8,269.4 115.9,268.8 116.9,268.2 118.0,267.7 119.0,267.3 120.3,266.7 121.9,266.1 123.6,265.5 125.2,265.0 126.8,264.5 128.5,264.0 130.1,263.5 131.7,263.0 133.4,262.6 135.0,262.2 136.6,261.8 138.3,261.5 139.9,261.1 141.5,260.7 143.2,260.3 144.8,259.9 146.4,259.4 148.1,259.0 149.7,258.6 151.3,258.2 153.0,257.8 154.6,257.3 156.2,256.9 157.9,256.5 159.5,256.1 161.1,255.6 162.8,255.2 164.4,254.8 166.0,254.4 167.7,254.0 169.3,253.6 170.9,253.2 172.6,252.8 174.2,252.5 175.8,252.1 177.5,251.7 179.1,251.4 180.7,251.0 182.4,250.6 184.0,250.3 185.6,249.9 187.3,249.5 188.9,249.1 190.5,248.7 192.2,248.3 193.8,247.9 195.4,247.4 197.1,247.0 198.7,246.6 200.3,246.1 202.0,245.6 203.6,244.9 205.2,243.5 206.9,243.1 208.5,243.3 210.1,243.4 211.7,243.3 213.4,242.9 215.0,242.4 216.6,241.8 218.3,241.2 219.9,240.7 221.5,240.3 223.2,239.9 224.8,239.5 226.4,239.2 228.1,238.8 229.7,238.5 231.3,238.1 233.0,237.7 234.6,237.4 236.2,237.0 237.9,236.7 239.5,236.4 241.1,236.0 242.8,235.7 244.4,235.5 246.0,235.1 247.7,234.8 249.3,234.4 250.9,233.9 252.6,233.3 254.2,232.6 255.8,231.8 257.5,230.7 259.1,229.5 260.7,227.7 262.4,225.3 264.0,222.7 265.6,219.9 267.3,216.7 268.9,213.7 270.5,211.2 272.2,209.0 273.8,207.1 275.4,205.2 277.1,204.5 278.7,205.7 280.3,207.2 282.0,208.1 283.6,208.1 285.2,208.0 286.9,207.9 288.5,207.5 290.1,206.4 291.8,204.7 293.4,202.6 295.0,200.2 296.7,197.9 298.3,195.7 299.9,193.5 301.6,191.2 303.2,188.9 304.8,186.9 306.5,185.2 308.1,183.7 309.7,182.3 311.4,181.2 313.0,180.5 314.6,180.1 316.2,180.0 317.9,180.0 319.5,179.9 321.1,179.8 322.8,179.5 324.4,179.2 326.0,178.6 327.7,177.9 329.3,177.0 330.9,175.9 332.6,174.6 334.2,172.9 335.8,170.3 337.5,167.4 339.1,164.3 340.7,161.1 342.4,158.9 344.0,157.2 345.6,156.3 347.3,155.8 348.9,155.4 350.5,155.3 352.2,155.3 353.8,155.3 355.4,155.3 357.1,155.2 358.7,155.0 360.3,154.5 362.0,153.5 363.6,151.6 363.6,151.6 362.0,163.8 360.3,172.2 358.7,178.6 357.1,183.7 355.4,187.5 353.8,190.9 352.2,194.0 350.5,197.1 348.9,200.1 347.3,202.9 345.6,205.6 344.0,208.1 342.4,210.3 340.7,212.4 339.1,214.4 337.5,216.2 335.8,218.0 334.2,219.6 332.6,221.2 330.9,222.6 329.3,224.1 327.7,225.4 326.0,226.7 324.4,228.0 322.8,229.2 321.1,230.4 319.5,231.7 317.9,232.9 316.2,234.1 314.6,235.3 313.0,236.4 311.4,237.6 309.7,238.7 308.1,239.8 306.5,240.9 304.8,242.0 303.2,243.0 301.6,244.0 299.9,245.0 298.3,246.0 296.7,247.0 295.0,248.0 293.4,249.0 291.8,250.0 290.1,251.0 288.5,252.1 286.9,253.1 285.2,254.1 283.6,255.0 282.0,256.0 280.3,256.9 278.7,257.7 277.1,258.6 275.4,259.4 273.8,260.1 272.2,260.8 270.5,261.4 268.9,261.9 267.3,262.4 265.6,262.9 264.0,263.4 262.4,263.8 260.7,264.3 259.1,264.9 257.5,265.5 255.8,266.1 254.2,266.8 252.6,267.5 250.9,268.2 249.3,268.9 247.7,269.5 246.0,270.2 244.4,270.8 242.8,271.5 241.1,272.1 239.5,272.8 237.9,273.5 236.2,274.3 234.6,275.2 233.0,276.2 231.3,277.2 229.7,278.4 228.1,279.6 226.4,280.9 224.8,282.2 223.2,283.5 221.5,284.7 219.9,285.6 218.3,286.3 216.6,286.8 215.0,287.2 213.4,287.4 211.7,287.7 210.1,287.8 208.5,287.9 206.9,287.9 205.2,287.9 203.6,287.9 202.0,287.9 200.3,287.8 198.7,287.7 197.1,287.6 195.4,287.6 193.8,287.5 192.2,287.5 190.5,287.5 188.9,287.4 187.3,287.4 185.6,287.4 184.0,287.3 182.4,287.3 180.7,287.3 179.1,287.2 177.5,287.2 175.8,287.1 174.2,287.1 172.6,287.1 170.9,287.0 169.3,287.0 167.7,287.0 166.0,286.9 164.4,286.9 162.8,286.9 161.1,286.8 159.5,286.8 157.9,286.7 156.2,286.6 154.6,286.6 153.0,286.5 151.3,286.5 149.7,286.4 148.1,286.3 146.4,286.3 144.8,286.2 143.2,286.2 141.5,286.1 139.9,286.1 138.3,286.0 136.6,285.9 135.0,285.9 133.4,285.8 131.7,285.7 130.1,285.7 128.5,285.6 126.8,285.6 125.2,285.5 123.6,285.5 121.9,285.4 120.3,285.4 119.0,285.4 118.0,285.4 116.9,285.4 115.9,285.4 114.8,285.4 113.8,285.5 112.8,285.5 111.7,285.6 110.7,285.8 109.6,285.9 108.6,286.1 107.6,286.3 106.5,286.6 105.5,287.5 104.4,288.6 103.4,289.7"/>
<path d="M103.4,289.6 104.4,284.6 105.5,280.3 106.5,277.6 107.6,275.9 108.6,274.7 109.6,273.6 110.7,272.6 111.7,271.7 112.8,270.8 113.8,270.1 114.8,269.4 115.9,268.8 116.9,268.3 118.0,267.8 119.0,267.3 120.3,266.8 121.9,266.2 123.6,265.6 125.2,265.1 126.8,264.6 128.5,264.1 130.1,263.6 131.7,263.2 133.4,262.7 135.0,262.3 136.6,262.0 138.3,261.6 139.9,261.2 141.5,260.8 143.2,260.4 144.8,260.0 146.4,259.6 148.1,259.2 149.7,258.7 151.3,258.3 153.0,257.9 154.6,257.5 156.2,257.1 157.9,256.6 159.5,256.2 161.1,255.8 162.8,255.4 164.4,255.0 166.0,254.6 167.7,254.2 169.3,253.8 170.9,253.4 172.6,253.0 174.2,252.6 175.8,252.2 177.5,251.9 179.1,251.5 180.7,251.2 182.4,250.8 184.0,250.4 185.6,250.0 187.3,249.7 188.9,249.3 190.5,248.9 192.2,248.4 193.8,248.0 195.4,247.6 197.1,247.1 198.7,246.7 200.3,246.2 202.0,245.7 203.6,245.0 205.2,243.6 206.9,243.2 208.5,243.4 210.1,243.5 211.7,243.4 213.4,243.0 215.0,242.5 216.6,241.9 218.3,241.3 219.9,240.8 221.5,240.4 223.2,240.0 224.8,239.6 226.4,239.3 228.1,238.9 229.7,238.6 231.3,238.2 233.0,237.9 234.6,237.5 236.2,237.1 237.9,236.8 239.5,236.5 241.1,236.1 242.8,235.8 244.4,235.5 246.0,235.2 247.7,234.8 249.3,234.4 250.9,233.9 252.6,233.4 254.2,232.7 255.8,231.8 257.5,230.8 259.1,229.6 260.7,227.8 262.4,225.4 264.0,222.8 265.6,220.0 267.3,216.8 268.9,213.7 270.5,211.2 272.2,209.1 273.8,207.1 275.4,205.3 277.1,204.5 278.7,205.7 280.3,207.2 282.0,208.1 283.6,208.1 285.2,208.0 286.9,207.9 288.5,207.5 290.1,206.4 291.8,204.7 293.4,202.6 295.0,200.3 296.7,197.9 298.3,195.7 299.9,193.6 301.6,191.3 303.2,189.0 304.8,187.0 306.5,185.4 308.1,183.8 309.7,182.4 311.4,181.4 313.0,180.7 314.6,180.3 316.2,180.1 317.9,180.1 319.5,180.0 321.1,179.9 322.8,179.6 324.4,179.3 326.0,178.7 327.7,178.0 329.3,177.0 330.9,176.0 332.6,174.7 334.2,173.0 335.8,170.4 337.5,167.5 339.1,164.3 340.7,161.1 342.4,158.9 344.0,157.2 345.6,156.3 347.3,155.8 348.9,155.5 350.5,155.3 352.2,155.3 353.8,155.3 355.4,155.3 357.1,155.3 358.7,155.0 360.3,154.6 362.0,153.5 363.6,151.7 363.6,151.7 362.0,163.9 360.3,172.4 358.7,178.9 357.1,184.0 355.4,187.9 353.8,191.2 352.2,194.3 350.5,197.3 348.9,200.3 347.3,203.2 345.6,205.9 344.0,208.4 342.4,210.6 340.7,212.6 339.1,214.6 337.5,216.4 335.8,218.2 334.2,219.8 332.6,221.4 330.9,222.8 329.3,224.2 327.7,225.6 326.0,226.9 324.4,228.1 322.8,229.4 321.1,230.6 319.5,231.8 317.9,233.1 316.2,234.2 314.6,235.4 313.0,236.6 311.4,237.7 309.7,238.8 308.1,239.9 306.5,241.0 304.8,242.1 303.2,243.1 301.6,244.1 299.9,245.1 298.3,246.1 296.7,247.1 295.0,248.1 293.4,249.1 291.8,250.1 290.1,251.1 288.5,252.1 286.9,253.1 285.2,254.1 283.6,255.1 282.0,256.0 280.3,256.9 278.7,257.8 277.1,258.6 275.4,259.4 273.8,260.1 272.2,260.8 270.5,261.3 268.9,261.9 267.3,262.3 265.6,262.8 264.0,263.3 262.4,263.7 260.7,264.2 259.1,264.8 257.5,265.4 255.8,266.0 254.2,266.7 252.6,267.3 250.9,268.0 249.3,268.7 247.7,269.4 246.0,270.1 244.4,270.7 242.8,271.4 241.1,272.0 239.5,272.7 237.9,273.4 236.2,274.2 234.6,275.1 233.0,276.0 231.3,277.1 229.7,278.2 228.1,279.5 226.4,280.7 224.8,282.0 223.2,283.3 221.5,284.4 219.9,285.3 218.3,286.0 216.6,286.5 215.0,286.9 213.4,287.2 211.7,287.4 210.1,287.6 208.5,287.7 206.9,287.7 205.2,287.7 203.6,287.7 202.0,287.7 200.3,287.6 198.7,287.5 197.1,287.5 195.4,287.4 193.8,287.4 192.2,287.4 190.5,287.3 188.9,287.3 187.3,287.3 185.6,287.2 184.0,287.2 182.4,287.2 180.7,287.1 179.1,287.1 177.5,287.1 175.8,287.0 174.2,287.0 172.6,287.0 170.9,286.9 169.3,286.9 167.7,286.9 166.0,286.8 164.4,286.8 162.8,286.7 161.1,286.7 159.5,286.6 157.9,286.6 156.2,286.5 154.6,286.5 153.0,286.4 151.3,286.3 149.7,286.3 148.1,286.2 146.4,286.1 144.8,286.1 143.2,286.0 141.5,286.0 139.9,285.9 138.3,285.9 136.6,285.8 135.0,285.7 133.4,285.7 131.7,285.6 130.1,285.5 128.5,285.5 126.8,285.4 125.2,285.4 123.6,285.3 121.9,285.3 120.3,285.2 119.0,285.2 118.0,285.2 116.9,285.2 115.9,285.2 114.8,285.2 113.8,285.3 112.8,285.4 111.7,285.5 110.7,285.6 109.6,285.8 108.6,285.9 107.6,286.1 106.5,286.5 105.5,287.4 104.4,288.5 103.4,289.7"/>
<path d="M103.4,289.6 104.4,284.7 105.5,280.3 106.5,277.7 107.6,276.0 108.6,274.7 109.6,273.6 110.7,272.6 111.7,271.7 112.8,270.9 113.8,270.2 114.8,269.5 115.9,268.9 116.9,268.4 118.0,267.9 119.0,267.4 120.3,266.9 121.9,266.3 123.6,265.7 125.2,265.2 126.8,264.7 128.5,264.2 130.1,263.7 131.7,263.3 133.4,262.9 135.0,262.5 136.6,262.1 138.3,261.7 139.9,261.3 141.5,261.0 143.2,260.5 144.8,260.1 146.4,259.7 148.1,259.3 149.7,258.9 151.3,258.5 153.0,258.1 154.6,257.6 156.2,257.2 157.9,256.8 159.5,256.4 161.1,256.0 162.8,255.5 164.4,255.1 166.0,254.7 167.7,254.3 169.3,253.9 170.9,253.5 172.6,253.1 174.2,252.8 175.8,252.4 177.5,252.0 179.1,251.7 180.7,251.3 182.4,250.9 184.0,250.6 185.6,250.2 187.3,249.8 188.9,249.4 190.5,249.0 192.2,248.6 193.8,248.1 195.4,247.7 197.1,247.3 198.7,246.8 200.3,246.4 202.0,245.8 203.6,245.1 205.2,243.7 206.9,243.3 208.5,243.5 210.1,243.7 211.7,243.5 213.4,243.1 215.0,242.6 216.6,242.0 218.3,241.4 219.9,240.9 221.5,240.5 223.2,240.1 224.8,239.7 226.4,239.4 228.1,239.1 229.7,238.7 231.3,238.3 233.0,238.0 234.6,237.6 236.2,237.2 237.9,236.9 239.5,236.6 241.1,236.2 242.8,235.9 244.4,235.6 246.0,235.3 247.7,234.9 249.3,234.5 250.9,234.0 252.6,233.4 254.2,232.7 255.8,231.9 257.5,230.9 259.1,229.7 260.7,227.9 262.4,225.5 264.0,222.9 265.6,220.1 267.3,216.9 268.9,213.8 270.5,211.3 272.2,209.1 273.8,207.2 275.4,205.3 277.1,204.5 278.7,205.7 280.3,207.2 282.0,208.2 283.6,208.2 285.2,208.1 286.9,207.9 288.5,207.5 290.1,206.4 291.8,204.7 293.4,202.7 295.0,200.3 296.7,198.0 298.3,195.8 299.9,193.7 301.6,191.3 303.2,189.1 304.8,187.1 306.5,185.5 308.1,183.9 309.7,182.6 311.4,181.6 313.0,180.9 314.6,180.5 316.2,180.3 317.9,180.2 319.5,180.1 321.1,179.9 322.8,179.7 324.4,179.4 326.0,178.8 327.7,178.0 329.3,177.1 330.9,176.0 332.6,174.7 334.2,173.0 335.8,170.4 337.5,167.5 339.1,164.3 340.7,161.2 342.4,159.0 344.0,157.3 345.6,156.3 347.3,155.8 348.9,155.5 350.5,155.4 352.2,155.4 353.8,155.4 355.4,155.4 357.1,155.3 358.7,155.0 360.3,154.6 362.0,153.5 363.6,151.7 363.6,151.7 362.0,164.0 360.3,172.6 358.7,179.1 357.1,184.3 355.4,188.2 353.8,191.5 352.2,194.6 350.5,197.6 348.9,200.6 347.3,203.4 345.6,206.1 344.0,208.6 342.4,210.8 340.7,212.8 339.1,214.8 337.5,216.6 335.8,218.4 334.2,220.0 332.6,221.5 330.9,223.0 329.3,224.4 327.7,225.7 326.0,227.0 324.4,228.3 322.8,229.5 321.1,230.8 319.5,232.0 317.9,233.2 316.2,234.4 314.6,235.5 313.0,236.7 311.4,237.8 309.7,239.0 308.1,240.0 306.5,241.1 304.8,242.2 303.2,243.2 301.6,244.2 299.9,245.2 298.3,246.2 296.7,247.2 295.0,248.2 293.4,249.2 291.8,250.2 290.1,251.2 288.5,252.2 286.9,253.2 285.2,254.2 283.6,255.1 282.0,256.0 280.3,256.9 278.7,257.8 277.1,258.6 275.4,259.4 273.8,260.1 272.2,260.7 270.5,261.3 268.9,261.8 267.3,262.3 265.6,262.7 264.0,263.2 262.4,263.6 260.7,264.1 259.1,264.7 257.5,265.2 255.8,265.9 254.2,266.5 252.6,267.2 250.9,267.9 249.3,268.6 247.7,269.3 246.0,270.0 244.4,270.6 242.8,271.2 241.1,271.9 239.5,272.6 237.9,273.3 236.2,274.1 234.6,275.0 233.0,275.9 231.3,277.0 229.7,278.1 228.1,279.3 226.4,280.5 224.8,281.8 223.2,283.0 221.5,284.1 219.9,285.0 218.3,285.8 216.6,286.3 215.0,286.6 213.4,286.9 211.7,287.2 210.1,287.4 208.5,287.5 206.9,287.5 205.2,287.5 203.6,287.5 202.0,287.5 200.3,287.5 198.7,287.4 197.1,287.3 195.4,287.3 193.8,287.3 192.2,287.2 190.5,287.2 188.9,287.2 187.3,287.2 185.6,287.1 184.0,287.1 182.4,287.1 180.7,287.0 179.1,287.0 177.5,287.0 175.8,286.9 174.2,286.9 172.6,286.9 170.9,286.8 169.3,286.8 167.7,286.8 166.0,286.7 164.4,286.7 162.8,286.6 161.1,286.6 159.5,286.5 157.9,286.5 156.2,286.4 154.6,286.3 153.0,286.3 151.3,286.2 149.7,286.1 148.1,286.1 146.4,286.0 144.8,285.9 143.2,285.9 141.5,285.8 139.9,285.8 138.3,285.7 136.6,285.6 135.0,285.6 133.4,285.5 131.7,285.4 130.1,285.4 128.5,285.3 126.8,285.3 125.2,285.2 123.6,285.2 121.9,285.1 120.3,285.1 119.0,285.1 118.0,285.1 116.9,285.1 115.9,285.1 114.8,285.1 113.8,285.1 112.8,285.2 111.7,285.3 110.7,285.5 109.6,285.6 108.6,285.8 107.6,286.0 106.5,286.4 105.5,287.3 104.4,288.4 103.4,289.7"/>
<path d="M103.4,289.6 104.4,284.7 105.5,280.4 106.5,277.7 107.6,276.1 108.6,274.8 109.6,273.7 110.7,272.7 111.7,271.8 112.8,271.0 113.8,270.2 114.8,269.5 115.9,269.0 116.9,268.4 118.0,268.0 119.0,267.5 120.3,267.0 121.9,266.4 123.6,265.8 125.2,265.3 126.8,264.8 128.5,264.3 130.1,263.9 131.7,263.4 133.4,263.0 135.0,262.6 136.6,262.2 138.3,261.9 139.9,261.5 141.5,261.1 143.2,260.7 144.8,260.3 146.4,259.9 148.1,259.5 149.7,259.0 151.3,258.6 153.0,258.2 154.6,257.8 156.2,257.4 157.9,256.9 159.5,256.5 161.1,256.1 162.8,255.7 164.4,255.3 166.0,254.9 167.7,254.5 169.3,254.1 170.9,253.7 172.6,253.3 174.2,252.9 175.8,252.5 177.5,252.2 179.1,251.8 180.7,251.4 182.4,251.1 184.0,250.7 185.6,250.3 187.3,249.9 188.9,249.5 190.5,249.1 192.2,248.7 193.8,248.2 195.4,247.8 197.1,247.4 198.7,246.9 200.3,246.5 202.0,245.9 203.6,245.2 205.2,243.9 206.9,243.4 208.5,243.6 210.1,243.8 211.7,243.6 213.4,243.2 215.0,242.7 216.6,242.1 218.3,241.5 219.9,241.0 221.5,240.6 223.2,240.2 224.8,239.9 226.4,239.5 228.1,239.2 229.7,238.8 231.3,238.4 233.0,238.1 234.6,237.7 236.2,237.3 237.9,237.0 239.5,236.7 241.1,236.3 242.8,236.0 244.4,235.7 246.0,235.3 247.7,235.0 249.3,234.5 250.9,234.0 252.6,233.5 254.2,232.8 255.8,232.0 257.5,231.0 259.1,229.8 260.7,228.0 262.4,225.6 264.0,223.0 265.6,220.2 267.3,217.0 268.9,213.9 270.5,211.4 272.2,209.2 273.8,207.2 275.4,205.3 277.1,204.6 278.7,205.7 280.3,207.2 282.0,208.2 283.6,208.2 285.2,208.1 286.9,207.9 288.5,207.6 290.1,206.5 291.8,204.8 293.4,202.7 295.0,200.4 296.7,198.0 298.3,195.8 299.9,193.7 301.6,191.4 303.2,189.2 304.8,187.2 306.5,185.6 308.1,184.1 309.7,182.7 311.4,181.7 313.0,181.1 314.6,180.7 316.2,180.4 317.9,180.3 319.5,180.2 321.1,180.0 322.8,179.8 324.4,179.4 326.0,178.9 327.7,178.1 329.3,177.2 330.9,176.1 332.6,174.8 334.2,173.0 335.8,170.5 337.5,167.5 339.1,164.4 340.7,161.2 342.4,159.0 344.0,157.3 345.6,156.4 347.3,155.9 348.9,155.5 350.5,155.4 352.2,155.4 353.8,155.4 355.4,155.4 357.1,155.3 358.7,155.1 360.3,154.6 362.0,153.6 363.6,151.7 363.6,151.7 362.0,164.1 360.3,172.7 358.7,179.3 357.1,184.5 355.4,188.4 353.8,191.7 352.2,194.8 350.5,197.8 348.9,200.8 347.3,203.6 345.6,206.3 344.0,208.7 342.4,210.9 340.7,213.0 339.1,215.0 337.5,216.8 335.8,218.5 334.2,220.1 332.6,221.7 330.9,223.2 329.3,224.6 327.7,225.9 326.0,227.2 324.4,228.4 322.8,229.7 321.1,230.9 319.5,232.1 317.9,233.3 316.2,234.5 314.6,235.7 313.0,236.8 311.4,237.9 309.7,239.0 308.1,240.1 306.5,241.2 304.8,242.3 303.2,243.3 301.6,244.3 299.9,245.3 298.3,246.3 296.7,247.3 295.0,248.2 293.4,249.2 291.8,250.2 290.1,251.2 288.5,252.2 286.9,253.2 285.2,254.2 283.6,255.1 282.0,256.0 280.3,256.9 278.7,257.8 277.1,258.6 275.4,259.4 273.8,260.1 272.2,260.7 270.5,261.2 268.9,261.7 267.3,262.2 265.6,262.6 264.0,263.1 262.4,263.5 260.7,264.0 259.1,264.5 257.5,265.1 255.8,265.7 254.2,266.4 252.6,267.1 250.9,267.8 249.3,268.5 247.7,269.1 246.0,269.8 244.4,270.5 242.8,271.1 241.1,271.8 239.5,272.5 237.9,273.2 236.2,274.0 234.6,274.9 233.0,275.8 231.3,276.8 229.7,277.9 228.1,279.1 226.4,280.3 224.8,281.6 223.2,282.8 221.5,283.9 219.9,284.8 218.3,285.5 216.6,286.0 215.0,286.4 213.4,286.7 211.7,287.0 210.1,287.2 208.5,287.3 206.9,287.3 205.2,287.3 203.6,287.3 202.0,287.3 200.3,287.3 198.7,287.2 197.1,287.2 195.4,287.2 193.8,287.1 192.2,287.1 190.5,287.1 188.9,287.1 187.3,287.0 185.6,287.0 184.0,287.0 182.4,286.9 180.7,286.9 179.1,286.9 177.5,286.8 175.8,286.8 174.2,286.8 172.6,286.7 170.9,286.7 169.3,286.7 167.7,286.6 166.0,286.6 164.4,286.6 162.8,286.5 161.1,286.5 159.5,286.4 157.9,286.3 156.2,286.3 154.6,286.2 153.0,286.1 151.3,286.1 149.7,286.0 148.1,285.9 146.4,285.9 144.8,285.8 143.2,285.7 141.5,285.7 139.9,285.6 138.3,285.6 136.6,285.5 135.0,285.4 133.4,285.4 131.7,285.3 130.1,285.2 128.5,285.2 126.8,285.1 125.2,285.1 123.6,285.0 121.9,285.0 120.3,284.9 119.0,284.9 118.0,284.9 116.9,284.9 115.9,284.9 114.8,284.9 113.8,285.0 112.8,285.1 111.7,285.2 110.7,285.3 109.6,285.5 108.6,285.6 107.6,285.8 106.5,286.3 105.5,287.2 104.4,288.4 103.4,289.7"/>
<path d="M103.4,289.6 104.4,284.7 105.5,280.4 106.5,277.8 107.6,276.1 108.6,274.8 109.6,273.8 110.7,272.8 111.7,271.9 112.8,271.0 113.8,270.3 114.8,269.6 115.9,269.0 116.9,268.5 118.0,268.0 119.0,267.6 120.3,267.1 121.9,266.5 123.6,265.9 125.2,265.4 126.8,264.9 128.5,264.4 130.1,264.0 131.7,263.5 133.4,263.1 135.0,262.7 136.6,262.4 138.3,262.0 139.9,261.6 141.5,261.2 143.2,260.8 144.8,260.4 146.4,260.0 148.1,259.6 149.7,259.2 151.3,258.8 153.0,258.3 154.6,257.9 156.2,257.5 157.9,257.1 159.5,256.7 161.1,256.3 162.8,255.8 164.4,255.4 166.0,255.0 167.7,254.6 169.3,254.2 170.9,253.8 172.6,253.4 174.2,253.1 175.8,252.7 177.5,252.3 179.1,251.9 180.7,251.6 182.4,251.2 184.0,250.8 185.6,250.4 187.3,250.0 188.9,249.6 190.5,249.2 192.2,248.8 193.8,248.4 195.4,247.9 197.1,247.5 198.7,247.1 200.3,246.6 202.0,246.0 203.6,245.3 205.2,244.0 206.9,243.5 208.5,243.7 210.1,243.9 211.7,243.7 213.4,243.4 215.0,242.8 216.6,242.2 218.3,241.6 219.9,241.1 221.5,240.7 223.2,240.3 224.8,240.0 226.4,239.6 228.1,239.3 229.7,238.9 231.3,238.6 233.0,238.2 234.6,237.8 236.2,237.5 237.9,237.1 239.5,236.8 241.1,236.4 242.8,236.1 244.4,235.8 246.0,235.4 247.7,235.0 249.3,234.6 250.9,234.1 252.6,233.5 254.2,232.8 255.8,232.0 257.5,231.0 259.1,229.9 260.7,228.1 262.4,225.7 264.0,223.1 265.6,220.2 267.3,217.0 268.9,213.9 270.5,211.4 272.2,209.2 273.8,207.2 275.4,205.3 277.1,204.6 278.7,205.7 280.3,207.3 282.0,208.2 283.6,208.2 285.2,208.1 286.9,207.9 288.5,207.6 290.1,206.5 291.8,204.8 293.4,202.7 295.0,200.4 296.7,198.1 298.3,195.9 299.9,193.8 301.6,191.5 303.2,189.2 304.8,187.3 306.5,185.7 308.1,184.2 309.7,182.9 311.4,181.9 313.0,181.2 314.6,180.8 316.2,180.5 317.9,180.4 319.5,180.2 321.1,180.1 322.8,179.8 324.4,179.5 326.0,178.9 327.7,178.1 329.3,177.2 330.9,176.1 332.6,174.8 334.2,173.1 335.8,170.5 337.5,167.6 339.1,164.4 340.7,161.2 342.4,159.0 344.0,157.3 345.6,156.4 347.3,155.9 348.9,155.5 350.5,155.4 352.2,155.4 353.8,155.4 355.4,155.4 357.1,155.3 358.7,155.1 360.3,154.7 362.0,153.6 363.6,151.7 363.6,151.7 362.0,164.2 360.3,172.8 358.7,179.5 357.1,184.8 355.4,188.6 353.8,192.0 352.2,195.0 350.5,198.0 348.9,201.0 347.3,203.8 345.6,206.5 344.0,208.9 342.4,211.1 340.7,213.2 339.1,215.1 337.5,216.9 335.8,218.6 334.2,220.3 332.6,221.8 330.9,223.3 329.3,224.7 327.7,226.0 326.0,227.3 324.4,228.5 322.8,229.8 321.1,231.0 319.5,232.2 317.9,233.4 316.2,234.6 314.6,235.7 313.0,236.9 311.4,238.0 309.7,239.1 308.1,240.2 306.5,241.3 304.8,242.3 303.2,243.4 301.6,244.4 299.9,245.4 298.3,246.3 296.7,247.3 295.0,248.3 293.4,249.3 291.8,250.3 290.1,251.3 288.5,252.3 286.9,253.2 285.2,254.2 283.6,255.2 282.0,256.1 280.3,256.9 278.7,257.8 277.1,258.6 275.4,259.3 273.8,260.0 272.2,260.7 270.5,261.2 268.9,261.7 267.3,262.1 265.6,262.5 264.0,263.0 262.4,263.4 260.7,263.9 259.1,264.4 257.5,265.0 255.8,265.6 254.2,266.2 252.6,266.9 250.9,267.6 249.3,268.3 247.7,269.0 246.0,269.7 244.4,270.4 242.8,271.0 241.1,271.7 239.5,272.4 237.9,273.1 236.2,273.9 234.6,274.7 233.0,275.7 231.3,276.7 229.7,277.8 228.1,278.9 226.4,280.1 224.8,281.3 223.2,282.6 221.5,283.6 219.9,284.5 218.3,285.2 216.6,285.8 215.0,286.1 213.4,286.5 211.7,286.7 210.1,286.9 208.5,287.1 206.9,287.1 205.2,287.1 203.6,287.1 202.0,287.1 200.3,287.1 198.7,287.1 197.1,287.0 195.4,287.0 193.8,287.0 192.2,287.0 190.5,287.0 188.9,286.9 187.3,286.9 185.6,286.9 184.0,286.9 182.4,286.8 180.7,286.8 179.1,286.8 177.5,286.7 175.8,286.7 174.2,286.7 172.6,286.6 170.9,286.6 169.3,286.6 167.7,286.5 166.0,286.5 164.4,286.5 162.8,286.4 161.1,286.3 159.5,286.3 157.9,286.2 156.2,286.1 154.6,286.1 153.0,286.0 151.3,285.9 149.7,285.9 148.1,285.8 146.4,285.7 144.8,285.7 143.2,285.6 141.5,285.5 139.9,285.5 138.3,285.4 136.6,285.4 135.0,285.3 133.4,285.2 131.7,285.1 130.1,285.1 128.5,285.0 126.8,285.0 125.2,284.9 123.6,284.8 121.9,284.8 120.3,284.8 119.0,284.8 118.0,284.7 116.9,284.7 115.9,284.7 114.8,284.8 113.8,284.8 112.8,284.9 111.7,285.0 110.7,285.1 109.6,285.3 108.6,285.5 107.6,285.7 106.5,286.1 105.5,287.1 104.4,288.3 103.4,289.7"/>
<path d="M103.4,289.6 104.4,284.7 105.5,280.5 106.5,277.8 107.6,276.2 108.6,274.9 109.6,273.8 110.7,272.8 111.7,271.9 112.8,271.1 113.8,270.3 114.8,269.7 115.9,269.1 116.9,268.6 118.0,268.1 119.0,267.7 120.3,267.1 121.9,266.6 123.6,266.0 125.2,265.5 126.8,265.0 128.5,264.6 130.1,264.1 131.7,263.7 133.4,263.3 135.0,262.9 136.6,262.5 138.3,262.1 139.9,261.8 141.5,261.4 143.2,261.0 144.8,260.6 146.4,260.2 148.1,259.7 149.7,259.3 151.3,258.9 153.0,258.5 154.6,258.1 156.2,257.7 157.9,257.2 159.5,256.8 161.1,256.4 162.8,256.0 164.4,255.6 166.0,255.2 167.7,254.8 169.3,254.4 170.9,254.0 172.6,253.6 174.2,253.2 175.8,252.8 177.5,252.5 179.1,252.1 180.7,251.7 182.4,251.3 184.0,251.0 185.6,250.6 187.3,250.2 188.9,249.8 190.5,249.4 192.2,248.9 193.8,248.5 195.4,248.0 197.1,247.6 198.7,247.2 200.3,246.7 202.0,246.1 203.6,245.4 205.2,244.1 206.9,243.6 208.5,243.8 210.1,244.0 211.7,243.8 213.4,243.5 215.0,242.9 216.6,242.3 218.3,241.7 219.9,241.2 221.5,240.8 223.2,240.4 224.8,240.1 226.4,239.7 228.1,239.4 229.7,239.0 231.3,238.7 233.0,238.3 234.6,237.9 236.2,237.6 237.9,237.2 239.5,236.9 241.1,236.5 242.8,236.2 244.4,235.8 246.0,235.5 247.7,235.1 249.3,234.6 250.9,234.1 252.6,233.5 254.2,232.9 255.8,232.1 257.5,231.1 259.1,229.9 260.7,228.2 262.4,225.8 264.0,223.1 265.6,220.3 267.3,217.1 268.9,214.0 270.5,211.4 272.2,209.2 273.8,207.2 275.4,205.3 277.1,204.6 278.7,205.7 280.3,207.3 282.0,208.2 283.6,208.2 285.2,208.1 286.9,208.0 288.5,207.6 290.1,206.5 291.8,204.8 293.4,202.8 295.0,200.5 296.7,198.1 298.3,195.9 299.9,193.8 301.6,191.6 303.2,189.3 304.8,187.4 306.5,185.8 308.1,184.3 309.7,183.0 311.4,182.0 313.0,181.4 314.6,180.9 316.2,180.6 317.9,180.5 319.5,180.3 321.1,180.1 322.8,179.9 324.4,179.5 326.0,179.0 327.7,178.2 329.3,177.2 330.9,176.2 332.6,174.8 334.2,173.1 335.8,170.5 337.5,167.6 339.1,164.4 340.7,161.2 342.4,159.0 344.0,157.3 345.6,156.4 347.3,155.9 348.9,155.5 350.5,155.4 352.2,155.4 353.8,155.4 355.4,155.4 357.1,155.3 358.7,155.1 360.3,154.7 362.0,153.6 363.6,151.8 363.6,151.8 362.0,164.2 360.3,172.9 358.7,179.6 357.1,184.9 355.4,188.8 353.8,192.1 352.2,195.1 350.5,198.2 348.9,201.1 347.3,204.0 345.6,206.6 344.0,209.0 342.4,211.2 340.7,213.3 339.1,215.2 337.5,217.0 335.8,218.8 334.2,220.4 332.6,221.9 330.9,223.4 329.3,224.8 327.7,226.1 326.0,227.4 324.4,228.6 322.8,229.9 321.1,231.1 319.5,232.3 317.9,233.5 316.2,234.7 314.6,235.8 313.0,237.0 311.4,238.1 309.7,239.2 308.1,240.3 306.5,241.4 304.8,242.4 303.2,243.4 301.6,244.4 299.9,245.4 298.3,246.4 296.7,247.4 295.0,248.3 293.4,249.3 291.8,250.3 290.1,251.3 288.5,252.3 286.9,253.3 285.2,254.2 283.6,255.2 282.0,256.1 280.3,256.9 278.7,257.8 277.1,258.6 275.4,259.3 273.8,260.0 272.2,260.6 270.5,261.1 268.9,261.6 267.3,262.0 265.6,262.4 264.0,262.9 262.4,263.3 260.7,263.7 259.1,264.3 257.5,264.8 255.8,265.4 254.2,266.1 252.6,266.8 250.9,267.5 249.3,268.2 247.7,268.9 246.0,269.6 244.4,270.2 242.8,270.9 241.1,271.6 239.5,272.3 237.9,273.0 236.2,273.8 234.6,274.6 233.0,275.5 231.3,276.6 229.7,277.7 228.1,278.8 226.4,279.9 224.8,281.1 223.2,282.3 221.5,283.4 219.9,284.3 218.3,285.0 216.6,285.5 215.0,285.9 213.4,286.2 211.7,286.5 210.1,286.7 208.5,286.9 206.9,286.9 205.2,286.9 203.6,286.9 202.0,286.9 200.3,286.9 198.7,286.9 197.1,286.9 195.4,286.9 193.8,286.9 192.2,286.9 190.5,286.8 188.9,286.8 187.3,286.8 185.6,286.8 184.0,286.7 182.4,286.7 180.7,286.7 179.1,286.7 177.5,286.6 175.8,286.6 174.2,286.6 172.6,286.5 170.9,286.5 169.3,286.5 167.7,286.4 166.0,286.4 164.4,286.3 162.8,286.3 161.1,286.2 159.5,286.2 157.9,286.1 156.2,286.0 154.6,286.0 153.0,285.9 151.3,285.8 149.7,285.7 148.1,285.7 146.4,285.6 144.8,285.5 143.2,285.5 141.5,285.4 139.9,285.3 138.3,285.3 136.6,285.2 135.0,285.1 133.4,285.1 131.7,285.0 130.1,284.9 128.5,284.9 126.8,284.8 125.2,284.7 123.6,284.7 121.9,284.7 120.3,284.6 119.0,284.6 118.0,284.6 116.9,284.6 115.9,284.6 114.8,284.6 113.8,284.7 112.8,284.7 111.7,284.9 110.7,285.0 109.6,285.2 108.6,285.3 107.6,285.6 106.5,286.0 105.5,287.0 104.4,288.2 103.4,289.6"/>
<path d="M103.4,289.6 104.4,284.8 105.5,280.5 106.5,277.9 107.6,276.2 108.6,274.9 109.6,273.9 110.7,272.9 111.7,272.0 112.8,271.2 113.8,270.4 114.8,269.7 115.9,269.2 116.9,268.6 118.0,268.2 119.0,267.7 120.3,267.2 121.9,266.6 123.6,266.1 125.2,265.6 126.8,265.1 128.5,264.7 130.1,264.2 131.7,263.8 133.4,263.4 135.0,263.0 136.6,262.6 138.3,262.3 139.9,261.9 141.5,261.5 143.2,261.1 144.8,260.7 146.4,260.3 148.1,259.9 149.7,259.5 151.3,259.1 153.0,258.6 154.6,258.2 156.2,257.8 157.9,257.4 159.5,257.0 161.1,256.6 162.8,256.1 164.4,255.7 166.0,255.3 167.7,254.9 169.3,254.5 170.9,254.1 172.6,253.7 174.2,253.4 175.8,253.0 177.5,252.6 179.1,252.2 180.7,251.9 182.4,251.5 184.0,251.1 185.6,250.7 187.3,250.3 188.9,249.9 190.5,249.5 192.2,249.1 193.8,248.6 195.4,248.2 197.1,247.7 198.7,247.3 200.3,246.8 202.0,246.2 203.6,245.5 205.2,244.2 206.9,243.8 208.5,244.0 210.1,244.1 211.7,243.9 213.4,243.6 215.0,243.1 216.6,242.5 218.3,241.9 219.9,241.3 221.5,240.9 223.2,240.5 224.8,240.2 226.4,239.8 228.1,239.5 229.7,239.1 231.3,238.8 233.0,238.4 234.6,238.0 236.2,237.7 237.9,237.3 239.5,237.0 241.1,236.6 242.8,236.3 244.4,235.9 246.0,235.5 247.7,235.1 249.3,234.7 250.9,234.1 252.6,233.6 254.2,232.9 255.8,232.1 257.5,231.1 259.1,230.0 260.7,228.3 262.4,225.9 264.0,223.2 265.6,220.4 267.3,217.1 268.9,214.0 270.5,211.5 272.2,209.3 273.8,207.3 275.4,205.4 277.1,204.6 278.7,205.7 280.3,207.3 282.0,208.2 283.6,208.2 285.2,208.1 286.9,208.0 288.5,207.6 290.1,206.5 291.8,204.9 293.4,202.8 295.0,200.5 296.7,198.2 298.3,196.0 299.9,193.9 301.6,191.6 303.2,189.4 304.8,187.5 306.5,185.9 308.1,184.4 309.7,183.1 311.4,182.1 313.0,181.5 314.6,181.0 316.2,180.7 317.9,180.5 319.5,180.3 321.1,180.2 322.8,179.9 324.4,179.6 326.0,179.0 327.7,178.2 329.3,177.3 330.9,176.2 332.6,174.8 334.2,173.1 335.8,170.5 337.5,167.6 339.1,164.4 340.7,161.2 342.4,159.1 344.0,157.4 345.6,156.4 347.3,155.9 348.9,155.6 350.5,155.4 352.2,155.4 353.8,155.4 355.4,155.4 357.1,155.4 358.7,155.1 360.3,154.7 362.0,153.6 363.6,151.8 363.6,151.8 362.0,164.3 360.3,173.0 358.7,179.7 357.1,185.1 355.4,189.0 353.8,192.3 352.2,195.3 350.5,198.3 348.9,201.3 347.3,204.1 345.6,206.7 344.0,209.2 342.4,211.3 340.7,213.4 339.1,215.3 337.5,217.1 335.8,218.9 334.2,220.5 332.6,222.0 330.9,223.5 329.3,224.9 327.7,226.2 326.0,227.5 324.4,228.7 322.8,229.9 321.1,231.2 319.5,232.4 317.9,233.6 316.2,234.7 314.6,235.9 313.0,237.0 311.4,238.2 309.7,239.3 308.1,240.4 306.5,241.4 304.8,242.5 303.2,243.5 301.6,244.5 299.9,245.5 298.3,246.4 296.7,247.4 295.0,248.4 293.4,249.4 291.8,250.3 290.1,251.3 288.5,252.3 286.9,253.3 285.2,254.2 283.6,255.2 282.0,256.1 280.3,256.9 278.7,257.7 277.1,258.5 275.4,259.3 273.8,260.0 272.2,260.6 270.5,261.1 268.9,261.5 267.3,261.9 265.6,262.3 264.0,262.7 262.4,263.2 260.7,263.6 259.1,264.1 257.5,264.7 255.8,265.3 254.2,265.9 252.6,266.6 250.9,267.3 249.3,268.0 247.7,268.7 246.0,269.4 244.4,270.1 242.8,270.8 241.1,271.5 239.5,272.2 237.9,272.9 236.2,273.7 234.6,274.5 233.0,275.4 231.3,276.4 229.7,277.5 228.1,278.6 226.4,279.7 224.8,280.9 223.2,282.1 221.5,283.2 219.9,284.0 218.3,284.7 216.6,285.3 215.0,285.6 213.4,286.0 211.7,286.3 210.1,286.5 208.5,286.6 206.9,286.7 205.2,286.7 203.6,286.8 202.0,286.8 200.3,286.8 198.7,286.8 197.1,286.8 195.4,286.7 193.8,286.7 192.2,286.7 190.5,286.7 188.9,286.7 187.3,286.7 185.6,286.7 184.0,286.6 182.4,286.6 180.7,286.6 179.1,286.5 177.5,286.5 175.8,286.5 174.2,286.4 172.6,286.4 170.9,286.4 169.3,286.3 167.7,286.3 166.0,286.3 164.4,286.2 162.8,286.2 161.1,286.1 159.5,286.0 157.9,286.0 156.2,285.9 154.6,285.8 153.0,285.8 151.3,285.7 149.7,285.6 148.1,285.5 146.4,285.5 144.8,285.4 143.2,285.3 141.5,285.3 139.9,285.2 138.3,285.1 136.6,285.1 135.0,285.0 133.4,284.9 131.7,284.8 130.1,284.8 128.5,284.7 126.8,284.6 125.2,284.6 123.6,284.5 121.9,284.5 120.3,284.5 119.0,284.4 118.0,284.4 116.9,284.4 115.9,284.4 114.8,284.5 113.8,284.5 112.8,284.6 111.7,284.7 110.7,284.8 109.6,285.0 108.6,285.2 107.6,285.4 106.5,285.9 105.5,286.9 104.4,288.2 103.4,289.6"/>
<path d="M103.4,289.6 104.4,284.8 105.5,280.5 106.5,277.9 107.6,276.3 108.6,275.0 109.6,273.9 110.7,273.0 111.7,272.0 112.8,271.2 113.8,270.5 114.8,269.8 115.9,269.2 116.9,268.7 118.0,268.2 119.0,267.8 120.3,267.3 121.9,266.7 123.6,266.2 125.2,265.7 126.8,265.3 128.5,264.8 130.1,264.3 131.7,263.9 133.4,263.5 135.0,263.1 136.6,262.8 138.3,262.4 139.9,262.0 141.5,261.6 143.2,261.3 144.8,260.8 146.4,260.4 148.1,260.0 149.7,259.6 151.3,259.2 153.0,258.8 154.6,258.4 156.2,258.0 157.9,257.5 159.5,257.1 161.1,256.7 162.8,256.3 164.4,255.9 166.0,255.5 167.7,255.1 169.3,254.7 170.9,254.3 172.6,253.9 174.2,253.5 175.8,253.1 177.5,252.7 179.1,252.4 180.7,252.0 182.4,251.6 184.0,251.2 185.6,250.8 187.3,250.4 188.9,250.0 190.5,249.6 192.2,249.2 193.8,248.7 195.4,248.3 197.1,247.9 198.7,247.4 200.3,246.9 202.0,246.3 203.6,245.6 205.2,244.3 206.9,243.9 208.5,244.1 210.1,244.2 211.7,244.1 213.4,243.7 215.0,243.2 216.6,242.6 218.3,242.0 219.9,241.4 221.5,241.0 223.2,240.6 224.8,240.3 226.4,239.9 228.1,239.6 229.7,239.2 231.3,238.9 233.0,238.5 234.6,238.1 236.2,237.8 237.9,237.4 239.5,237.1 241.1,236.7 242.8,236.4 244.4,236.0 246.0,235.6 247.7,235.2 249.3,234.7 250.9,234.2 252.6,233.6 254.2,232.9 255.8,232.1 257.5,231.2 259.1,230.0 260.7,228.3 262.4,225.9 264.0,223.3 265.6,220.4 267.3,217.2 268.9,214.1 270.5,211.5 272.2,209.3 273.8,207.3 275.4,205.4 277.1,204.6 278.7,205.8 280.3,207.3 282.0,208.3 283.6,208.3 285.2,208.2 286.9,208.0 288.5,207.6 290.1,206.6 291.8,204.9 293.4,202.8 295.0,200.5 296.7,198.2 298.3,196.0 299.9,193.9 301.6,191.7 303.2,189.5 304.8,187.5 306.5,185.9 308.1,184.5 309.7,183.2 311.4,182.2 313.0,181.6 314.6,181.2 316.2,180.8 317.9,180.6 319.5,180.4 321.1,180.2 322.8,179.9 324.4,179.6 326.0,179.0 327.7,178.2 329.3,177.3 330.9,176.2 332.6,174.9 334.2,173.1 335.8,170.5 337.5,167.6 339.1,164.4 340.7,161.2 342.4,159.1 344.0,157.4 345.6,156.4 347.3,155.9 348.9,155.6 350.5,155.4 352.2,155.4 353.8,155.4 355.4,155.4 357.1,155.4 358.7,155.1 360.3,154.7 362.0,153.6 363.6,151.8 363.6,151.8 362.0,164.3 360.3,173.1 358.7,179.8 357.1,185.2 355.4,189.1 353.8,192.4 352.2,195.4 350.5,198.4 348.9,201.4 347.3,204.2 345.6,206.8 344.0,209.3 342.4,211.4 340.7,213.5 339.1,215.4 337.5,217.2 335.8,218.9 334.2,220.6 332.6,222.1 330.9,223.6 329.3,225.0 327.7,226.3 326.0,227.6 324.4,228.8 322.8,230.0 321.1,231.2 319.5,232.4 317.9,233.6 316.2,234.8 314.6,236.0 313.0,237.1 311.4,238.2 309.7,239.3 308.1,240.4 306.5,241.5 304.8,242.5 303.2,243.5 301.6,244.5 299.9,245.5 298.3,246.5 296.7,247.5 295.0,248.4 293.4,249.4 291.8,250.4 290.1,251.3 288.5,252.3 286.9,253.3 285.2,254.3 283.6,255.2 282.0,256.1 280.3,256.9 278.7,257.7 277.1,258.5 275.4,259.3 273.8,259.9 272.2,260.5 270.5,261.0 268.9,261.5 267.3,261.9 265.6,262.2 264.0,262.6 262.4,263.0 260.7,263.5 259.1,264.0 257.5,264.5 255.8,265.2 254.2,265.8 252.6,266.5 250.9,267.2 249.3,267.9 247.7,268.6 246.0,269.3 244.4,270.0 242.8,270.7 241.1,271.4 239.5,272.1 237.9,272.8 236.2,273.6 234.6,274.4 233.0,275.3 231.3,276.3 229.7,277.4 228.1,278.5 226.4,279.5 224.8,280.7 223.2,281.9 221.5,282.9 219.9,283.8 218.3,284.5 216.6,285.0 215.0,285.4 213.4,285.7 211.7,286.0 210.1,286.3 208.5,286.4 206.9,286.5 205.2,286.5 203.6,286.6 202.0,286.6 200.3,286.6 198.7,286.6 197.1,286.6 195.4,286.6 193.8,286.6 192.2,286.6 190.5,286.6 188.9,286.6 187.3,286.6 185.6,286.5 184.0,286.5 182.4,286.5 180.7,286.5 179.1,286.4 177.5,286.4 175.8,286.4 174.2,286.3 172.6,286.3 170.9,286.3 169.3,286.2 167.7,286.2 166.0,286.2 164.4,286.1 162.8,286.1 161.1,286.0 159.5,285.9 157.9,285.9 156.2,285.8 154.6,285.7 153.0,285.6 151.3,285.5 149.7,285.5 148.1,285.4 146.4,285.3 144.8,285.3 143.2,285.2 141.5,285.1 139.9,285.1 138.3,285.0 136.6,284.9 135.0,284.8 133.4,284.8 131.7,284.7 130.1,284.6 128.5,284.6 126.8,284.5 125.2,284.4 123.6,284.4 121.9,284.3 120.3,284.3 119.0,284.3 118.0,284.3 116.9,284.3 115.9,284.3 114.8,284.3 113.8,284.4 112.8,284.4 111.7,284.5 110.7,284.7 109.6,284.9 108.6,285.1 107.6,285.3 106.5,285.7 105.5,286.7 104.4,288.1 103.4,289.6"/>
<path d="M103.4,289.6 104.4,284.8 105.5,280.6 106.5,278.0 107.6,276.3 108.6,275.1 109.6,274.0 110.7,273.0 111.7,272.1 112.8,271.3 113.8,270.5 114.8,269.9 115.9,269.3 116.9,268.8 118.0,268.3 119.0,267.9 120.3,267.4 121.9,266.8 123.6,266.3 125.2,265.8 126.8,265.4 128.5,264.9 130.1,264.5 131.7,264.0 133.4,263.6 135.0,263.3 136.6,262.9 138.3,262.5 139.9,262.2 141.5,261.8 143.2,261.4 144.8,261.0 146.4,260.6 148.1,260.2 149.7,259.8 151.3,259.4 153.0,258.9 154.6,258.5 156.2,258.1 157.9,257.7 159.5,257.3 161.1,256.9 162.8,256.5 164.4,256.0 166.0,255.6 167.7,255.2 169.3,254.8 170.9,254.4 172.6,254.0 174.2,253.6 175.8,253.3 177.5,252.9 179.1,252.5 180.7,252.1 182.4,251.8 184.0,251.4 185.6,251.0 187.3,250.6 188.9,250.2 190.5,249.7 192.2,249.3 193.8,248.9 195.4,248.4 197.1,248.0 198.7,247.5 200.3,247.0 202.0,246.5 203.6,245.8 205.2,244.4 206.9,244.0 208.5,244.2 210.1,244.3 211.7,244.2 213.4,243.8 215.0,243.3 216.6,242.7 218.3,242.1 219.9,241.6 221.5,241.1 223.2,240.8 224.8,240.4 226.4,240.0 228.1,239.7 229.7,239.3 231.3,239.0 233.0,238.6 234.6,238.2 236.2,237.9 237.9,237.5 239.5,237.2 241.1,236.8 242.8,236.5 244.4,236.1 246.0,235.7 247.7,235.2 249.3,234.7 250.9,234.2 252.6,233.6 254.2,233.0 255.8,232.2 257.5,231.3 259.1,230.2 260.7,228.4 262.4,226.1 264.0,223.4 265.6,220.5 267.3,217.3 268.9,214.1 270.5,211.6 272.2,209.4 273.8,207.3 275.4,205.4 277.1,204.6 278.7,205.8 280.3,207.3 282.0,208.3 283.6,208.3 285.2,208.2 286.9,208.0 288.5,207.7 290.1,206.6 291.8,204.9 293.4,202.9 295.0,200.6 296.7,198.2 298.3,196.1 299.9,194.0 301.6,191.8 303.2,189.6 304.8,187.7 306.5,186.1 308.1,184.6 309.7,183.4 311.4,182.4 313.0,181.8 314.6,181.3 316.2,181.0 317.9,180.7 319.5,180.5 321.1,180.2 322.8,180.0 324.4,179.6 326.0,179.1 327.7,178.3 329.3,177.3 330.9,176.2 332.6,174.9 334.2,173.1 335.8,170.6 337.5,167.6 339.1,164.4 340.7,161.2 342.4,159.1 344.0,157.4 345.6,156.4 347.3,155.9 348.9,155.6 350.5,155.4 352.2,155.4 353.8,155.4 355.4,155.4 357.1,155.4 358.7,155.1 360.3,154.7 362.0,153.6 363.6,151.8 363.6,151.8 362.0,164.4 360.3,173.2 358.7,179.9 357.1,185.3 355.4,189.3 353.8,192.5 352.2,195.5 350.5,198.5 348.9,201.5 347.3,204.3 345.6,206.9 344.0,209.3 342.4,211.5 340.7,213.6 339.1,215.5 337.5,217.3 335.8,219.0 334.2,220.6 332.6,222.2 330.9,223.6 329.3,225.0 327.7,226.4 326.0,227.6 324.4,228.9 322.8,230.1 321.1,231.3 319.5,232.5 317.9,233.7 316.2,234.9 314.6,236.0 313.0,237.1 311.4,238.3 309.7,239.4 308.1,240.4 306.5,241.5 304.8,242.6 303.2,243.6 301.6,244.6 299.9,245.6 298.3,246.5 296.7,247.5 295.0,248.4 293.4,249.4 291.8,250.4 290.1,251.4 288.5,252.3 286.9,253.3 285.2,254.3 283.6,255.2 282.0,256.1 280.3,256.9 278.7,257.7 277.1,258.5 275.4,259.2 273.8,259.9 272.2,260.5 270.5,260.9 268.9,261.4 267.3,261.8 265.6,262.1 264.0,262.5 262.4,262.9 260.7,263.4 259.1,263.9 257.5,264.4 255.8,265.0 254.2,265.7 252.6,266.3 250.9,267.0 249.3,267.8 247.7,268.5 246.0,269.2 244.4,269.9 242.8,270.6 241.1,271.3 239.5,272.0 237.9,272.8 236.2,273.5 234.6,274.3 233.0,275.2 231.3,276.2 229.7,277.2 228.1,278.3 226.4,279.4 224.8,280.5 223.2,281.6 221.5,282.7 219.9,283.5 218.3,284.2 216.6,284.7 215.0,285.1 213.4,285.5 211.7,285.8 210.1,286.1 208.5,286.2 206.9,286.3 205.2,286.3 203.6,286.4 202.0,286.4 200.3,286.4 198.7,286.5 197.1,286.5 195.4,286.5 193.8,286.5 192.2,286.5 190.5,286.5 188.9,286.4 187.3,286.4 185.6,286.4 184.0,286.4 182.4,286.4 180.7,286.3 179.1,286.3 177.5,286.3 175.8,286.3 174.2,286.2 172.6,286.2 170.9,286.2 169.3,286.1 167.7,286.1 166.0,286.0 164.4,286.0 162.8,285.9 161.1,285.9 159.5,285.8 157.9,285.7 156.2,285.7 154.6,285.6 153.0,285.5 151.3,285.4 149.7,285.3 148.1,285.3 146.4,285.2 144.8,285.1 143.2,285.0 141.5,285.0 139.9,284.9 138.3,284.8 136.6,284.8 135.0,284.7 133.4,284.6 131.7,284.5 130.1,284.5 128.5,284.4 126.8,284.3 125.2,284.3 123.6,284.2 121.9,284.2 120.3,284.1 119.0,284.1 118.0,284.1 116.9,284.1 115.9,284.1 114.8,284.1 113.8,284.2 112.8,284.3 111.7,284.4 110.7,284.5 109.6,284.7 108.6,284.9 107.6,285.1 106.5,285.6 105.5,286.6 104.4,288.1 103.4,289.6"/>
<path d="M103.4,263.9 105.2,263.4 106.9,262.8 108.7,262.2 110.5,261.7 112.2,261.2 114.0,260.7 115.7,260.2 117.5,259.7 119.3,259.3 121.0,258.8 122.8,258.4 124.6,258.0 126.3,257.6 128.1,257.2 129.9,256.8 131.6,256.5 133.4,256.1 135.2,255.8 136.9,255.5 138.7,255.2 140.4,254.9 142.2,254.6 144.0,254.3 145.7,254.0 147.5,253.8 149.3,253.5 151.0,253.3 152.8,253.0 154.6,252.8 156.3,252.5 158.1,252.3 159.9,252.0 161.6,251.8 163.4,251.5 165.1,251.2 166.9,250.9 168.7,250.6 170.4,250.3 172.2,250.0 174.0,249.6 175.7,249.3 177.5,249.0 179.3,248.6 181.0,248.2 182.8,247.9 184.5,247.5 186.3,247.1 188.1,246.8 189.8,246.4 191.6,246.0 193.4,245.6 195.1,245.2 196.9,244.8 198.7,244.5 200.4,244.1 202.2,243.6 204.0,242.9 205.7,241.5 207.5,241.5"/>
</g>
<rect x="70.7" y="40.2" width="325.3" height="290.8" fill="none" stroke="#161616" stroke-width="1.5"/>
<g stroke="#161616" stroke-width="1.5" fill="none">
<path d="M64.4,331.0 H70.7"/>
<path d="M64.4,294.6 H70.7"/>
<path d="M64.4,258.3 H70.7"/>
<path d="M64.4,222.0 H70.7"/>
<path d="M64.4,185.6 H70.7"/>
<path d="M64.4,149.2 H70.7"/>
<path d="M64.4,112.9 H70.7"/>
<path d="M64.4,76.6 H70.7"/>
<path d="M64.4,40.2 H70.7"/>
<path d="M67.5,312.8 H70.7"/>
<path d="M67.5,276.5 H70.7"/>
<path d="M67.5,240.1 H70.7"/>
<path d="M67.5,203.8 H70.7"/>
<path d="M67.5,167.4 H70.7"/>
<path d="M67.5,131.1 H70.7"/>
<path d="M67.5,94.7 H70.7"/>
<path d="M67.5,58.4 H70.7"/>
<path d="M103.4,331.0 V336.8"/>
<path d="M168.4,331.0 V336.8"/>
<path d="M233.5,331.0 V336.8"/>
<path d="M298.5,331.0 V336.8"/>
<path d="M363.6,331.0 V336.8"/>
<path d="M70.9,331.0 V333.8"/>
<path d="M135.9,331.0 V333.8"/>
<path d="M201.0,331.0 V333.8"/>
<path d="M266.0,331.0 V333.8"/>
<path d="M331.1,331.0 V333.8"/>
<path d="M396.1,331.0 V333.8"/>
</g>
<g font-family="'Liberation Sans', Arial, sans-serif" font-weight="bold" fill="#0c0c0c" stroke="#0c0c0c" stroke-width="0.3">
<g font-size="14px" text-anchor="end">
<text transform="translate(60.4,335.4) scale(1.05,1)">-40</text>
<text transform="translate(60.4,299.0) scale(1.05,1)">-20</text>
<text transform="translate(60.4,262.7) scale(1.05,1)">0</text>
<text transform="translate(60.4,226.4) scale(1.05,1)">20</text>
<text transform="translate(60.4,190.0) scale(1.05,1)">40</text>
<text transform="translate(60.4,153.7) scale(1.05,1)">60</text>
<text transform="translate(60.4,117.3) scale(1.05,1)">80</text>
<text transform="translate(60.4,81.0) scale(1.05,1)">100</text>
<text transform="translate(60.4,44.6) scale(1.05,1)">120</text>
</g>
<g font-size="14px" text-anchor="middle">
<text transform="translate(103.4,351.5) scale(1.04,1)">0.0</text>
<text transform="translate(168.4,351.5) scale(1.04,1)">0.5</text>
<text transform="translate(233.5,351.5) scale(1.04,1)">1.0</text>
<text transform="translate(298.5,351.5) scale(1.04,1)">1.5</text>
<text transform="translate(363.6,351.5) scale(1.04,1)">2.0</text>
</g>
<text transform="translate(233.4,377.3) scale(1.06,1)" font-size="15px" text-anchor="middle">Potential / V</text>
<text transform="translate(27.2,188.3) rotate(-90)" font-size="15px" text-anchor="middle">WE Current /<tspan font-weight="normal">μ</tspan>A</text>
<g font-size="15.5px">
<text transform="translate(299.2,72.9) scale(1.035,1)">1.86 V</text>
<text transform="translate(264.3,126.1) scale(1.035,1)">1.65 V</text>
<text transform="translate(237.3,189.1) scale(1.035,1)">1.21 V</text>
</g>
</g>
<g font-family="'Liberation Serif', 'Times New Roman', serif" font-weight="bold" font-size="16.4px" fill="#0c0c0c" stroke="#0c0c0c" stroke-width="0.25">
<text transform="translate(0.0,18.7) scale(1.3,1)">(A)</text>
<text transform="translate(414.0,14.3) scale(1.28,1)">(B)</text>
</g>
</g>
</svg>
</body></html>
